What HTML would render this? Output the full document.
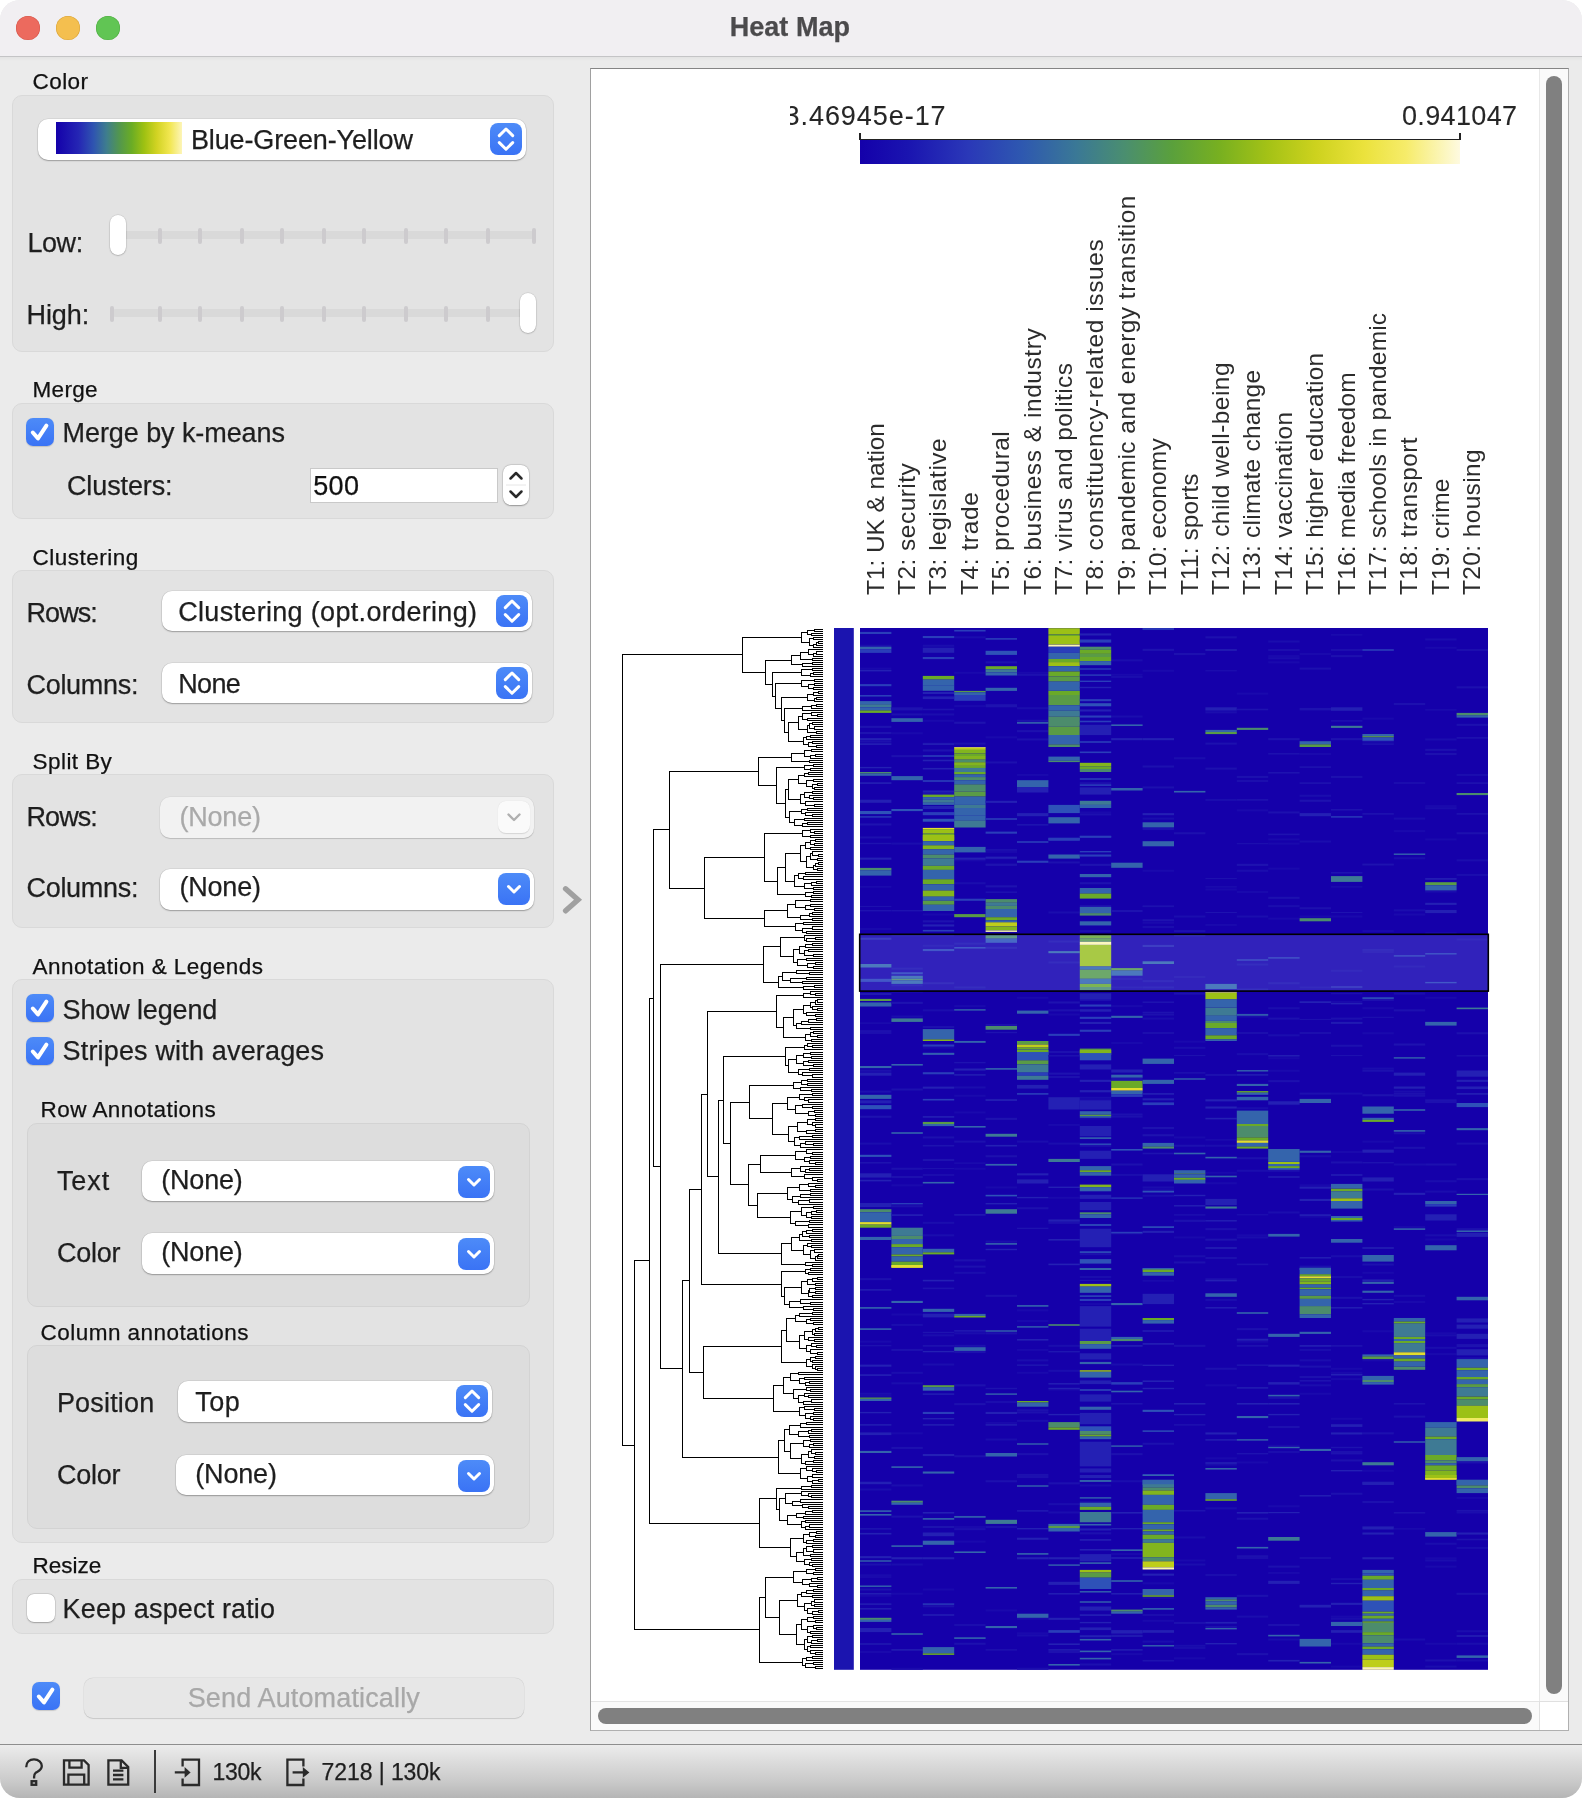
<!DOCTYPE html>
<html><head><meta charset="utf-8"><title>Heat Map</title>
<style>
html,body{margin:0;padding:0;}
body{width:1582px;height:1798px;position:relative;overflow:hidden;background:#fff;font-family:"Liberation Sans",Arial,sans-serif;}
.t{position:absolute;white-space:nowrap;line-height:1;-webkit-text-stroke:0.25px currentColor;}
</style></head><body><div style="position:absolute;left:0;top:0;width:1582px;height:1798px;border-radius:20px;overflow:hidden;background:#ebebeb;">
<div style="position:absolute;left:0px;top:0px;width:1582px;height:57px;background:#f1eff2;border-bottom:1px solid #c4c4c6;box-sizing:border-box;"></div>
<div style="position:absolute;left:0px;top:57px;width:1582px;height:4px;background:linear-gradient(rgba(0,0,0,0.035),rgba(0,0,0,0));"></div>
<div style="position:absolute;left:16px;top:16px;width:24px;height:24px;border-radius:50%;background:#ec6a5e;box-shadow:inset 0 0 0 0.5px #d25448;"></div>
<div style="position:absolute;left:56px;top:16px;width:24px;height:24px;border-radius:50%;background:#f4bf4f;box-shadow:inset 0 0 0 0.5px #d6a036;"></div>
<div style="position:absolute;left:96px;top:16px;width:24px;height:24px;border-radius:50%;background:#61c554;box-shadow:inset 0 0 0 0.5px #4ca93f;"></div>
<div class="t" style="left:729.70px;top:14.00px;font-size:27px;color:#4b4a4c;letter-spacing:0.043px;font-weight:bold;">Heat Map</div>
<div class="t" style="left:32.60px;top:71.00px;font-size:22.5px;color:#111;letter-spacing:0.400px;">Color</div>
<div style="position:absolute;left:12px;top:95px;width:542px;height:256.5px;background:#e3e3e3;border:1px solid #d9d9d9;border-radius:10px;box-sizing:border-box;"></div>
<div style="position:absolute;left:38px;top:119px;width:488px;height:40.5px;background:#fff;border-radius:10px;box-shadow:0 1px 1.5px rgba(0,0,0,0.28),0 0 0 0.5px rgba(0,0,0,0.10);"></div>
<div style="position:absolute;left:490px;top:123px;width:32px;height:32px;border-radius:8px;background:linear-gradient(#4d8bf8,#3a73f5);"><svg width="32" height="32" viewBox="0 0 32 32" style="position:absolute;left:0;top:0"><path d="M9.3 12.6 L16 6 L22.7 12.6 M9.3 19.6 L16 26.2 L22.7 19.6" fill="none" stroke="#fff" stroke-width="3" stroke-linecap="round" stroke-linejoin="round"/></svg></div>
<div style="position:absolute;left:56px;top:122px;width:126px;height:32px;background:linear-gradient(90deg,#1400aa 0%,#2526b4 18%,#2f55b0 30%,#3e7d8e 40%,#52964f 50%,#6aac25 60%,#9ec112 70%,#d2d323 80%,#f1e64f 90%,#fdf5b8 100%);"></div>
<div class="t" style="left:191.00px;top:127.00px;font-size:27px;color:#1e1e1e;letter-spacing:-0.137px;">Blue-Green-Yellow</div>
<div class="t" style="left:27.40px;top:230.00px;font-size:27px;color:#1e1e1e;letter-spacing:-0.400px;">Low:</div>
<div style="position:absolute;left:112px;top:231px;width:423px;height:8px;background:#d9d9d9;border-radius:4px;"></div>
<div style="position:absolute;left:158px;top:228px;width:4px;height:16px;background:#cdcbce;border-radius:2px;"></div>
<div style="position:absolute;left:198px;top:228px;width:4px;height:16px;background:#cdcbce;border-radius:2px;"></div>
<div style="position:absolute;left:239.7px;top:228px;width:4.0px;height:16px;background:#cdcbce;border-radius:2px;"></div>
<div style="position:absolute;left:279.8px;top:228px;width:4.0px;height:16px;background:#cdcbce;border-radius:2px;"></div>
<div style="position:absolute;left:321.9px;top:228px;width:4.0px;height:16px;background:#cdcbce;border-radius:2px;"></div>
<div style="position:absolute;left:361.7px;top:228px;width:4.0px;height:16px;background:#cdcbce;border-radius:2px;"></div>
<div style="position:absolute;left:403.8px;top:228px;width:4.0px;height:16px;background:#cdcbce;border-radius:2px;"></div>
<div style="position:absolute;left:444px;top:228px;width:4px;height:16px;background:#cdcbce;border-radius:2px;"></div>
<div style="position:absolute;left:485.7px;top:228px;width:4.0px;height:16px;background:#cdcbce;border-radius:2px;"></div>
<div style="position:absolute;left:532px;top:228px;width:4px;height:16px;background:#cdcbce;border-radius:2px;"></div>
<div style="position:absolute;left:109.7px;top:214.5px;width:16.39999999999999px;height:40.69999999999999px;background:#fff;border-radius:8.2px;box-shadow:0 0.5px 1.5px rgba(0,0,0,0.3),0 0 0 0.5px rgba(0,0,0,0.08);"></div>
<div class="t" style="left:26.50px;top:302.00px;font-size:27px;color:#1e1e1e;letter-spacing:-0.100px;">High:</div>
<div style="position:absolute;left:112px;top:309px;width:423px;height:8px;background:#d9d9d9;border-radius:4px;"></div>
<div style="position:absolute;left:110px;top:306px;width:4px;height:16px;background:#cdcbce;border-radius:2px;"></div>
<div style="position:absolute;left:158px;top:306px;width:4px;height:16px;background:#cdcbce;border-radius:2px;"></div>
<div style="position:absolute;left:198px;top:306px;width:4px;height:16px;background:#cdcbce;border-radius:2px;"></div>
<div style="position:absolute;left:239.7px;top:306px;width:4.0px;height:16px;background:#cdcbce;border-radius:2px;"></div>
<div style="position:absolute;left:279.8px;top:306px;width:4.0px;height:16px;background:#cdcbce;border-radius:2px;"></div>
<div style="position:absolute;left:321.9px;top:306px;width:4.0px;height:16px;background:#cdcbce;border-radius:2px;"></div>
<div style="position:absolute;left:361.7px;top:306px;width:4.0px;height:16px;background:#cdcbce;border-radius:2px;"></div>
<div style="position:absolute;left:403.8px;top:306px;width:4.0px;height:16px;background:#cdcbce;border-radius:2px;"></div>
<div style="position:absolute;left:444px;top:306px;width:4px;height:16px;background:#cdcbce;border-radius:2px;"></div>
<div style="position:absolute;left:485.7px;top:306px;width:4.0px;height:16px;background:#cdcbce;border-radius:2px;"></div>
<div style="position:absolute;left:519.5px;top:292.5px;width:16.399999999999977px;height:40.69999999999999px;background:#fff;border-radius:8.2px;box-shadow:0 0.5px 1.5px rgba(0,0,0,0.3),0 0 0 0.5px rgba(0,0,0,0.08);"></div>
<div class="t" style="left:32.60px;top:379.00px;font-size:22.5px;color:#111;letter-spacing:0.275px;">Merge</div>
<div style="position:absolute;left:12px;top:402.5px;width:542px;height:116.0px;background:#e3e3e3;border:1px solid #d9d9d9;border-radius:10px;box-sizing:border-box;"></div>
<div style="position:absolute;left:26px;top:418px;width:28px;height:28px;border-radius:7px;background:linear-gradient(#4d8bf8,#3a73f5);box-shadow:0 0.5px 1px rgba(0,0,0,0.15);"><svg width="28" height="28" viewBox="0 0 28 28" style="position:absolute;left:0;top:0"><path d="M6.8 14.5 L12 20.4 L20.4 7.6" fill="none" stroke="#fff" stroke-width="4" stroke-linecap="round" stroke-linejoin="round"/></svg></div>
<div class="t" style="left:62.60px;top:420.00px;font-size:27px;color:#1e1e1e;letter-spacing:-0.080px;">Merge by k-means</div>
<div class="t" style="left:67.00px;top:473.00px;font-size:27px;color:#1e1e1e;letter-spacing:-0.125px;">Clusters:</div>
<div style="position:absolute;left:310px;top:468px;width:188px;height:35px;background:#fff;box-shadow:0 0 0 1px #c9c9c9 inset,0 1px 0 #bdbdbd inset;"></div>
<div class="t" style="left:313.20px;top:473.00px;font-size:27px;color:#111;letter-spacing:0.400px;">500</div>
<div style="position:absolute;left:503px;top:465px;width:26px;height:40px;border-radius:8px;background:#fff;box-shadow:0 0.5px 1.5px rgba(0,0,0,0.3),0 0 0 0.5px rgba(0,0,0,0.1);"><svg width="26" height="40" viewBox="0 0 26 40" style="position:absolute;left:0;top:0"><path d="M7.5 13.5 L13 8 L18.5 13.5 M7.5 26.5 L13 32 L18.5 26.5" fill="none" stroke="#2a2a2a" stroke-width="2.5" stroke-linecap="round" stroke-linejoin="round"/><line x1="3" y1="20" x2="23" y2="20" stroke="#e6e6e6" stroke-width="1"/></svg></div>
<div class="t" style="left:32.60px;top:547.00px;font-size:22.5px;color:#111;letter-spacing:0.500px;">Clustering</div>
<div style="position:absolute;left:12px;top:570px;width:542px;height:153.29999999999995px;background:#e3e3e3;border:1px solid #d9d9d9;border-radius:10px;box-sizing:border-box;"></div>
<div class="t" style="left:26.50px;top:600.00px;font-size:27px;color:#1e1e1e;letter-spacing:-0.925px;">Rows:</div>
<div style="position:absolute;left:162px;top:591.3px;width:369.70000000000005px;height:39.80000000000007px;background:#fff;border-radius:10px;box-shadow:0 1px 1.5px rgba(0,0,0,0.28),0 0 0 0.5px rgba(0,0,0,0.10);"></div>
<div style="position:absolute;left:496px;top:595px;width:32px;height:32px;border-radius:8px;background:linear-gradient(#4d8bf8,#3a73f5);"><svg width="32" height="32" viewBox="0 0 32 32" style="position:absolute;left:0;top:0"><path d="M9.3 12.6 L16 6 L22.7 12.6 M9.3 19.6 L16 26.2 L22.7 19.6" fill="none" stroke="#fff" stroke-width="3" stroke-linecap="round" stroke-linejoin="round"/></svg></div>
<div class="t" style="left:178.20px;top:599.00px;font-size:27px;color:#1e1e1e;letter-spacing:0.321px;">Clustering (opt.ordering)</div>
<div class="t" style="left:26.50px;top:672.00px;font-size:27px;color:#1e1e1e;letter-spacing:-0.300px;">Columns:</div>
<div style="position:absolute;left:162px;top:663.4px;width:369.70000000000005px;height:39.80000000000007px;background:#fff;border-radius:10px;box-shadow:0 1px 1.5px rgba(0,0,0,0.28),0 0 0 0.5px rgba(0,0,0,0.10);"></div>
<div style="position:absolute;left:496px;top:667px;width:32px;height:32px;border-radius:8px;background:linear-gradient(#4d8bf8,#3a73f5);"><svg width="32" height="32" viewBox="0 0 32 32" style="position:absolute;left:0;top:0"><path d="M9.3 12.6 L16 6 L22.7 12.6 M9.3 19.6 L16 26.2 L22.7 19.6" fill="none" stroke="#fff" stroke-width="3" stroke-linecap="round" stroke-linejoin="round"/></svg></div>
<div class="t" style="left:178.20px;top:671.00px;font-size:27px;color:#1e1e1e;letter-spacing:-0.633px;">None</div>
<div class="t" style="left:32.60px;top:751.00px;font-size:22.5px;color:#111;letter-spacing:0.429px;">Split By</div>
<div style="position:absolute;left:12px;top:774px;width:542px;height:153.5px;background:#e3e3e3;border:1px solid #d9d9d9;border-radius:10px;box-sizing:border-box;"></div>
<div class="t" style="left:26.50px;top:804.00px;font-size:27px;color:#1e1e1e;letter-spacing:-0.925px;">Rows:</div>
<div style="position:absolute;left:160px;top:797px;width:374px;height:40.5px;background:#f2f2f2;border-radius:10px;box-shadow:0 1px 1px rgba(0,0,0,0.15),0 0 0 0.5px rgba(0,0,0,0.06);"></div>
<div style="position:absolute;left:498px;top:801px;width:32px;height:32px;border-radius:8px;background:#fafafa;box-shadow:0 0.5px 1px rgba(0,0,0,0.12);"><svg width="32" height="32" viewBox="0 0 32 32" style="position:absolute;left:0;top:0"><path d="M10.5 13.5 L16 19 L21.5 13.5" fill="none" stroke="#b0b0b0" stroke-width="2.4" stroke-linecap="round" stroke-linejoin="round"/></svg></div>
<div class="t" style="left:179.40px;top:804.00px;font-size:27px;color:#a9a9a9;letter-spacing:-0.180px;">(None)</div>
<div class="t" style="left:26.50px;top:875.00px;font-size:27px;color:#1e1e1e;letter-spacing:-0.300px;">Columns:</div>
<div style="position:absolute;left:160px;top:869px;width:374px;height:40.5px;background:#fff;border-radius:10px;box-shadow:0 1px 1.5px rgba(0,0,0,0.28),0 0 0 0.5px rgba(0,0,0,0.10);"></div>
<div style="position:absolute;left:498px;top:873px;width:32px;height:32px;border-radius:8px;background:linear-gradient(#4d8bf8,#3a73f5);"><svg width="32" height="32" viewBox="0 0 32 32" style="position:absolute;left:0;top:0"><path d="M10.5 13.5 L16 19 L21.5 13.5" fill="none" stroke="#fff" stroke-width="3" stroke-linecap="round" stroke-linejoin="round"/></svg></div>
<div class="t" style="left:179.40px;top:874.00px;font-size:27px;color:#1e1e1e;letter-spacing:-0.180px;">(None)</div>
<svg style="position:absolute;left:556px;top:880px" width="32" height="40" viewBox="0 0 32 40"><path d="M9.6 8.8 L22 19.8 L9.6 30.8" fill="none" stroke="#a0a0a0" stroke-width="5.4" stroke-linecap="round" stroke-linejoin="miter"/></svg>
<div class="t" style="left:32.60px;top:956.00px;font-size:22.5px;color:#111;letter-spacing:0.474px;">Annotation &amp; Legends</div>
<div style="position:absolute;left:12px;top:979px;width:542px;height:564px;background:#e3e3e3;border:1px solid #d9d9d9;border-radius:10px;box-sizing:border-box;"></div>
<div style="position:absolute;left:26px;top:994px;width:28px;height:28px;border-radius:7px;background:linear-gradient(#4d8bf8,#3a73f5);box-shadow:0 0.5px 1px rgba(0,0,0,0.15);"><svg width="28" height="28" viewBox="0 0 28 28" style="position:absolute;left:0;top:0"><path d="M6.8 14.5 L12 20.4 L20.4 7.6" fill="none" stroke="#fff" stroke-width="4" stroke-linecap="round" stroke-linejoin="round"/></svg></div>
<div class="t" style="left:62.60px;top:997.00px;font-size:27px;color:#1e1e1e;letter-spacing:-0.140px;">Show legend</div>
<div style="position:absolute;left:26px;top:1036.5px;width:28px;height:28px;border-radius:7px;background:linear-gradient(#4d8bf8,#3a73f5);box-shadow:0 0.5px 1px rgba(0,0,0,0.15);"><svg width="28" height="28" viewBox="0 0 28 28" style="position:absolute;left:0;top:0"><path d="M6.8 14.5 L12 20.4 L20.4 7.6" fill="none" stroke="#fff" stroke-width="4" stroke-linecap="round" stroke-linejoin="round"/></svg></div>
<div class="t" style="left:62.60px;top:1038.00px;font-size:27px;color:#1e1e1e;letter-spacing:0.165px;">Stripes with averages</div>
<div class="t" style="left:40.60px;top:1099.00px;font-size:22.5px;color:#111;letter-spacing:0.450px;">Row Annotations</div>
<div style="position:absolute;left:26.5px;top:1122.5px;width:503.5px;height:184.5px;background:#dddddd;border:1px solid #d3d3d3;border-radius:10px;box-sizing:border-box;"></div>
<div class="t" style="left:56.90px;top:1168.00px;font-size:27px;color:#1e1e1e;letter-spacing:0.933px;">Text</div>
<div style="position:absolute;left:142.2px;top:1161px;width:351.5px;height:39.799999999999955px;background:#fff;border-radius:10px;box-shadow:0 1px 1.5px rgba(0,0,0,0.28),0 0 0 0.5px rgba(0,0,0,0.10);"></div>
<div style="position:absolute;left:458px;top:1165.5px;width:32px;height:32px;border-radius:8px;background:linear-gradient(#4d8bf8,#3a73f5);"><svg width="32" height="32" viewBox="0 0 32 32" style="position:absolute;left:0;top:0"><path d="M10.5 13.5 L16 19 L21.5 13.5" fill="none" stroke="#fff" stroke-width="3" stroke-linecap="round" stroke-linejoin="round"/></svg></div>
<div class="t" style="left:161.20px;top:1167.00px;font-size:27px;color:#1e1e1e;letter-spacing:-0.180px;">(None)</div>
<div class="t" style="left:56.90px;top:1240.00px;font-size:27px;color:#1e1e1e;letter-spacing:-0.200px;">Color</div>
<div style="position:absolute;left:142.2px;top:1233px;width:351.5px;height:40.59999999999991px;background:#fff;border-radius:10px;box-shadow:0 1px 1.5px rgba(0,0,0,0.28),0 0 0 0.5px rgba(0,0,0,0.10);"></div>
<div style="position:absolute;left:458px;top:1237.5px;width:32px;height:32px;border-radius:8px;background:linear-gradient(#4d8bf8,#3a73f5);"><svg width="32" height="32" viewBox="0 0 32 32" style="position:absolute;left:0;top:0"><path d="M10.5 13.5 L16 19 L21.5 13.5" fill="none" stroke="#fff" stroke-width="3" stroke-linecap="round" stroke-linejoin="round"/></svg></div>
<div class="t" style="left:161.20px;top:1239.00px;font-size:27px;color:#1e1e1e;letter-spacing:-0.180px;">(None)</div>
<div class="t" style="left:40.60px;top:1322.00px;font-size:22.5px;color:#111;letter-spacing:0.453px;">Column annotations</div>
<div style="position:absolute;left:26.5px;top:1345px;width:503.5px;height:184px;background:#dddddd;border:1px solid #d3d3d3;border-radius:10px;box-sizing:border-box;"></div>
<div class="t" style="left:56.90px;top:1390.00px;font-size:27px;color:#1e1e1e;letter-spacing:0.186px;">Position</div>
<div style="position:absolute;left:178.2px;top:1381px;width:313.6px;height:40.5px;background:#fff;border-radius:10px;box-shadow:0 1px 1.5px rgba(0,0,0,0.28),0 0 0 0.5px rgba(0,0,0,0.10);"></div>
<div style="position:absolute;left:456px;top:1385px;width:32px;height:32px;border-radius:8px;background:linear-gradient(#4d8bf8,#3a73f5);"><svg width="32" height="32" viewBox="0 0 32 32" style="position:absolute;left:0;top:0"><path d="M9.3 12.6 L16 6 L22.7 12.6 M9.3 19.6 L16 26.2 L22.7 19.6" fill="none" stroke="#fff" stroke-width="3" stroke-linecap="round" stroke-linejoin="round"/></svg></div>
<div class="t" style="left:195.30px;top:1389.00px;font-size:27px;color:#1e1e1e;letter-spacing:0.450px;">Top</div>
<div class="t" style="left:56.90px;top:1462.00px;font-size:27px;color:#1e1e1e;letter-spacing:-0.200px;">Color</div>
<div style="position:absolute;left:176.3px;top:1455px;width:317.4px;height:40.40000000000009px;background:#fff;border-radius:10px;box-shadow:0 1px 1.5px rgba(0,0,0,0.28),0 0 0 0.5px rgba(0,0,0,0.10);"></div>
<div style="position:absolute;left:458px;top:1459.5px;width:32px;height:32px;border-radius:8px;background:linear-gradient(#4d8bf8,#3a73f5);"><svg width="32" height="32" viewBox="0 0 32 32" style="position:absolute;left:0;top:0"><path d="M10.5 13.5 L16 19 L21.5 13.5" fill="none" stroke="#fff" stroke-width="3" stroke-linecap="round" stroke-linejoin="round"/></svg></div>
<div class="t" style="left:195.30px;top:1461.00px;font-size:27px;color:#1e1e1e;letter-spacing:-0.180px;">(None)</div>
<div class="t" style="left:32.60px;top:1555.00px;font-size:22.5px;color:#111;letter-spacing:-0.040px;">Resize</div>
<div style="position:absolute;left:12px;top:1578.5px;width:542px;height:55.0px;background:#e3e3e3;border:1px solid #d9d9d9;border-radius:10px;box-sizing:border-box;"></div>
<div style="position:absolute;left:26.5px;top:1594px;width:28px;height:28px;border-radius:7px;background:#fff;box-shadow:0 0.5px 1.5px rgba(0,0,0,0.25),0 0 0 0.5px rgba(0,0,0,0.12);"></div>
<div class="t" style="left:62.60px;top:1596.00px;font-size:27px;color:#1e1e1e;letter-spacing:0.144px;">Keep aspect ratio</div>
<div style="position:absolute;left:32px;top:1682px;width:28px;height:28px;border-radius:7px;background:linear-gradient(#4d8bf8,#3a73f5);box-shadow:0 0.5px 1px rgba(0,0,0,0.15);"><svg width="28" height="28" viewBox="0 0 28 28" style="position:absolute;left:0;top:0"><path d="M6.8 14.5 L12 20.4 L20.4 7.6" fill="none" stroke="#fff" stroke-width="4" stroke-linecap="round" stroke-linejoin="round"/></svg></div>
<div style="position:absolute;left:84.2px;top:1678px;width:440.3px;height:40.40000000000009px;background:#e7e7e7;border-radius:9px;box-shadow:0 0.5px 1px rgba(0,0,0,0.12),0 0 0 0.5px rgba(0,0,0,0.06);"></div>
<div class="t" style="left:187.70px;top:1685.00px;font-size:27px;color:#a8a8a8;letter-spacing:0.147px;">Send Automatically</div>
<div style="position:absolute;left:0px;top:1744px;width:1582px;height:54px;background:linear-gradient(#ececec,#e2e2e2 20%,#c9c9c9 70%,#b5b5b5);border-top:1px solid #8e8e8e;box-sizing:border-box;"></div>
<div style="position:absolute;left:153.5px;top:1750px;width:2.0px;height:43px;background:#3a3a3a;"></div>

<svg style="position:absolute;left:0;top:1744px" width="320" height="54" viewBox="0 1744 320 54">
<g fill="none" stroke="#2a2a2a" stroke-width="2.3" stroke-linecap="butt" stroke-linejoin="miter">
 <path d="M26.2 1767.2 C26.2 1762 29.6 1759.4 34 1759.4 C38.6 1759.4 41.8 1762.2 41.8 1766 C41.8 1770.2 37.6 1771.4 35.6 1772.8 C34.4 1773.8 34.1 1775 34.1 1777 L34.1 1778.6"/>
 <rect x="31.6" y="1781.2" width="4.6" height="3.6"/>
 <path d="M64 1760.4 L84 1760.4 L88.6 1765 L88.6 1784.6 L64 1784.6 Z"/>
 <path d="M69.4 1760.4 L69.4 1767.6 L81.6 1767.6 L81.6 1760.4"/>
 <path d="M68.4 1784.6 L68.4 1774.6 L84.2 1774.6 L84.2 1784.6"/>
 <path d="M108.4 1760.4 L121.6 1760.4 L128.2 1767 L128.2 1784.6 L108.4 1784.6 Z"/>
 <path d="M120.8 1760.4 L120.8 1767.8 L128.2 1767.8"/>
 <path d="M113 1770.6 L123.4 1770.6 M113 1775 L123.4 1775 M113 1779.4 L123.4 1779.4"/>
 <path d="M182.6 1766.4 L182.6 1759.6 L199 1759.6 L199 1785 L182.6 1785 L182.6 1778.6"/>
 <path d="M174.8 1772.4 L185.5 1772.4"/>
 <path d="M303.4 1766.4 L303.4 1759.6 L287.4 1759.6 L287.4 1785 L303.4 1785 L303.4 1778.6"/>
 <path d="M292.6 1772.4 L303.5 1772.4"/>
</g>
<path d="M184.6 1767 L190.6 1772.4 L184.6 1777.8 Z" fill="#2a2a2a"/>
<path d="M302.8 1767 L309.4 1772.4 L302.8 1777.8 Z" fill="#2a2a2a"/>
</svg>
<div class="t" style="left:212.40px;top:1761.00px;font-size:23px;color:#1e1e1e;letter-spacing:-0.233px;">130k</div>
<div class="t" style="left:321.60px;top:1761.00px;font-size:23px;color:#1e1e1e;letter-spacing:-0.090px;">7218 | 130k</div>
<div style="position:absolute;left:590px;top:68px;width:979px;height:1663px;background:#fff;border:1px solid #b0b0b0;border-top-color:#858585;border-left-color:#a0a0a0;box-sizing:border-box;"></div>
<div style="position:absolute;left:1539px;top:69px;width:29px;height:1631.5px;background:#fafafa;border-left:1px solid #e8e8e8;box-sizing:border-box;"></div>
<div style="position:absolute;left:1546px;top:76px;width:16px;height:1618px;background:#808080;border-radius:8px;"></div>
<div style="position:absolute;left:591px;top:1700.5px;width:948px;height:29.5px;background:#fafafa;border-top:1px solid #e4e4e4;box-sizing:border-box;"></div>
<div style="position:absolute;left:598px;top:1708px;width:934px;height:16px;background:#808080;border-radius:8px;"></div>
<div style="position:absolute;left:1539px;top:1700.5px;width:29px;height:29.5px;background:#fff;border-left:1px solid #e0e0e0;border-top:1px solid #e0e0e0;box-sizing:border-box;"></div>
<div style="position:absolute;left:789.6px;top:95px;width:160px;height:40px;overflow:hidden;"><div class="t" style="left:-15.00px;top:8.00px;font-size:27px;color:#262626;letter-spacing:0.945px;-webkit-text-stroke:0.1px #262626;">-3.46945e-17</div></div>
<div class="t" style="left:1402.00px;top:103.00px;font-size:27px;color:#262626;letter-spacing:0.343px;-webkit-text-stroke:0.1px #262626;">0.941047</div>
<div style="position:absolute;left:860px;top:140px;width:600px;height:24px;background:linear-gradient(90deg,#1400aa 0%,#1a14b0 8%,#2a38b8 18%,#2e58b0 27%,#3a7896 36%,#4a8e70 44%,#5aa03c 52%,#78b020 60%,#a4c216 68%,#cdd21e 76%,#ebe23c 84%,#f6ec6a 91%,#fefae0 100%);"></div>
<div style="position:absolute;left:860px;top:138.8px;width:601px;height:1.3999999999999773px;background:#222;"></div>
<div style="position:absolute;left:859.4px;top:133px;width:1.3999999999999773px;height:7.199999999999989px;background:#222;"></div>
<div style="position:absolute;left:1459.4px;top:133px;width:1.3999999999998636px;height:7.199999999999989px;background:#222;"></div>
<div class="t" style="left:863.56px;top:594.60px;font-size:24.5px;color:#2c2c2c;letter-spacing:-0.071px;-webkit-text-stroke:0;transform-origin:0 0;transform:rotate(-90deg);">T1: UK &amp; nation</div>
<div class="t" style="left:894.96px;top:594.60px;font-size:24.5px;color:#2c2c2c;letter-spacing:0.473px;-webkit-text-stroke:0;transform-origin:0 0;transform:rotate(-90deg);">T2: security</div>
<div class="t" style="left:926.36px;top:594.60px;font-size:24.5px;color:#2c2c2c;letter-spacing:0.493px;-webkit-text-stroke:0;transform-origin:0 0;transform:rotate(-90deg);">T3: legislative</div>
<div class="t" style="left:957.76px;top:594.60px;font-size:24.5px;color:#2c2c2c;letter-spacing:0.600px;-webkit-text-stroke:0;transform-origin:0 0;transform:rotate(-90deg);">T4: trade</div>
<div class="t" style="left:989.16px;top:594.60px;font-size:24.5px;color:#2c2c2c;letter-spacing:0.446px;-webkit-text-stroke:0;transform-origin:0 0;transform:rotate(-90deg);">T5: procedural</div>
<div class="t" style="left:1020.56px;top:594.60px;font-size:24.5px;color:#2c2c2c;letter-spacing:0.545px;-webkit-text-stroke:0;transform-origin:0 0;transform:rotate(-90deg);">T6: business &amp; industry</div>
<div class="t" style="left:1051.96px;top:594.60px;font-size:24.5px;color:#2c2c2c;letter-spacing:0.414px;-webkit-text-stroke:0;transform-origin:0 0;transform:rotate(-90deg);">T7: virus and politics</div>
<div class="t" style="left:1083.36px;top:594.60px;font-size:24.5px;color:#2c2c2c;letter-spacing:0.600px;-webkit-text-stroke:0;transform-origin:0 0;transform:rotate(-90deg);">T8: constituency-related issues</div>
<div class="t" style="left:1114.76px;top:594.60px;font-size:24.5px;color:#2c2c2c;letter-spacing:0.467px;-webkit-text-stroke:0;transform-origin:0 0;transform:rotate(-90deg);">T9: pandemic and energy transition</div>
<div class="t" style="left:1146.16px;top:594.60px;font-size:24.5px;color:#2c2c2c;letter-spacing:0.127px;-webkit-text-stroke:0;transform-origin:0 0;transform:rotate(-90deg);">T10: economy</div>
<div class="t" style="left:1177.56px;top:594.60px;font-size:24.5px;color:#2c2c2c;letter-spacing:0.080px;-webkit-text-stroke:0;transform-origin:0 0;transform:rotate(-90deg);">T11: sports</div>
<div class="t" style="left:1208.96px;top:594.60px;font-size:24.5px;color:#2c2c2c;letter-spacing:0.460px;-webkit-text-stroke:0;transform-origin:0 0;transform:rotate(-90deg);">T12: child well-being</div>
<div class="t" style="left:1240.36px;top:594.60px;font-size:24.5px;color:#2c2c2c;letter-spacing:0.250px;-webkit-text-stroke:0;transform-origin:0 0;transform:rotate(-90deg);">T13: climate change</div>
<div class="t" style="left:1271.76px;top:594.60px;font-size:24.5px;color:#2c2c2c;letter-spacing:0.307px;-webkit-text-stroke:0;transform-origin:0 0;transform:rotate(-90deg);">T14: vaccination</div>
<div class="t" style="left:1303.16px;top:594.60px;font-size:24.5px;color:#2c2c2c;letter-spacing:0.260px;-webkit-text-stroke:0;transform-origin:0 0;transform:rotate(-90deg);">T15: higher education</div>
<div class="t" style="left:1334.56px;top:594.60px;font-size:24.5px;color:#2c2c2c;letter-spacing:0.200px;-webkit-text-stroke:0;transform-origin:0 0;transform:rotate(-90deg);">T16: media freedom</div>
<div class="t" style="left:1365.96px;top:594.60px;font-size:24.5px;color:#2c2c2c;letter-spacing:0.187px;-webkit-text-stroke:0;transform-origin:0 0;transform:rotate(-90deg);">T17: schools in pandemic</div>
<div class="t" style="left:1397.36px;top:594.60px;font-size:24.5px;color:#2c2c2c;letter-spacing:0.392px;-webkit-text-stroke:0;transform-origin:0 0;transform:rotate(-90deg);">T18: transport</div>
<div class="t" style="left:1428.76px;top:594.60px;font-size:24.5px;color:#2c2c2c;letter-spacing:0.078px;-webkit-text-stroke:0;transform-origin:0 0;transform:rotate(-90deg);">T19: crime</div>
<div class="t" style="left:1460.16px;top:594.60px;font-size:24.5px;color:#2c2c2c;letter-spacing:0.364px;-webkit-text-stroke:0;transform-origin:0 0;transform:rotate(-90deg);">T20: housing</div>
<svg style="position:absolute;left:591px;top:69px" width="948" height="1631" viewBox="591 69 948 1631"><rect x="860" y="628" width="628" height="1041.8" fill="#1500aa"/><rect x="860.0" y="644.7" width="31.4" height="2.08" fill="#1b0dae"/><rect x="860.0" y="667.6" width="31.4" height="2.08" fill="#1a09ad"/><rect x="860.0" y="669.7" width="31.4" height="2.08" fill="#1a09ad"/><rect x="860.0" y="740.5" width="31.4" height="2.08" fill="#1d10af"/><rect x="860.0" y="836.4" width="31.4" height="2.08" fill="#1d10af"/><rect x="860.0" y="1030.1" width="31.4" height="2.08" fill="#1d10af"/><rect x="860.0" y="1069.7" width="31.4" height="2.08" fill="#1d10af"/><rect x="860.0" y="1090.6" width="31.4" height="2.08" fill="#1d10af"/><rect x="860.0" y="1142.6" width="31.4" height="2.08" fill="#1b0dae"/><rect x="860.0" y="1176.0" width="31.4" height="2.08" fill="#1a09ad"/><rect x="860.0" y="1278.1" width="31.4" height="2.08" fill="#1d10af"/><rect x="860.0" y="1340.6" width="31.4" height="2.08" fill="#1a09ad"/><rect x="860.0" y="1392.7" width="31.4" height="2.08" fill="#1b0dae"/><rect x="860.0" y="1394.8" width="31.4" height="2.08" fill="#1a09ad"/><rect x="860.0" y="1488.5" width="31.4" height="2.08" fill="#1b0dae"/><rect x="860.0" y="1563.5" width="31.4" height="2.08" fill="#1d10af"/><rect x="860.0" y="1576.0" width="31.4" height="2.08" fill="#1a09ad"/><rect x="860.0" y="1588.5" width="31.4" height="2.08" fill="#1d10af"/><rect x="860.0" y="1594.8" width="31.4" height="2.08" fill="#1a09ad"/><rect x="860.0" y="1651.0" width="31.4" height="2.08" fill="#1a09ad"/><rect x="891.4" y="713.4" width="31.4" height="2.08" fill="#1d10af"/><rect x="891.4" y="732.2" width="31.4" height="2.08" fill="#1a09ad"/><rect x="891.4" y="755.1" width="31.4" height="2.08" fill="#1d10af"/><rect x="891.4" y="842.6" width="31.4" height="2.08" fill="#1b0dae"/><rect x="891.4" y="934.3" width="31.4" height="2.08" fill="#1a09ad"/><rect x="891.4" y="967.6" width="31.4" height="2.08" fill="#1b0dae"/><rect x="891.4" y="984.3" width="31.4" height="2.08" fill="#1b0dae"/><rect x="891.4" y="990.5" width="31.4" height="2.08" fill="#1b0dae"/><rect x="891.4" y="1015.5" width="31.4" height="2.08" fill="#1b0dae"/><rect x="891.4" y="1088.5" width="31.4" height="2.08" fill="#1d10af"/><rect x="891.4" y="1167.7" width="31.4" height="2.08" fill="#1d10af"/><rect x="891.4" y="1176.0" width="31.4" height="2.08" fill="#1d10af"/><rect x="891.4" y="1184.3" width="31.4" height="2.08" fill="#1a09ad"/><rect x="891.4" y="1205.2" width="31.4" height="2.08" fill="#1d10af"/><rect x="891.4" y="1313.5" width="31.4" height="2.08" fill="#1a09ad"/><rect x="891.4" y="1323.9" width="31.4" height="2.08" fill="#1b0dae"/><rect x="891.4" y="1348.9" width="31.4" height="2.08" fill="#1d10af"/><rect x="891.4" y="1371.8" width="31.4" height="2.08" fill="#1b0dae"/><rect x="891.4" y="1382.3" width="31.4" height="2.08" fill="#1b0dae"/><rect x="891.4" y="1432.3" width="31.4" height="2.08" fill="#1a09ad"/><rect x="891.4" y="1446.9" width="31.4" height="2.08" fill="#1d10af"/><rect x="891.4" y="1484.4" width="31.4" height="2.08" fill="#1b0dae"/><rect x="891.4" y="1515.6" width="31.4" height="2.08" fill="#1d10af"/><rect x="891.4" y="1563.5" width="31.4" height="2.08" fill="#1b0dae"/><rect x="891.4" y="1592.7" width="31.4" height="2.08" fill="#1a09ad"/><rect x="891.4" y="1667.7" width="31.4" height="2.08" fill="#1a09ad"/><rect x="922.8" y="644.7" width="31.4" height="2.08" fill="#1b0dae"/><rect x="922.8" y="713.4" width="31.4" height="2.08" fill="#1b0dae"/><rect x="922.8" y="719.7" width="31.4" height="2.08" fill="#1a09ad"/><rect x="922.8" y="742.6" width="31.4" height="2.08" fill="#1a09ad"/><rect x="922.8" y="780.1" width="31.4" height="2.08" fill="#1a09ad"/><rect x="922.8" y="792.6" width="31.4" height="2.08" fill="#1d10af"/><rect x="922.8" y="913.5" width="31.4" height="2.08" fill="#1a09ad"/><rect x="922.8" y="934.3" width="31.4" height="2.08" fill="#1a09ad"/><rect x="922.8" y="944.7" width="31.4" height="2.08" fill="#1a09ad"/><rect x="922.8" y="982.2" width="31.4" height="2.08" fill="#1d10af"/><rect x="922.8" y="1009.3" width="31.4" height="2.08" fill="#1b0dae"/><rect x="922.8" y="1026.0" width="31.4" height="2.08" fill="#1d10af"/><rect x="922.8" y="1046.8" width="31.4" height="2.08" fill="#1a09ad"/><rect x="922.8" y="1136.4" width="31.4" height="2.08" fill="#1d10af"/><rect x="922.8" y="1221.8" width="31.4" height="2.08" fill="#1b0dae"/><rect x="922.8" y="1234.3" width="31.4" height="2.08" fill="#1b0dae"/><rect x="922.8" y="1313.5" width="31.4" height="2.08" fill="#1d10af"/><rect x="922.8" y="1334.3" width="31.4" height="2.08" fill="#1b0dae"/><rect x="922.8" y="1363.5" width="31.4" height="2.08" fill="#1b0dae"/><rect x="922.8" y="1588.5" width="31.4" height="2.08" fill="#1a09ad"/><rect x="922.8" y="1605.2" width="31.4" height="2.08" fill="#1d10af"/><rect x="954.2" y="636.3" width="31.4" height="2.08" fill="#1b0dae"/><rect x="954.2" y="671.8" width="31.4" height="2.08" fill="#1a09ad"/><rect x="954.2" y="705.1" width="31.4" height="2.08" fill="#1a09ad"/><rect x="954.2" y="742.6" width="31.4" height="2.08" fill="#1d10af"/><rect x="954.2" y="755.1" width="31.4" height="2.08" fill="#1d10af"/><rect x="954.2" y="790.5" width="31.4" height="2.08" fill="#1a09ad"/><rect x="954.2" y="792.6" width="31.4" height="2.08" fill="#1d10af"/><rect x="954.2" y="859.3" width="31.4" height="2.08" fill="#1a09ad"/><rect x="954.2" y="882.2" width="31.4" height="2.08" fill="#1b0dae"/><rect x="954.2" y="942.6" width="31.4" height="2.08" fill="#1b0dae"/><rect x="954.2" y="986.4" width="31.4" height="2.08" fill="#1b0dae"/><rect x="954.2" y="1005.1" width="31.4" height="2.08" fill="#1a09ad"/><rect x="954.2" y="1040.6" width="31.4" height="2.08" fill="#1a09ad"/><rect x="954.2" y="1086.4" width="31.4" height="2.08" fill="#1b0dae"/><rect x="954.2" y="1094.7" width="31.4" height="2.08" fill="#1a09ad"/><rect x="954.2" y="1111.4" width="31.4" height="2.08" fill="#1a09ad"/><rect x="954.2" y="1140.6" width="31.4" height="2.08" fill="#1d10af"/><rect x="954.2" y="1167.7" width="31.4" height="2.08" fill="#1a09ad"/><rect x="954.2" y="1259.3" width="31.4" height="2.08" fill="#1d10af"/><rect x="954.2" y="1265.6" width="31.4" height="2.08" fill="#1d10af"/><rect x="954.2" y="1271.8" width="31.4" height="2.08" fill="#1b0dae"/><rect x="954.2" y="1332.3" width="31.4" height="2.08" fill="#1b0dae"/><rect x="954.2" y="1344.8" width="31.4" height="2.08" fill="#1d10af"/><rect x="954.2" y="1351.0" width="31.4" height="2.08" fill="#1d10af"/><rect x="954.2" y="1384.3" width="31.4" height="2.08" fill="#1d10af"/><rect x="954.2" y="1403.1" width="31.4" height="2.08" fill="#1d10af"/><rect x="954.2" y="1455.2" width="31.4" height="2.08" fill="#1d10af"/><rect x="954.2" y="1515.6" width="31.4" height="2.08" fill="#1a09ad"/><rect x="954.2" y="1526.0" width="31.4" height="2.08" fill="#1a09ad"/><rect x="954.2" y="1528.1" width="31.4" height="2.08" fill="#1d10af"/><rect x="954.2" y="1540.6" width="31.4" height="2.08" fill="#1a09ad"/><rect x="954.2" y="1624.0" width="31.4" height="2.08" fill="#1b0dae"/><rect x="954.2" y="1642.7" width="31.4" height="2.08" fill="#1d10af"/><rect x="985.6" y="661.3" width="31.4" height="2.08" fill="#1d10af"/><rect x="985.6" y="736.3" width="31.4" height="2.08" fill="#1a09ad"/><rect x="985.6" y="761.4" width="31.4" height="2.08" fill="#1d10af"/><rect x="985.6" y="848.9" width="31.4" height="2.08" fill="#1b0dae"/><rect x="985.6" y="850.9" width="31.4" height="2.08" fill="#1a09ad"/><rect x="985.6" y="857.2" width="31.4" height="2.08" fill="#1b0dae"/><rect x="985.6" y="863.4" width="31.4" height="2.08" fill="#1a09ad"/><rect x="985.6" y="907.2" width="31.4" height="2.08" fill="#1d10af"/><rect x="985.6" y="946.8" width="31.4" height="2.08" fill="#1d10af"/><rect x="985.6" y="1023.9" width="31.4" height="2.08" fill="#1d10af"/><rect x="985.6" y="1026.0" width="31.4" height="2.08" fill="#1a09ad"/><rect x="985.6" y="1098.9" width="31.4" height="2.08" fill="#1d10af"/><rect x="985.6" y="1155.2" width="31.4" height="2.08" fill="#1d10af"/><rect x="985.6" y="1163.5" width="31.4" height="2.08" fill="#1d10af"/><rect x="985.6" y="1186.4" width="31.4" height="2.08" fill="#1a09ad"/><rect x="985.6" y="1240.6" width="31.4" height="2.08" fill="#1b0dae"/><rect x="985.6" y="1294.8" width="31.4" height="2.08" fill="#1d10af"/><rect x="985.6" y="1332.3" width="31.4" height="2.08" fill="#1d10af"/><rect x="985.6" y="1401.0" width="31.4" height="2.08" fill="#1b0dae"/><rect x="985.6" y="1421.9" width="31.4" height="2.08" fill="#1a09ad"/><rect x="985.6" y="1438.5" width="31.4" height="2.08" fill="#1b0dae"/><rect x="985.6" y="1480.2" width="31.4" height="2.08" fill="#1d10af"/><rect x="985.6" y="1526.0" width="31.4" height="2.08" fill="#1d10af"/><rect x="985.6" y="1609.4" width="31.4" height="2.08" fill="#1a09ad"/><rect x="1017.0" y="671.8" width="31.4" height="2.08" fill="#1a09ad"/><rect x="1017.0" y="673.8" width="31.4" height="2.08" fill="#1d10af"/><rect x="1017.0" y="707.2" width="31.4" height="2.08" fill="#1b0dae"/><rect x="1017.0" y="719.7" width="31.4" height="2.08" fill="#1d10af"/><rect x="1017.0" y="730.1" width="31.4" height="2.08" fill="#1d10af"/><rect x="1017.0" y="738.4" width="31.4" height="2.08" fill="#1d10af"/><rect x="1017.0" y="773.9" width="31.4" height="2.08" fill="#1a09ad"/><rect x="1017.0" y="780.1" width="31.4" height="2.08" fill="#1a09ad"/><rect x="1017.0" y="996.8" width="31.4" height="2.08" fill="#1a09ad"/><rect x="1017.0" y="1057.2" width="31.4" height="2.08" fill="#1d10af"/><rect x="1017.0" y="1071.8" width="31.4" height="2.08" fill="#1b0dae"/><rect x="1017.0" y="1140.6" width="31.4" height="2.08" fill="#1b0dae"/><rect x="1017.0" y="1207.2" width="31.4" height="2.08" fill="#1d10af"/><rect x="1017.0" y="1309.3" width="31.4" height="2.08" fill="#1a09ad"/><rect x="1017.0" y="1348.9" width="31.4" height="2.08" fill="#1a09ad"/><rect x="1017.0" y="1359.3" width="31.4" height="2.08" fill="#1b0dae"/><rect x="1017.0" y="1371.8" width="31.4" height="2.08" fill="#1a09ad"/><rect x="1017.0" y="1409.3" width="31.4" height="2.08" fill="#1d10af"/><rect x="1017.0" y="1411.4" width="31.4" height="2.08" fill="#1d10af"/><rect x="1017.0" y="1419.8" width="31.4" height="2.08" fill="#1b0dae"/><rect x="1017.0" y="1453.1" width="31.4" height="2.08" fill="#1d10af"/><rect x="1017.0" y="1473.9" width="31.4" height="2.08" fill="#1d10af"/><rect x="1017.0" y="1476.0" width="31.4" height="2.08" fill="#1d10af"/><rect x="1017.0" y="1617.7" width="31.4" height="2.08" fill="#1a09ad"/><rect x="1017.0" y="1632.3" width="31.4" height="2.08" fill="#1a09ad"/><rect x="1017.0" y="1634.4" width="31.4" height="2.08" fill="#1b0dae"/><rect x="1017.0" y="1667.7" width="31.4" height="2.08" fill="#1b0dae"/><rect x="1048.4" y="630.1" width="31.4" height="2.08" fill="#1b0dae"/><rect x="1048.4" y="698.8" width="31.4" height="2.08" fill="#1a09ad"/><rect x="1048.4" y="705.1" width="31.4" height="2.08" fill="#1d10af"/><rect x="1048.4" y="721.8" width="31.4" height="2.08" fill="#1b0dae"/><rect x="1048.4" y="759.3" width="31.4" height="2.08" fill="#1d10af"/><rect x="1048.4" y="855.1" width="31.4" height="2.08" fill="#1a09ad"/><rect x="1048.4" y="861.4" width="31.4" height="2.08" fill="#1d10af"/><rect x="1048.4" y="911.4" width="31.4" height="2.08" fill="#1b0dae"/><rect x="1048.4" y="940.5" width="31.4" height="2.08" fill="#1b0dae"/><rect x="1048.4" y="961.4" width="31.4" height="2.08" fill="#1b0dae"/><rect x="1048.4" y="1009.3" width="31.4" height="2.08" fill="#1d10af"/><rect x="1048.4" y="1013.5" width="31.4" height="2.08" fill="#1a09ad"/><rect x="1048.4" y="1051.0" width="31.4" height="2.08" fill="#1d10af"/><rect x="1048.4" y="1076.0" width="31.4" height="2.08" fill="#1d10af"/><rect x="1048.4" y="1123.9" width="31.4" height="2.08" fill="#1a09ad"/><rect x="1048.4" y="1142.6" width="31.4" height="2.08" fill="#1b0dae"/><rect x="1048.4" y="1196.8" width="31.4" height="2.08" fill="#1a09ad"/><rect x="1048.4" y="1219.7" width="31.4" height="2.08" fill="#1b0dae"/><rect x="1048.4" y="1221.8" width="31.4" height="2.08" fill="#1d10af"/><rect x="1048.4" y="1344.8" width="31.4" height="2.08" fill="#1b0dae"/><rect x="1048.4" y="1369.8" width="31.4" height="2.08" fill="#1b0dae"/><rect x="1048.4" y="1388.5" width="31.4" height="2.08" fill="#1a09ad"/><rect x="1048.4" y="1423.9" width="31.4" height="2.08" fill="#1a09ad"/><rect x="1048.4" y="1482.3" width="31.4" height="2.08" fill="#1d10af"/><rect x="1048.4" y="1503.1" width="31.4" height="2.08" fill="#1b0dae"/><rect x="1048.4" y="1511.4" width="31.4" height="2.08" fill="#1b0dae"/><rect x="1048.4" y="1526.0" width="31.4" height="2.08" fill="#1d10af"/><rect x="1048.4" y="1651.0" width="31.4" height="2.08" fill="#1d10af"/><rect x="1079.8" y="767.6" width="31.4" height="2.08" fill="#1d10af"/><rect x="1079.8" y="782.2" width="31.4" height="2.08" fill="#1d10af"/><rect x="1079.8" y="811.4" width="31.4" height="2.08" fill="#1a09ad"/><rect x="1079.8" y="813.4" width="31.4" height="2.08" fill="#1d10af"/><rect x="1079.8" y="875.9" width="31.4" height="2.08" fill="#1a09ad"/><rect x="1079.8" y="894.7" width="31.4" height="2.08" fill="#1d10af"/><rect x="1079.8" y="905.1" width="31.4" height="2.08" fill="#1d10af"/><rect x="1079.8" y="923.9" width="31.4" height="2.08" fill="#1a09ad"/><rect x="1079.8" y="930.1" width="31.4" height="2.08" fill="#1d10af"/><rect x="1079.8" y="967.6" width="31.4" height="2.08" fill="#1a09ad"/><rect x="1079.8" y="988.5" width="31.4" height="2.08" fill="#1a09ad"/><rect x="1079.8" y="994.7" width="31.4" height="2.08" fill="#1a09ad"/><rect x="1079.8" y="998.9" width="31.4" height="2.08" fill="#1d10af"/><rect x="1079.8" y="1090.6" width="31.4" height="2.08" fill="#1a09ad"/><rect x="1079.8" y="1096.8" width="31.4" height="2.08" fill="#1b0dae"/><rect x="1079.8" y="1098.9" width="31.4" height="2.08" fill="#1a09ad"/><rect x="1079.8" y="1107.2" width="31.4" height="2.08" fill="#1d10af"/><rect x="1079.8" y="1117.6" width="31.4" height="2.08" fill="#1a09ad"/><rect x="1079.8" y="1144.7" width="31.4" height="2.08" fill="#1d10af"/><rect x="1079.8" y="1167.7" width="31.4" height="2.08" fill="#1d10af"/><rect x="1079.8" y="1223.9" width="31.4" height="2.08" fill="#1d10af"/><rect x="1079.8" y="1253.1" width="31.4" height="2.08" fill="#1d10af"/><rect x="1079.8" y="1276.0" width="31.4" height="2.08" fill="#1b0dae"/><rect x="1079.8" y="1303.1" width="31.4" height="2.08" fill="#1a09ad"/><rect x="1079.8" y="1311.4" width="31.4" height="2.08" fill="#1a09ad"/><rect x="1079.8" y="1361.4" width="31.4" height="2.08" fill="#1b0dae"/><rect x="1079.8" y="1484.4" width="31.4" height="2.08" fill="#1b0dae"/><rect x="1079.8" y="1501.0" width="31.4" height="2.08" fill="#1a09ad"/><rect x="1079.8" y="1532.3" width="31.4" height="2.08" fill="#1d10af"/><rect x="1079.8" y="1557.3" width="31.4" height="2.08" fill="#1b0dae"/><rect x="1079.8" y="1663.5" width="31.4" height="2.08" fill="#1d10af"/><rect x="1111.2" y="659.3" width="31.4" height="2.08" fill="#1b0dae"/><rect x="1111.2" y="673.8" width="31.4" height="2.08" fill="#1a09ad"/><rect x="1111.2" y="675.9" width="31.4" height="2.08" fill="#1b0dae"/><rect x="1111.2" y="715.5" width="31.4" height="2.08" fill="#1b0dae"/><rect x="1111.2" y="978.0" width="31.4" height="2.08" fill="#1a09ad"/><rect x="1111.2" y="986.4" width="31.4" height="2.08" fill="#1a09ad"/><rect x="1111.2" y="1005.1" width="31.4" height="2.08" fill="#1a09ad"/><rect x="1111.2" y="1113.5" width="31.4" height="2.08" fill="#1d10af"/><rect x="1111.2" y="1115.6" width="31.4" height="2.08" fill="#1d10af"/><rect x="1111.2" y="1163.5" width="31.4" height="2.08" fill="#1d10af"/><rect x="1111.2" y="1173.9" width="31.4" height="2.08" fill="#1b0dae"/><rect x="1111.2" y="1232.2" width="31.4" height="2.08" fill="#1d10af"/><rect x="1111.2" y="1363.5" width="31.4" height="2.08" fill="#1b0dae"/><rect x="1111.2" y="1453.1" width="31.4" height="2.08" fill="#1d10af"/><rect x="1111.2" y="1480.2" width="31.4" height="2.08" fill="#1b0dae"/><rect x="1111.2" y="1549.0" width="31.4" height="2.08" fill="#1d10af"/><rect x="1111.2" y="1553.1" width="31.4" height="2.08" fill="#1a09ad"/><rect x="1111.2" y="1632.3" width="31.4" height="2.08" fill="#1d10af"/><rect x="1111.2" y="1653.1" width="31.4" height="2.08" fill="#1a09ad"/><rect x="1142.6" y="628.0" width="31.4" height="2.08" fill="#1b0dae"/><rect x="1142.6" y="669.7" width="31.4" height="2.08" fill="#1a09ad"/><rect x="1142.6" y="765.5" width="31.4" height="2.08" fill="#1d10af"/><rect x="1142.6" y="786.4" width="31.4" height="2.08" fill="#1d10af"/><rect x="1142.6" y="817.6" width="31.4" height="2.08" fill="#1b0dae"/><rect x="1142.6" y="828.0" width="31.4" height="2.08" fill="#1d10af"/><rect x="1142.6" y="869.7" width="31.4" height="2.08" fill="#1a09ad"/><rect x="1142.6" y="905.1" width="31.4" height="2.08" fill="#1b0dae"/><rect x="1142.6" y="921.8" width="31.4" height="2.08" fill="#1a09ad"/><rect x="1142.6" y="926.0" width="31.4" height="2.08" fill="#1b0dae"/><rect x="1142.6" y="980.1" width="31.4" height="2.08" fill="#1b0dae"/><rect x="1142.6" y="986.4" width="31.4" height="2.08" fill="#1b0dae"/><rect x="1142.6" y="1013.5" width="31.4" height="2.08" fill="#1d10af"/><rect x="1142.6" y="1017.6" width="31.4" height="2.08" fill="#1b0dae"/><rect x="1142.6" y="1186.4" width="31.4" height="2.08" fill="#1b0dae"/><rect x="1142.6" y="1188.5" width="31.4" height="2.08" fill="#1a09ad"/><rect x="1142.6" y="1194.7" width="31.4" height="2.08" fill="#1b0dae"/><rect x="1142.6" y="1442.7" width="31.4" height="2.08" fill="#1d10af"/><rect x="1142.6" y="1507.3" width="31.4" height="2.08" fill="#1a09ad"/><rect x="1142.6" y="1515.6" width="31.4" height="2.08" fill="#1b0dae"/><rect x="1142.6" y="1582.3" width="31.4" height="2.08" fill="#1a09ad"/><rect x="1142.6" y="1596.9" width="31.4" height="2.08" fill="#1a09ad"/><rect x="1142.6" y="1619.8" width="31.4" height="2.08" fill="#1a09ad"/><rect x="1142.6" y="1640.6" width="31.4" height="2.08" fill="#1b0dae"/><rect x="1174.0" y="653.0" width="31.4" height="2.08" fill="#1d10af"/><rect x="1174.0" y="757.2" width="31.4" height="2.08" fill="#1b0dae"/><rect x="1174.0" y="832.2" width="31.4" height="2.08" fill="#1d10af"/><rect x="1174.0" y="915.5" width="31.4" height="2.08" fill="#1b0dae"/><rect x="1174.0" y="930.1" width="31.4" height="2.08" fill="#1d10af"/><rect x="1174.0" y="934.3" width="31.4" height="2.08" fill="#1d10af"/><rect x="1174.0" y="976.0" width="31.4" height="2.08" fill="#1a09ad"/><rect x="1174.0" y="992.6" width="31.4" height="2.08" fill="#1d10af"/><rect x="1174.0" y="1040.6" width="31.4" height="2.08" fill="#1a09ad"/><rect x="1174.0" y="1046.8" width="31.4" height="2.08" fill="#1b0dae"/><rect x="1174.0" y="1136.4" width="31.4" height="2.08" fill="#1a09ad"/><rect x="1174.0" y="1144.7" width="31.4" height="2.08" fill="#1d10af"/><rect x="1174.0" y="1219.7" width="31.4" height="2.08" fill="#1d10af"/><rect x="1174.0" y="1236.4" width="31.4" height="2.08" fill="#1a09ad"/><rect x="1174.0" y="1255.2" width="31.4" height="2.08" fill="#1b0dae"/><rect x="1174.0" y="1261.4" width="31.4" height="2.08" fill="#1d10af"/><rect x="1174.0" y="1344.8" width="31.4" height="2.08" fill="#1d10af"/><rect x="1174.0" y="1536.4" width="31.4" height="2.08" fill="#1b0dae"/><rect x="1174.0" y="1559.4" width="31.4" height="2.08" fill="#1a09ad"/><rect x="1174.0" y="1563.5" width="31.4" height="2.08" fill="#1b0dae"/><rect x="1174.0" y="1621.9" width="31.4" height="2.08" fill="#1d10af"/><rect x="1174.0" y="1644.8" width="31.4" height="2.08" fill="#1b0dae"/><rect x="1174.0" y="1646.9" width="31.4" height="2.08" fill="#1b0dae"/><rect x="1174.0" y="1657.3" width="31.4" height="2.08" fill="#1a09ad"/><rect x="1205.4" y="636.3" width="31.4" height="2.08" fill="#1d10af"/><rect x="1205.4" y="709.3" width="31.4" height="2.08" fill="#1a09ad"/><rect x="1205.4" y="711.3" width="31.4" height="2.08" fill="#1b0dae"/><rect x="1205.4" y="742.6" width="31.4" height="2.08" fill="#1d10af"/><rect x="1205.4" y="767.6" width="31.4" height="2.08" fill="#1d10af"/><rect x="1205.4" y="798.9" width="31.4" height="2.08" fill="#1b0dae"/><rect x="1205.4" y="888.5" width="31.4" height="2.08" fill="#1a09ad"/><rect x="1205.4" y="923.9" width="31.4" height="2.08" fill="#1a09ad"/><rect x="1205.4" y="988.5" width="31.4" height="2.08" fill="#1b0dae"/><rect x="1205.4" y="1028.1" width="31.4" height="2.08" fill="#1a09ad"/><rect x="1205.4" y="1073.9" width="31.4" height="2.08" fill="#1d10af"/><rect x="1205.4" y="1144.7" width="31.4" height="2.08" fill="#1b0dae"/><rect x="1205.4" y="1171.8" width="31.4" height="2.08" fill="#1a09ad"/><rect x="1205.4" y="1182.2" width="31.4" height="2.08" fill="#1a09ad"/><rect x="1205.4" y="1228.1" width="31.4" height="2.08" fill="#1d10af"/><rect x="1205.4" y="1238.5" width="31.4" height="2.08" fill="#1b0dae"/><rect x="1205.4" y="1278.1" width="31.4" height="2.08" fill="#1b0dae"/><rect x="1205.4" y="1294.8" width="31.4" height="2.08" fill="#1b0dae"/><rect x="1205.4" y="1298.9" width="31.4" height="2.08" fill="#1b0dae"/><rect x="1205.4" y="1367.7" width="31.4" height="2.08" fill="#1d10af"/><rect x="1205.4" y="1384.3" width="31.4" height="2.08" fill="#1a09ad"/><rect x="1205.4" y="1457.3" width="31.4" height="2.08" fill="#1a09ad"/><rect x="1205.4" y="1463.5" width="31.4" height="2.08" fill="#1b0dae"/><rect x="1205.4" y="1507.3" width="31.4" height="2.08" fill="#1b0dae"/><rect x="1205.4" y="1574.0" width="31.4" height="2.08" fill="#1b0dae"/><rect x="1205.4" y="1621.9" width="31.4" height="2.08" fill="#1d10af"/><rect x="1205.4" y="1626.0" width="31.4" height="2.08" fill="#1d10af"/><rect x="1236.8" y="692.6" width="31.4" height="2.08" fill="#1a09ad"/><rect x="1236.8" y="775.9" width="31.4" height="2.08" fill="#1d10af"/><rect x="1236.8" y="809.3" width="31.4" height="2.08" fill="#1a09ad"/><rect x="1236.8" y="869.7" width="31.4" height="2.08" fill="#1b0dae"/><rect x="1236.8" y="915.5" width="31.4" height="2.08" fill="#1b0dae"/><rect x="1236.8" y="963.5" width="31.4" height="2.08" fill="#1b0dae"/><rect x="1236.8" y="988.5" width="31.4" height="2.08" fill="#1d10af"/><rect x="1236.8" y="1013.5" width="31.4" height="2.08" fill="#1b0dae"/><rect x="1236.8" y="1015.5" width="31.4" height="2.08" fill="#1b0dae"/><rect x="1236.8" y="1053.1" width="31.4" height="2.08" fill="#1b0dae"/><rect x="1236.8" y="1092.6" width="31.4" height="2.08" fill="#1d10af"/><rect x="1236.8" y="1107.2" width="31.4" height="2.08" fill="#1b0dae"/><rect x="1236.8" y="1130.1" width="31.4" height="2.08" fill="#1a09ad"/><rect x="1236.8" y="1132.2" width="31.4" height="2.08" fill="#1b0dae"/><rect x="1236.8" y="1142.6" width="31.4" height="2.08" fill="#1d10af"/><rect x="1236.8" y="1146.8" width="31.4" height="2.08" fill="#1a09ad"/><rect x="1236.8" y="1157.2" width="31.4" height="2.08" fill="#1d10af"/><rect x="1236.8" y="1169.7" width="31.4" height="2.08" fill="#1b0dae"/><rect x="1236.8" y="1234.3" width="31.4" height="2.08" fill="#1a09ad"/><rect x="1236.8" y="1236.4" width="31.4" height="2.08" fill="#1b0dae"/><rect x="1236.8" y="1328.1" width="31.4" height="2.08" fill="#1d10af"/><rect x="1236.8" y="1338.5" width="31.4" height="2.08" fill="#1d10af"/><rect x="1236.8" y="1340.6" width="31.4" height="2.08" fill="#1a09ad"/><rect x="1236.8" y="1461.4" width="31.4" height="2.08" fill="#1a09ad"/><rect x="1236.8" y="1517.7" width="31.4" height="2.08" fill="#1d10af"/><rect x="1236.8" y="1555.2" width="31.4" height="2.08" fill="#1d10af"/><rect x="1236.8" y="1594.8" width="31.4" height="2.08" fill="#1d10af"/><rect x="1236.8" y="1615.6" width="31.4" height="2.08" fill="#1b0dae"/><rect x="1236.8" y="1653.1" width="31.4" height="2.08" fill="#1d10af"/><rect x="1268.2" y="640.5" width="31.4" height="2.08" fill="#1b0dae"/><rect x="1268.2" y="655.1" width="31.4" height="2.08" fill="#1a09ad"/><rect x="1268.2" y="657.2" width="31.4" height="2.08" fill="#1b0dae"/><rect x="1268.2" y="661.3" width="31.4" height="2.08" fill="#1a09ad"/><rect x="1268.2" y="811.4" width="31.4" height="2.08" fill="#1d10af"/><rect x="1268.2" y="838.4" width="31.4" height="2.08" fill="#1a09ad"/><rect x="1268.2" y="842.6" width="31.4" height="2.08" fill="#1a09ad"/><rect x="1268.2" y="867.6" width="31.4" height="2.08" fill="#1a09ad"/><rect x="1268.2" y="896.8" width="31.4" height="2.08" fill="#1d10af"/><rect x="1268.2" y="905.1" width="31.4" height="2.08" fill="#1b0dae"/><rect x="1268.2" y="917.6" width="31.4" height="2.08" fill="#1a09ad"/><rect x="1268.2" y="982.2" width="31.4" height="2.08" fill="#1b0dae"/><rect x="1268.2" y="1007.2" width="31.4" height="2.08" fill="#1b0dae"/><rect x="1268.2" y="1017.6" width="31.4" height="2.08" fill="#1d10af"/><rect x="1268.2" y="1034.3" width="31.4" height="2.08" fill="#1b0dae"/><rect x="1268.2" y="1057.2" width="31.4" height="2.08" fill="#1a09ad"/><rect x="1268.2" y="1069.7" width="31.4" height="2.08" fill="#1a09ad"/><rect x="1268.2" y="1080.1" width="31.4" height="2.08" fill="#1d10af"/><rect x="1268.2" y="1101.0" width="31.4" height="2.08" fill="#1b0dae"/><rect x="1268.2" y="1103.1" width="31.4" height="2.08" fill="#1b0dae"/><rect x="1268.2" y="1169.7" width="31.4" height="2.08" fill="#1d10af"/><rect x="1268.2" y="1211.4" width="31.4" height="2.08" fill="#1b0dae"/><rect x="1268.2" y="1396.8" width="31.4" height="2.08" fill="#1d10af"/><rect x="1268.2" y="1426.0" width="31.4" height="2.08" fill="#1d10af"/><rect x="1268.2" y="1444.8" width="31.4" height="2.08" fill="#1a09ad"/><rect x="1268.2" y="1451.0" width="31.4" height="2.08" fill="#1b0dae"/><rect x="1268.2" y="1505.2" width="31.4" height="2.08" fill="#1a09ad"/><rect x="1268.2" y="1565.6" width="31.4" height="2.08" fill="#1d10af"/><rect x="1268.2" y="1571.9" width="31.4" height="2.08" fill="#1a09ad"/><rect x="1268.2" y="1624.0" width="31.4" height="2.08" fill="#1d10af"/><rect x="1268.2" y="1638.5" width="31.4" height="2.08" fill="#1b0dae"/><rect x="1299.6" y="653.0" width="31.4" height="2.08" fill="#1a09ad"/><rect x="1299.6" y="667.6" width="31.4" height="2.08" fill="#1d10af"/><rect x="1299.6" y="753.0" width="31.4" height="2.08" fill="#1a09ad"/><rect x="1299.6" y="794.7" width="31.4" height="2.08" fill="#1b0dae"/><rect x="1299.6" y="840.5" width="31.4" height="2.08" fill="#1b0dae"/><rect x="1299.6" y="907.2" width="31.4" height="2.08" fill="#1d10af"/><rect x="1299.6" y="915.5" width="31.4" height="2.08" fill="#1a09ad"/><rect x="1299.6" y="986.4" width="31.4" height="2.08" fill="#1a09ad"/><rect x="1299.6" y="1001.0" width="31.4" height="2.08" fill="#1b0dae"/><rect x="1299.6" y="1092.6" width="31.4" height="2.08" fill="#1d10af"/><rect x="1299.6" y="1155.2" width="31.4" height="2.08" fill="#1b0dae"/><rect x="1299.6" y="1184.3" width="31.4" height="2.08" fill="#1a09ad"/><rect x="1299.6" y="1215.6" width="31.4" height="2.08" fill="#1a09ad"/><rect x="1299.6" y="1265.6" width="31.4" height="2.08" fill="#1d10af"/><rect x="1299.6" y="1284.3" width="31.4" height="2.08" fill="#1a09ad"/><rect x="1299.6" y="1309.3" width="31.4" height="2.08" fill="#1d10af"/><rect x="1299.6" y="1348.9" width="31.4" height="2.08" fill="#1b0dae"/><rect x="1299.6" y="1359.3" width="31.4" height="2.08" fill="#1b0dae"/><rect x="1299.6" y="1365.6" width="31.4" height="2.08" fill="#1d10af"/><rect x="1299.6" y="1376.0" width="31.4" height="2.08" fill="#1d10af"/><rect x="1299.6" y="1384.3" width="31.4" height="2.08" fill="#1b0dae"/><rect x="1299.6" y="1392.7" width="31.4" height="2.08" fill="#1a09ad"/><rect x="1299.6" y="1605.2" width="31.4" height="2.08" fill="#1b0dae"/><rect x="1331.0" y="655.1" width="31.4" height="2.08" fill="#1d10af"/><rect x="1331.0" y="775.9" width="31.4" height="2.08" fill="#1d10af"/><rect x="1331.0" y="915.5" width="31.4" height="2.08" fill="#1a09ad"/><rect x="1331.0" y="969.7" width="31.4" height="2.08" fill="#1a09ad"/><rect x="1331.0" y="1001.0" width="31.4" height="2.08" fill="#1a09ad"/><rect x="1331.0" y="1017.6" width="31.4" height="2.08" fill="#1d10af"/><rect x="1331.0" y="1021.8" width="31.4" height="2.08" fill="#1d10af"/><rect x="1331.0" y="1044.7" width="31.4" height="2.08" fill="#1d10af"/><rect x="1331.0" y="1092.6" width="31.4" height="2.08" fill="#1b0dae"/><rect x="1331.0" y="1151.0" width="31.4" height="2.08" fill="#1a09ad"/><rect x="1331.0" y="1161.4" width="31.4" height="2.08" fill="#1d10af"/><rect x="1331.0" y="1255.2" width="31.4" height="2.08" fill="#1b0dae"/><rect x="1331.0" y="1276.0" width="31.4" height="2.08" fill="#1b0dae"/><rect x="1331.0" y="1296.8" width="31.4" height="2.08" fill="#1d10af"/><rect x="1331.0" y="1367.7" width="31.4" height="2.08" fill="#1a09ad"/><rect x="1331.0" y="1371.8" width="31.4" height="2.08" fill="#1a09ad"/><rect x="1331.0" y="1378.1" width="31.4" height="2.08" fill="#1a09ad"/><rect x="1331.0" y="1417.7" width="31.4" height="2.08" fill="#1a09ad"/><rect x="1331.0" y="1451.0" width="31.4" height="2.08" fill="#1d10af"/><rect x="1331.0" y="1459.4" width="31.4" height="2.08" fill="#1d10af"/><rect x="1331.0" y="1492.7" width="31.4" height="2.08" fill="#1d10af"/><rect x="1331.0" y="1578.1" width="31.4" height="2.08" fill="#1b0dae"/><rect x="1331.0" y="1615.6" width="31.4" height="2.08" fill="#1a09ad"/><rect x="1331.0" y="1617.7" width="31.4" height="2.08" fill="#1b0dae"/><rect x="1331.0" y="1642.7" width="31.4" height="2.08" fill="#1a09ad"/><rect x="1331.0" y="1665.6" width="31.4" height="2.08" fill="#1a09ad"/><rect x="1362.4" y="717.6" width="31.4" height="2.08" fill="#1a09ad"/><rect x="1362.4" y="740.5" width="31.4" height="2.08" fill="#1b0dae"/><rect x="1362.4" y="863.4" width="31.4" height="2.08" fill="#1a09ad"/><rect x="1362.4" y="930.1" width="31.4" height="2.08" fill="#1a09ad"/><rect x="1362.4" y="948.9" width="31.4" height="2.08" fill="#1b0dae"/><rect x="1362.4" y="951.0" width="31.4" height="2.08" fill="#1a09ad"/><rect x="1362.4" y="998.9" width="31.4" height="2.08" fill="#1d10af"/><rect x="1362.4" y="1007.2" width="31.4" height="2.08" fill="#1a09ad"/><rect x="1362.4" y="1032.2" width="31.4" height="2.08" fill="#1a09ad"/><rect x="1362.4" y="1067.6" width="31.4" height="2.08" fill="#1b0dae"/><rect x="1362.4" y="1069.7" width="31.4" height="2.08" fill="#1d10af"/><rect x="1362.4" y="1107.2" width="31.4" height="2.08" fill="#1b0dae"/><rect x="1362.4" y="1140.6" width="31.4" height="2.08" fill="#1a09ad"/><rect x="1362.4" y="1188.5" width="31.4" height="2.08" fill="#1d10af"/><rect x="1362.4" y="1263.5" width="31.4" height="2.08" fill="#1d10af"/><rect x="1362.4" y="1271.8" width="31.4" height="2.08" fill="#1a09ad"/><rect x="1362.4" y="1280.2" width="31.4" height="2.08" fill="#1b0dae"/><rect x="1362.4" y="1330.2" width="31.4" height="2.08" fill="#1a09ad"/><rect x="1362.4" y="1359.3" width="31.4" height="2.08" fill="#1a09ad"/><rect x="1362.4" y="1432.3" width="31.4" height="2.08" fill="#1d10af"/><rect x="1362.4" y="1469.8" width="31.4" height="2.08" fill="#1a09ad"/><rect x="1362.4" y="1501.0" width="31.4" height="2.08" fill="#1d10af"/><rect x="1362.4" y="1628.1" width="31.4" height="2.08" fill="#1a09ad"/><rect x="1362.4" y="1655.2" width="31.4" height="2.08" fill="#1b0dae"/><rect x="1362.4" y="1663.5" width="31.4" height="2.08" fill="#1a09ad"/><rect x="1393.8" y="703.0" width="31.4" height="2.08" fill="#1d10af"/><rect x="1393.8" y="817.6" width="31.4" height="2.08" fill="#1b0dae"/><rect x="1393.8" y="830.1" width="31.4" height="2.08" fill="#1a09ad"/><rect x="1393.8" y="857.2" width="31.4" height="2.08" fill="#1b0dae"/><rect x="1393.8" y="909.3" width="31.4" height="2.08" fill="#1b0dae"/><rect x="1393.8" y="913.5" width="31.4" height="2.08" fill="#1a09ad"/><rect x="1393.8" y="965.5" width="31.4" height="2.08" fill="#1a09ad"/><rect x="1393.8" y="992.6" width="31.4" height="2.08" fill="#1b0dae"/><rect x="1393.8" y="1009.3" width="31.4" height="2.08" fill="#1d10af"/><rect x="1393.8" y="1086.4" width="31.4" height="2.08" fill="#1b0dae"/><rect x="1393.8" y="1090.6" width="31.4" height="2.08" fill="#1b0dae"/><rect x="1393.8" y="1094.7" width="31.4" height="2.08" fill="#1d10af"/><rect x="1393.8" y="1132.2" width="31.4" height="2.08" fill="#1d10af"/><rect x="1393.8" y="1146.8" width="31.4" height="2.08" fill="#1d10af"/><rect x="1393.8" y="1163.5" width="31.4" height="2.08" fill="#1b0dae"/><rect x="1393.8" y="1226.0" width="31.4" height="2.08" fill="#1a09ad"/><rect x="1393.8" y="1294.8" width="31.4" height="2.08" fill="#1b0dae"/><rect x="1393.8" y="1301.0" width="31.4" height="2.08" fill="#1a09ad"/><rect x="1393.8" y="1317.7" width="31.4" height="2.08" fill="#1a09ad"/><rect x="1393.8" y="1330.2" width="31.4" height="2.08" fill="#1b0dae"/><rect x="1393.8" y="1342.7" width="31.4" height="2.08" fill="#1d10af"/><rect x="1393.8" y="1415.6" width="31.4" height="2.08" fill="#1d10af"/><rect x="1393.8" y="1638.5" width="31.4" height="2.08" fill="#1b0dae"/><rect x="1425.2" y="638.4" width="31.4" height="2.08" fill="#1b0dae"/><rect x="1425.2" y="646.8" width="31.4" height="2.08" fill="#1a09ad"/><rect x="1425.2" y="738.4" width="31.4" height="2.08" fill="#1b0dae"/><rect x="1425.2" y="748.8" width="31.4" height="2.08" fill="#1d10af"/><rect x="1425.2" y="753.0" width="31.4" height="2.08" fill="#1d10af"/><rect x="1425.2" y="805.1" width="31.4" height="2.08" fill="#1a09ad"/><rect x="1425.2" y="807.2" width="31.4" height="2.08" fill="#1b0dae"/><rect x="1425.2" y="838.4" width="31.4" height="2.08" fill="#1a09ad"/><rect x="1425.2" y="890.5" width="31.4" height="2.08" fill="#1b0dae"/><rect x="1425.2" y="932.2" width="31.4" height="2.08" fill="#1a09ad"/><rect x="1425.2" y="996.8" width="31.4" height="2.08" fill="#1a09ad"/><rect x="1425.2" y="1021.8" width="31.4" height="2.08" fill="#1d10af"/><rect x="1425.2" y="1101.0" width="31.4" height="2.08" fill="#1d10af"/><rect x="1425.2" y="1163.5" width="31.4" height="2.08" fill="#1d10af"/><rect x="1425.2" y="1180.2" width="31.4" height="2.08" fill="#1b0dae"/><rect x="1425.2" y="1190.6" width="31.4" height="2.08" fill="#1b0dae"/><rect x="1425.2" y="1234.3" width="31.4" height="2.08" fill="#1b0dae"/><rect x="1425.2" y="1238.5" width="31.4" height="2.08" fill="#1a09ad"/><rect x="1425.2" y="1332.3" width="31.4" height="2.08" fill="#1a09ad"/><rect x="1425.2" y="1334.3" width="31.4" height="2.08" fill="#1b0dae"/><rect x="1425.2" y="1346.8" width="31.4" height="2.08" fill="#1b0dae"/><rect x="1425.2" y="1353.1" width="31.4" height="2.08" fill="#1a09ad"/><rect x="1425.2" y="1421.9" width="31.4" height="2.08" fill="#1d10af"/><rect x="1425.2" y="1434.4" width="31.4" height="2.08" fill="#1b0dae"/><rect x="1425.2" y="1532.3" width="31.4" height="2.08" fill="#1a09ad"/><rect x="1425.2" y="1542.7" width="31.4" height="2.08" fill="#1b0dae"/><rect x="1425.2" y="1557.3" width="31.4" height="2.08" fill="#1a09ad"/><rect x="1425.2" y="1559.4" width="31.4" height="2.08" fill="#1b0dae"/><rect x="1425.2" y="1565.6" width="31.4" height="2.08" fill="#1a09ad"/><rect x="1425.2" y="1642.7" width="31.4" height="2.08" fill="#1a09ad"/><rect x="1425.2" y="1659.4" width="31.4" height="2.08" fill="#1d10af"/><rect x="1425.2" y="1665.6" width="31.4" height="2.08" fill="#1b0dae"/><rect x="1456.6" y="686.3" width="31.4" height="2.08" fill="#1d10af"/><rect x="1456.6" y="723.8" width="31.4" height="2.08" fill="#1d10af"/><rect x="1456.6" y="773.9" width="31.4" height="2.08" fill="#1b0dae"/><rect x="1456.6" y="832.2" width="31.4" height="2.08" fill="#1d10af"/><rect x="1456.6" y="859.3" width="31.4" height="2.08" fill="#1b0dae"/><rect x="1456.6" y="873.9" width="31.4" height="2.08" fill="#1b0dae"/><rect x="1456.6" y="938.5" width="31.4" height="2.08" fill="#1a09ad"/><rect x="1456.6" y="1032.2" width="31.4" height="2.08" fill="#1d10af"/><rect x="1456.6" y="1086.4" width="31.4" height="2.08" fill="#1d10af"/><rect x="1456.6" y="1142.6" width="31.4" height="2.08" fill="#1d10af"/><rect x="1456.6" y="1178.1" width="31.4" height="2.08" fill="#1d10af"/><rect x="1456.6" y="1228.1" width="31.4" height="2.08" fill="#1d10af"/><rect x="1456.6" y="1234.3" width="31.4" height="2.08" fill="#1a09ad"/><rect x="1456.6" y="1357.3" width="31.4" height="2.08" fill="#1b0dae"/><rect x="1456.6" y="1376.0" width="31.4" height="2.08" fill="#1a09ad"/><rect x="1456.6" y="1398.9" width="31.4" height="2.08" fill="#1d10af"/><rect x="1456.6" y="1461.4" width="31.4" height="2.08" fill="#1d10af"/><rect x="1456.6" y="1496.9" width="31.4" height="2.08" fill="#1a09ad"/><rect x="1456.6" y="1511.4" width="31.4" height="2.08" fill="#1b0dae"/><rect x="1456.6" y="1546.9" width="31.4" height="2.08" fill="#1b0dae"/><rect x="1456.6" y="1592.7" width="31.4" height="2.08" fill="#1b0dae"/><rect x="1456.6" y="1630.2" width="31.4" height="2.08" fill="#1b0dae"/><rect x="1456.6" y="1642.7" width="31.4" height="2.08" fill="#1b0dae"/><rect x="1456.6" y="1659.4" width="31.4" height="2.08" fill="#1b0dae"/><rect x="860.0" y="631.9" width="31.4" height="2.1" fill="#2a3eba"/><rect x="860.0" y="646.7" width="31.4" height="2.5" fill="#3464ac"/><rect x="860.0" y="649.2" width="31.4" height="3.7" fill="#2a3eba"/><rect x="860.0" y="669.9" width="31.4" height="1.4" fill="#2420b4"/><rect x="860.0" y="684.1" width="31.4" height="2.1" fill="#2a3eba"/><rect x="860.0" y="695.0" width="31.4" height="1.6" fill="#2a3eba"/><rect x="860.0" y="701.1" width="31.4" height="3.1" fill="#3464ac"/><rect x="860.0" y="704.2" width="31.4" height="3.1" fill="#3e7a94"/><rect x="860.0" y="707.3" width="31.4" height="3.1" fill="#3464ac"/><rect x="860.0" y="710.4" width="31.4" height="2.5" fill="#6aaa28"/><rect x="860.0" y="725.8" width="31.4" height="2.1" fill="#1e12b0"/><rect x="860.0" y="732.0" width="31.4" height="2.1" fill="#1e12b0"/><rect x="860.0" y="738.1" width="31.4" height="2.1" fill="#2420b4"/><rect x="860.0" y="743.3" width="31.4" height="1.6" fill="#2420b4"/><rect x="860.0" y="766.9" width="31.4" height="1.4" fill="#2420b4"/><rect x="860.0" y="772.0" width="31.4" height="1.6" fill="#4c8c6c"/><rect x="860.0" y="773.7" width="31.4" height="2.1" fill="#3464ac"/><rect x="860.0" y="782.3" width="31.4" height="1.6" fill="#2420b4"/><rect x="860.0" y="799.7" width="31.4" height="3.1" fill="#2420b4"/><rect x="860.0" y="811.0" width="31.4" height="3.1" fill="#2e52b8"/><rect x="860.0" y="816.2" width="31.4" height="1.4" fill="#2a3eba"/><rect x="860.0" y="823.4" width="31.4" height="2.1" fill="#1e12b0"/><rect x="891.4" y="707.3" width="31.4" height="3.1" fill="#1e12b0"/><rect x="891.4" y="718.2" width="31.4" height="3.7" fill="#3464ac"/><rect x="891.4" y="776.1" width="31.4" height="4.1" fill="#3464ac"/><rect x="891.4" y="809.0" width="31.4" height="2.1" fill="#2e52b8"/><rect x="922.8" y="636.0" width="31.4" height="2.1" fill="#2a3eba"/><rect x="922.8" y="647.7" width="31.4" height="5.1" fill="#2420b4"/><rect x="922.8" y="657.0" width="31.4" height="2.1" fill="#2a3eba"/><rect x="922.8" y="675.9" width="31.4" height="3.7" fill="#6aaa28"/><rect x="922.8" y="679.6" width="31.4" height="6.2" fill="#3464ac"/><rect x="922.8" y="685.7" width="31.4" height="5.1" fill="#3464ac"/><rect x="922.8" y="691.9" width="31.4" height="2.1" fill="#2420b4"/><rect x="922.8" y="696.4" width="31.4" height="2.7" fill="#2420b4"/><rect x="922.8" y="708.7" width="31.4" height="1.6" fill="#1e12b0"/><rect x="922.8" y="743.3" width="31.4" height="1.6" fill="#2420b4"/><rect x="922.8" y="749.4" width="31.4" height="2.1" fill="#1e12b0"/><rect x="922.8" y="755.2" width="31.4" height="1.6" fill="#2a3eba"/><rect x="922.8" y="759.7" width="31.4" height="1.6" fill="#2420b4"/><rect x="922.8" y="767.9" width="31.4" height="1.6" fill="#2420b4"/><rect x="922.8" y="780.2" width="31.4" height="1.6" fill="#2a3eba"/><rect x="922.8" y="790.5" width="31.4" height="2.1" fill="#2420b4"/><rect x="922.8" y="794.6" width="31.4" height="2.5" fill="#6aaa28"/><rect x="922.8" y="797.1" width="31.4" height="2.7" fill="#3464ac"/><rect x="922.8" y="799.7" width="31.4" height="3.1" fill="#3e7a94"/><rect x="922.8" y="802.8" width="31.4" height="2.1" fill="#3464ac"/><rect x="922.8" y="805.9" width="31.4" height="3.1" fill="#2420b4"/><rect x="922.8" y="812.1" width="31.4" height="3.1" fill="#2a3eba"/><rect x="922.8" y="818.8" width="31.4" height="2.9" fill="#2e52b8"/><rect x="922.8" y="827.9" width="31.4" height="1.2" fill="#e2de2e"/><rect x="922.8" y="829.1" width="31.4" height="4.5" fill="#9cc116"/><rect x="922.8" y="833.6" width="31.4" height="3.1" fill="#6aaa28"/><rect x="922.8" y="836.7" width="31.4" height="3.3" fill="#9cc116"/><rect x="954.2" y="629.9" width="31.4" height="1.6" fill="#2a3eba"/><rect x="954.2" y="690.9" width="31.4" height="1.4" fill="#5a9b46"/><rect x="954.2" y="692.3" width="31.4" height="2.7" fill="#3464ac"/><rect x="954.2" y="695.0" width="31.4" height="5.8" fill="#2a3eba"/><rect x="954.2" y="721.7" width="31.4" height="2.1" fill="#1e12b0"/><rect x="954.2" y="747.0" width="31.4" height="0.8" fill="#f0ea64"/><rect x="954.2" y="747.8" width="31.4" height="2.1" fill="#bece1a"/><rect x="954.2" y="749.8" width="31.4" height="3.7" fill="#82b51e"/><rect x="954.2" y="753.5" width="31.4" height="2.5" fill="#6aaa28"/><rect x="954.2" y="756.0" width="31.4" height="3.7" fill="#82b51e"/><rect x="954.2" y="759.7" width="31.4" height="2.5" fill="#4c8c6c"/><rect x="954.2" y="762.2" width="31.4" height="3.7" fill="#82b51e"/><rect x="954.2" y="765.9" width="31.4" height="2.1" fill="#6aaa28"/><rect x="954.2" y="767.9" width="31.4" height="4.1" fill="#3e7a94"/><rect x="954.2" y="772.0" width="31.4" height="2.5" fill="#6aaa28"/><rect x="954.2" y="774.5" width="31.4" height="2.7" fill="#3464ac"/><rect x="954.2" y="777.1" width="31.4" height="3.1" fill="#4c8c6c"/><rect x="954.2" y="780.2" width="31.4" height="4.1" fill="#3464ac"/><rect x="954.2" y="784.3" width="31.4" height="7.2" fill="#4c8c6c"/><rect x="954.2" y="791.5" width="31.4" height="5.1" fill="#5a9b46"/><rect x="954.2" y="796.7" width="31.4" height="8.2" fill="#3464ac"/><rect x="954.2" y="804.9" width="31.4" height="3.1" fill="#3e7a94"/><rect x="954.2" y="808.0" width="31.4" height="7.2" fill="#3464ac"/><rect x="954.2" y="815.2" width="31.4" height="5.1" fill="#3464ac"/><rect x="954.2" y="820.3" width="31.4" height="7.2" fill="#3e7a94"/><rect x="985.6" y="638.1" width="31.4" height="1.6" fill="#2a3eba"/><rect x="985.6" y="650.8" width="31.4" height="4.1" fill="#2e52b8"/><rect x="985.6" y="666.2" width="31.4" height="3.1" fill="#6aaa28"/><rect x="985.6" y="669.3" width="31.4" height="3.1" fill="#3e7a94"/><rect x="985.6" y="672.4" width="31.4" height="3.1" fill="#3464ac"/><rect x="985.6" y="687.8" width="31.4" height="3.1" fill="#3464ac"/><rect x="985.6" y="704.2" width="31.4" height="3.1" fill="#1e12b0"/><rect x="985.6" y="800.8" width="31.4" height="2.1" fill="#2420b4"/><rect x="985.6" y="818.2" width="31.4" height="1.6" fill="#2a3eba"/><rect x="985.6" y="831.6" width="31.4" height="2.1" fill="#2a3eba"/><rect x="1017.0" y="722.1" width="31.4" height="1.6" fill="#3464ac"/><rect x="1017.0" y="780.2" width="31.4" height="7.2" fill="#3464ac"/><rect x="1017.0" y="787.4" width="31.4" height="5.1" fill="#2420b4"/><rect x="1017.0" y="813.1" width="31.4" height="3.1" fill="#2420b4"/><rect x="1017.0" y="824.4" width="31.4" height="1.0" fill="#2420b4"/><rect x="1048.4" y="628.2" width="31.4" height="6.2" fill="#9cc116"/><rect x="1048.4" y="634.4" width="31.4" height="1.6" fill="#6aaa28"/><rect x="1048.4" y="636.0" width="31.4" height="8.6" fill="#9cc116"/><rect x="1048.4" y="644.7" width="31.4" height="2.1" fill="#faf6af"/><rect x="1048.4" y="646.7" width="31.4" height="6.2" fill="#2a3eba"/><rect x="1048.4" y="652.9" width="31.4" height="6.2" fill="#3464ac"/><rect x="1048.4" y="659.0" width="31.4" height="3.1" fill="#6aaa28"/><rect x="1048.4" y="662.1" width="31.4" height="4.1" fill="#9cc116"/><rect x="1048.4" y="666.2" width="31.4" height="5.1" fill="#3464ac"/><rect x="1048.4" y="671.4" width="31.4" height="5.1" fill="#6aaa28"/><rect x="1048.4" y="676.5" width="31.4" height="5.1" fill="#5a9b46"/><rect x="1048.4" y="681.6" width="31.4" height="9.2" fill="#3464ac"/><rect x="1048.4" y="690.9" width="31.4" height="4.1" fill="#6aaa28"/><rect x="1048.4" y="695.0" width="31.4" height="10.3" fill="#5a9b46"/><rect x="1048.4" y="705.3" width="31.4" height="5.1" fill="#3464ac"/><rect x="1048.4" y="710.4" width="31.4" height="6.2" fill="#3e7a94"/><rect x="1048.4" y="716.5" width="31.4" height="10.3" fill="#4c8c6c"/><rect x="1048.4" y="726.8" width="31.4" height="8.2" fill="#5a9b46"/><rect x="1048.4" y="735.0" width="31.4" height="9.2" fill="#3464ac"/><rect x="1048.4" y="744.3" width="31.4" height="2.7" fill="#4c8c6c"/><rect x="1048.4" y="756.6" width="31.4" height="4.1" fill="#3464ac"/><rect x="1048.4" y="760.7" width="31.4" height="1.4" fill="#4c8c6c"/><rect x="1048.4" y="804.9" width="31.4" height="8.2" fill="#2e52b8"/><rect x="1048.4" y="817.2" width="31.4" height="6.2" fill="#3464ac"/><rect x="1048.4" y="837.7" width="31.4" height="2.3" fill="#2a3eba"/><rect x="1079.8" y="633.4" width="31.4" height="2.1" fill="#2420b4"/><rect x="1079.8" y="639.5" width="31.4" height="3.1" fill="#2a3eba"/><rect x="1079.8" y="646.7" width="31.4" height="3.1" fill="#4c8c6c"/><rect x="1079.8" y="649.8" width="31.4" height="4.1" fill="#6aaa28"/><rect x="1079.8" y="653.9" width="31.4" height="3.1" fill="#5a9b46"/><rect x="1079.8" y="657.0" width="31.4" height="4.1" fill="#6aaa28"/><rect x="1079.8" y="661.1" width="31.4" height="4.1" fill="#3464ac"/><rect x="1079.8" y="668.3" width="31.4" height="1.4" fill="#2a3eba"/><rect x="1079.8" y="674.4" width="31.4" height="1.4" fill="#2a3eba"/><rect x="1079.8" y="680.6" width="31.4" height="1.4" fill="#2a3eba"/><rect x="1079.8" y="686.8" width="31.4" height="1.4" fill="#2420b4"/><rect x="1079.8" y="699.1" width="31.4" height="2.1" fill="#2a3eba"/><rect x="1079.8" y="703.2" width="31.4" height="3.1" fill="#2e52b8"/><rect x="1079.8" y="709.4" width="31.4" height="2.1" fill="#2420b4"/><rect x="1079.8" y="715.5" width="31.4" height="2.1" fill="#2a3eba"/><rect x="1079.8" y="720.7" width="31.4" height="1.6" fill="#2a3eba"/><rect x="1079.8" y="724.8" width="31.4" height="10.3" fill="#2420b4"/><rect x="1079.8" y="741.2" width="31.4" height="1.6" fill="#2a3eba"/><rect x="1079.8" y="751.5" width="31.4" height="1.6" fill="#2a3eba"/><rect x="1079.8" y="762.8" width="31.4" height="3.5" fill="#82b51e"/><rect x="1079.8" y="766.3" width="31.4" height="2.7" fill="#6aaa28"/><rect x="1079.8" y="768.9" width="31.4" height="3.1" fill="#4c8c6c"/><rect x="1079.8" y="778.2" width="31.4" height="1.6" fill="#2a3eba"/><rect x="1079.8" y="784.3" width="31.4" height="1.6" fill="#2a3eba"/><rect x="1079.8" y="787.4" width="31.4" height="7.2" fill="#2420b4"/><rect x="1079.8" y="800.8" width="31.4" height="4.1" fill="#3e7a94"/><rect x="1079.8" y="804.9" width="31.4" height="3.1" fill="#3464ac"/><rect x="1079.8" y="835.7" width="31.4" height="2.1" fill="#2a3eba"/><rect x="1111.2" y="724.4" width="31.4" height="1.6" fill="#3464ac"/><rect x="1111.2" y="738.1" width="31.4" height="2.1" fill="#2420b4"/><rect x="1111.2" y="788.0" width="31.4" height="2.5" fill="#3464ac"/><rect x="1142.6" y="628.2" width="31.4" height="1.6" fill="#2a3eba"/><rect x="1142.6" y="648.8" width="31.4" height="2.1" fill="#1e12b0"/><rect x="1142.6" y="738.1" width="31.4" height="2.1" fill="#2420b4"/><rect x="1142.6" y="813.1" width="31.4" height="2.1" fill="#2420b4"/><rect x="1142.6" y="822.3" width="31.4" height="5.1" fill="#3464ac"/><rect x="1174.0" y="790.9" width="31.4" height="1.6" fill="#3464ac"/><rect x="1205.4" y="649.2" width="31.4" height="1.6" fill="#2420b4"/><rect x="1205.4" y="670.3" width="31.4" height="1.0" fill="#1e12b0"/><rect x="1205.4" y="707.3" width="31.4" height="3.1" fill="#2420b4"/><rect x="1205.4" y="729.9" width="31.4" height="2.1" fill="#3464ac"/><rect x="1205.4" y="732.0" width="31.4" height="2.1" fill="#5a9b46"/><rect x="1236.8" y="708.7" width="31.4" height="1.6" fill="#1e12b0"/><rect x="1236.8" y="727.8" width="31.4" height="2.1" fill="#4c8c6c"/><rect x="1236.8" y="780.2" width="31.4" height="1.6" fill="#1e12b0"/><rect x="1236.8" y="799.1" width="31.4" height="1.6" fill="#1e12b0"/><rect x="1268.2" y="649.2" width="31.4" height="1.6" fill="#1e12b0"/><rect x="1268.2" y="738.1" width="31.4" height="2.1" fill="#1e12b0"/><rect x="1268.2" y="753.1" width="31.4" height="1.4" fill="#1e12b0"/><rect x="1268.2" y="772.0" width="31.4" height="1.6" fill="#1e12b0"/><rect x="1268.2" y="833.6" width="31.4" height="1.6" fill="#1e12b0"/><rect x="1299.6" y="707.9" width="31.4" height="2.5" fill="#1e12b0"/><rect x="1299.6" y="741.2" width="31.4" height="3.1" fill="#3464ac"/><rect x="1299.6" y="744.3" width="31.4" height="2.7" fill="#5a9b46"/><rect x="1299.6" y="766.3" width="31.4" height="1.6" fill="#1e12b0"/><rect x="1299.6" y="782.3" width="31.4" height="1.6" fill="#1e12b0"/><rect x="1299.6" y="799.7" width="31.4" height="2.1" fill="#1e12b0"/><rect x="1299.6" y="813.1" width="31.4" height="3.1" fill="#2420b4"/><rect x="1331.0" y="634.4" width="31.4" height="1.0" fill="#1e12b0"/><rect x="1331.0" y="649.2" width="31.4" height="1.6" fill="#1e12b0"/><rect x="1331.0" y="707.3" width="31.4" height="3.5" fill="#2420b4"/><rect x="1331.0" y="720.2" width="31.4" height="1.4" fill="#1e12b0"/><rect x="1331.0" y="725.8" width="31.4" height="2.1" fill="#3e7a94"/><rect x="1331.0" y="738.1" width="31.4" height="2.1" fill="#1e12b0"/><rect x="1331.0" y="809.0" width="31.4" height="1.6" fill="#1e12b0"/><rect x="1331.0" y="816.2" width="31.4" height="1.4" fill="#2a3eba"/><rect x="1362.4" y="649.2" width="31.4" height="1.6" fill="#2a3eba"/><rect x="1362.4" y="734.0" width="31.4" height="2.1" fill="#3464ac"/><rect x="1362.4" y="736.1" width="31.4" height="1.4" fill="#5a9b46"/><rect x="1362.4" y="737.5" width="31.4" height="3.3" fill="#2e52b8"/><rect x="1362.4" y="743.3" width="31.4" height="1.6" fill="#1e12b0"/><rect x="1362.4" y="813.1" width="31.4" height="1.6" fill="#1e12b0"/><rect x="1393.8" y="782.3" width="31.4" height="1.4" fill="#1e12b0"/><rect x="1425.2" y="709.4" width="31.4" height="1.0" fill="#1e12b0"/><rect x="1456.6" y="649.2" width="31.4" height="1.6" fill="#1e12b0"/><rect x="1456.6" y="712.9" width="31.4" height="2.7" fill="#4c8c6c"/><rect x="1456.6" y="715.5" width="31.4" height="2.1" fill="#3464ac"/><rect x="1456.6" y="737.1" width="31.4" height="1.6" fill="#1e12b0"/><rect x="1456.6" y="782.3" width="31.4" height="1.6" fill="#1e12b0"/><rect x="1456.6" y="793.0" width="31.4" height="2.1" fill="#4c8c6c"/><rect x="1456.6" y="813.1" width="31.4" height="1.6" fill="#1e12b0"/><rect x="860.0" y="842.8" width="31.4" height="1.4" fill="#1e12b0"/><rect x="860.0" y="857.6" width="31.4" height="2.1" fill="#2420b4"/><rect x="860.0" y="867.9" width="31.4" height="2.5" fill="#4c8c6c"/><rect x="860.0" y="870.3" width="31.4" height="5.3" fill="#3464ac"/><rect x="860.0" y="886.4" width="31.4" height="1.0" fill="#1e12b0"/><rect x="860.0" y="905.9" width="31.4" height="1.0" fill="#1e12b0"/><rect x="860.0" y="910.0" width="31.4" height="1.4" fill="#1e12b0"/><rect x="860.0" y="928.5" width="31.4" height="1.0" fill="#1e12b0"/><rect x="860.0" y="937.7" width="31.4" height="2.1" fill="#2420b4"/><rect x="860.0" y="964.0" width="31.4" height="3.5" fill="#3464ac"/><rect x="860.0" y="978.8" width="31.4" height="3.1" fill="#2a3eba"/><rect x="860.0" y="993.2" width="31.4" height="1.6" fill="#2420b4"/><rect x="860.0" y="998.9" width="31.4" height="2.1" fill="#5a9b46"/><rect x="860.0" y="1002.4" width="31.4" height="4.1" fill="#3464ac"/><rect x="860.0" y="1022.6" width="31.4" height="1.0" fill="#1e12b0"/><rect x="860.0" y="1032.2" width="31.4" height="1.6" fill="#1e12b0"/><rect x="891.4" y="910.0" width="31.4" height="1.4" fill="#1e12b0"/><rect x="891.4" y="972.2" width="31.4" height="2.1" fill="#2a3eba"/><rect x="891.4" y="975.7" width="31.4" height="3.1" fill="#3464ac"/><rect x="891.4" y="978.8" width="31.4" height="1.6" fill="#4c8c6c"/><rect x="891.4" y="980.4" width="31.4" height="3.5" fill="#3464ac"/><rect x="891.4" y="1001.8" width="31.4" height="2.1" fill="#1e12b0"/><rect x="891.4" y="1018.4" width="31.4" height="3.5" fill="#3e7a94"/><rect x="922.8" y="835.0" width="31.4" height="6.2" fill="#9cc116"/><rect x="922.8" y="841.2" width="31.4" height="4.1" fill="#3464ac"/><rect x="922.8" y="845.3" width="31.4" height="4.1" fill="#82b51e"/><rect x="922.8" y="849.4" width="31.4" height="5.1" fill="#3464ac"/><rect x="922.8" y="854.5" width="31.4" height="4.1" fill="#4c8c6c"/><rect x="922.8" y="858.6" width="31.4" height="7.2" fill="#3e7a94"/><rect x="922.8" y="865.8" width="31.4" height="4.1" fill="#6aaa28"/><rect x="922.8" y="869.9" width="31.4" height="9.2" fill="#3464ac"/><rect x="922.8" y="879.2" width="31.4" height="5.1" fill="#6aaa28"/><rect x="922.8" y="884.3" width="31.4" height="6.2" fill="#3464ac"/><rect x="922.8" y="890.5" width="31.4" height="6.2" fill="#82b51e"/><rect x="922.8" y="896.6" width="31.4" height="4.1" fill="#3464ac"/><rect x="922.8" y="900.7" width="31.4" height="4.1" fill="#5a9b46"/><rect x="922.8" y="904.8" width="31.4" height="6.2" fill="#3464ac"/><rect x="922.8" y="920.3" width="31.4" height="2.1" fill="#1e12b0"/><rect x="922.8" y="924.4" width="31.4" height="2.1" fill="#2420b4"/><rect x="922.8" y="929.9" width="31.4" height="1.6" fill="#2a3eba"/><rect x="922.8" y="949.0" width="31.4" height="2.1" fill="#2a3eba"/><rect x="922.8" y="1029.1" width="31.4" height="10.3" fill="#3464ac"/><rect x="922.8" y="1039.4" width="31.4" height="1.6" fill="#82b51e"/><rect x="922.8" y="1044.5" width="31.4" height="2.1" fill="#2a3eba"/><rect x="922.8" y="1052.7" width="31.4" height="2.3" fill="#2a3eba"/><rect x="954.2" y="846.9" width="31.4" height="5.5" fill="#3464ac"/><rect x="954.2" y="857.6" width="31.4" height="2.1" fill="#2420b4"/><rect x="954.2" y="898.7" width="31.4" height="2.1" fill="#2a3eba"/><rect x="954.2" y="914.1" width="31.4" height="3.1" fill="#5a9b46"/><rect x="954.2" y="947.0" width="31.4" height="1.6" fill="#2a3eba"/><rect x="954.2" y="1009.2" width="31.4" height="1.4" fill="#3464ac"/><rect x="954.2" y="1041.0" width="31.4" height="1.8" fill="#3464ac"/><rect x="985.6" y="849.4" width="31.4" height="1.0" fill="#1e12b0"/><rect x="985.6" y="856.6" width="31.4" height="2.1" fill="#2420b4"/><rect x="985.6" y="863.8" width="31.4" height="2.1" fill="#1e12b0"/><rect x="985.6" y="885.3" width="31.4" height="2.1" fill="#1e12b0"/><rect x="985.6" y="891.5" width="31.4" height="1.4" fill="#1e12b0"/><rect x="985.6" y="899.1" width="31.4" height="3.7" fill="#4c8c6c"/><rect x="985.6" y="902.8" width="31.4" height="3.1" fill="#3e7a94"/><rect x="985.6" y="905.9" width="31.4" height="3.1" fill="#4c8c6c"/><rect x="985.6" y="909.0" width="31.4" height="8.2" fill="#3464ac"/><rect x="985.6" y="917.2" width="31.4" height="3.1" fill="#6aaa28"/><rect x="985.6" y="920.3" width="31.4" height="2.1" fill="#3464ac"/><rect x="985.6" y="922.3" width="31.4" height="4.1" fill="#bece1a"/><rect x="985.6" y="926.4" width="31.4" height="4.1" fill="#82b51e"/><rect x="985.6" y="930.5" width="31.4" height="1.4" fill="#faf6af"/><rect x="985.6" y="935.2" width="31.4" height="3.5" fill="#4c8c6c"/><rect x="985.6" y="938.7" width="31.4" height="4.1" fill="#2e52b8"/><rect x="985.6" y="1026.0" width="31.4" height="3.7" fill="#4c8c6c"/><rect x="985.6" y="1031.8" width="31.4" height="1.4" fill="#1e12b0"/><rect x="1017.0" y="841.2" width="31.4" height="1.6" fill="#2a3eba"/><rect x="1017.0" y="860.7" width="31.4" height="2.1" fill="#2a3eba"/><rect x="1017.0" y="1010.6" width="31.4" height="3.1" fill="#3464ac"/><rect x="1017.0" y="1041.0" width="31.4" height="3.5" fill="#5a9b46"/><rect x="1017.0" y="1044.5" width="31.4" height="3.1" fill="#bece1a"/><rect x="1017.0" y="1047.6" width="31.4" height="2.1" fill="#6aaa28"/><rect x="1017.0" y="1049.7" width="31.4" height="5.3" fill="#3e7a94"/><rect x="1048.4" y="838.1" width="31.4" height="2.7" fill="#2a3eba"/><rect x="1048.4" y="854.5" width="31.4" height="4.1" fill="#3464ac"/><rect x="1048.4" y="951.1" width="31.4" height="2.1" fill="#3464ac"/><rect x="1048.4" y="1001.4" width="31.4" height="2.1" fill="#1e12b0"/><rect x="1048.4" y="1033.8" width="31.4" height="2.1" fill="#2a3eba"/><rect x="1079.8" y="836.0" width="31.4" height="1.4" fill="#2a3eba"/><rect x="1079.8" y="851.0" width="31.4" height="1.4" fill="#2a3eba"/><rect x="1079.8" y="854.5" width="31.4" height="2.1" fill="#2a3eba"/><rect x="1079.8" y="863.8" width="31.4" height="2.1" fill="#1e12b0"/><rect x="1079.8" y="874.0" width="31.4" height="3.1" fill="#3464ac"/><rect x="1079.8" y="882.2" width="31.4" height="2.1" fill="#1e12b0"/><rect x="1079.8" y="888.0" width="31.4" height="5.5" fill="#3464ac"/><rect x="1079.8" y="893.5" width="31.4" height="5.1" fill="#6aaa28"/><rect x="1079.8" y="906.9" width="31.4" height="6.2" fill="#3464ac"/><rect x="1079.8" y="913.1" width="31.4" height="2.5" fill="#4c8c6c"/><rect x="1079.8" y="921.3" width="31.4" height="4.1" fill="#3464ac"/><rect x="1079.8" y="935.2" width="31.4" height="3.5" fill="#6aaa28"/><rect x="1079.8" y="938.7" width="31.4" height="3.1" fill="#5a9b46"/><rect x="1079.8" y="941.8" width="31.4" height="3.1" fill="#faf6af"/><rect x="1079.8" y="944.9" width="31.4" height="21.6" fill="#9cc116"/><rect x="1079.8" y="966.5" width="31.4" height="3.1" fill="#3464ac"/><rect x="1079.8" y="969.6" width="31.4" height="9.2" fill="#5a9b46"/><rect x="1079.8" y="978.8" width="31.4" height="5.1" fill="#3464ac"/><rect x="1079.8" y="983.9" width="31.4" height="3.1" fill="#6aaa28"/><rect x="1079.8" y="987.0" width="31.4" height="3.1" fill="#4c8c6c"/><rect x="1079.8" y="993.2" width="31.4" height="6.2" fill="#2420b4"/><rect x="1079.8" y="1004.5" width="31.4" height="2.1" fill="#2a3eba"/><rect x="1079.8" y="1009.2" width="31.4" height="2.5" fill="#2420b4"/><rect x="1079.8" y="1016.8" width="31.4" height="2.1" fill="#2a3eba"/><rect x="1079.8" y="1021.9" width="31.4" height="2.1" fill="#2420b4"/><rect x="1079.8" y="1029.7" width="31.4" height="2.1" fill="#2a3eba"/><rect x="1079.8" y="1048.6" width="31.4" height="6.4" fill="#5a9b46"/><rect x="1111.2" y="862.7" width="31.4" height="5.1" fill="#3464ac"/><rect x="1111.2" y="910.0" width="31.4" height="2.1" fill="#1e12b0"/><rect x="1111.2" y="968.1" width="31.4" height="2.5" fill="#5a9b46"/><rect x="1111.2" y="970.6" width="31.4" height="5.1" fill="#3464ac"/><rect x="1111.2" y="1015.8" width="31.4" height="2.1" fill="#3464ac"/><rect x="1111.2" y="1042.5" width="31.4" height="1.0" fill="#1e12b0"/><rect x="1142.6" y="841.2" width="31.4" height="5.1" fill="#3464ac"/><rect x="1142.6" y="905.9" width="31.4" height="1.0" fill="#1e12b0"/><rect x="1142.6" y="919.2" width="31.4" height="2.1" fill="#1e12b0"/><rect x="1142.6" y="944.9" width="31.4" height="2.1" fill="#2420b4"/><rect x="1142.6" y="961.3" width="31.4" height="2.7" fill="#3464ac"/><rect x="1142.6" y="1001.4" width="31.4" height="1.6" fill="#1e12b0"/><rect x="1142.6" y="1011.7" width="31.4" height="1.6" fill="#1e12b0"/><rect x="1142.6" y="1032.2" width="31.4" height="1.6" fill="#1e12b0"/><rect x="1205.4" y="878.1" width="31.4" height="1.0" fill="#1e12b0"/><rect x="1205.4" y="886.4" width="31.4" height="1.0" fill="#1e12b0"/><rect x="1205.4" y="912.0" width="31.4" height="1.0" fill="#1e12b0"/><rect x="1205.4" y="983.9" width="31.4" height="5.1" fill="#3464ac"/><rect x="1205.4" y="991.5" width="31.4" height="1.2" fill="#f0ea64"/><rect x="1205.4" y="992.8" width="31.4" height="6.6" fill="#9cc116"/><rect x="1205.4" y="999.3" width="31.4" height="8.2" fill="#3464ac"/><rect x="1205.4" y="1007.6" width="31.4" height="8.2" fill="#3e7a94"/><rect x="1205.4" y="1015.8" width="31.4" height="5.1" fill="#3464ac"/><rect x="1205.4" y="1020.9" width="31.4" height="2.1" fill="#4c8c6c"/><rect x="1205.4" y="1023.0" width="31.4" height="5.1" fill="#6aaa28"/><rect x="1205.4" y="1028.1" width="31.4" height="7.2" fill="#3464ac"/><rect x="1205.4" y="1035.3" width="31.4" height="4.1" fill="#6aaa28"/><rect x="1205.4" y="1039.4" width="31.4" height="1.6" fill="#3464ac"/><rect x="1236.8" y="843.2" width="31.4" height="1.0" fill="#1e12b0"/><rect x="1236.8" y="863.8" width="31.4" height="2.1" fill="#1e12b0"/><rect x="1236.8" y="891.5" width="31.4" height="1.0" fill="#1e12b0"/><rect x="1236.8" y="959.3" width="31.4" height="1.4" fill="#2a3eba"/><rect x="1236.8" y="1014.1" width="31.4" height="1.6" fill="#3464ac"/><rect x="1236.8" y="1032.2" width="31.4" height="1.6" fill="#1e12b0"/><rect x="1268.2" y="957.2" width="31.4" height="1.4" fill="#2a3eba"/><rect x="1299.6" y="918.2" width="31.4" height="3.1" fill="#4c8c6c"/><rect x="1299.6" y="1001.4" width="31.4" height="1.6" fill="#2420b4"/><rect x="1299.6" y="1018.9" width="31.4" height="1.0" fill="#1e12b0"/><rect x="1299.6" y="1032.2" width="31.4" height="1.6" fill="#1e12b0"/><rect x="1331.0" y="872.0" width="31.4" height="1.6" fill="#1e12b0"/><rect x="1331.0" y="876.1" width="31.4" height="5.8" fill="#3e7a94"/><rect x="1331.0" y="886.4" width="31.4" height="1.0" fill="#1e12b0"/><rect x="1331.0" y="912.0" width="31.4" height="1.0" fill="#1e12b0"/><rect x="1331.0" y="986.0" width="31.4" height="2.1" fill="#2420b4"/><rect x="1331.0" y="993.2" width="31.4" height="1.0" fill="#1e12b0"/><rect x="1331.0" y="1003.0" width="31.4" height="1.4" fill="#2420b4"/><rect x="1331.0" y="1022.3" width="31.4" height="1.2" fill="#2420b4"/><rect x="1362.4" y="863.8" width="31.4" height="1.6" fill="#1e12b0"/><rect x="1362.4" y="997.3" width="31.4" height="1.6" fill="#2e52b8"/><rect x="1362.4" y="1016.8" width="31.4" height="1.0" fill="#1e12b0"/><rect x="1393.8" y="853.5" width="31.4" height="1.4" fill="#3464ac"/><rect x="1393.8" y="955.2" width="31.4" height="1.4" fill="#2a3eba"/><rect x="1393.8" y="1043.5" width="31.4" height="2.1" fill="#1e12b0"/><rect x="1425.2" y="878.1" width="31.4" height="1.6" fill="#2420b4"/><rect x="1425.2" y="882.2" width="31.4" height="3.1" fill="#5a9b46"/><rect x="1425.2" y="885.3" width="31.4" height="5.1" fill="#3464ac"/><rect x="1425.2" y="902.8" width="31.4" height="2.1" fill="#2420b4"/><rect x="1425.2" y="910.0" width="31.4" height="3.1" fill="#2420b4"/><rect x="1425.2" y="953.1" width="31.4" height="1.4" fill="#2a3eba"/><rect x="1425.2" y="981.9" width="31.4" height="1.4" fill="#2a3eba"/><rect x="1425.2" y="1021.9" width="31.4" height="3.7" fill="#3464ac"/><rect x="1456.6" y="1007.6" width="31.4" height="1.6" fill="#3e7a94"/><rect x="860.0" y="1066.0" width="31.4" height="2.1" fill="#3464ac"/><rect x="860.0" y="1072.6" width="31.4" height="3.1" fill="#2420b4"/><rect x="860.0" y="1094.8" width="31.4" height="4.1" fill="#3464ac"/><rect x="860.0" y="1100.3" width="31.4" height="3.1" fill="#2420b4"/><rect x="860.0" y="1105.1" width="31.4" height="4.1" fill="#2e52b8"/><rect x="860.0" y="1115.7" width="31.4" height="2.1" fill="#1e12b0"/><rect x="860.0" y="1154.8" width="31.4" height="2.1" fill="#2e52b8"/><rect x="860.0" y="1162.0" width="31.4" height="1.6" fill="#1e12b0"/><rect x="860.0" y="1173.3" width="31.4" height="4.1" fill="#2420b4"/><rect x="860.0" y="1179.8" width="31.4" height="1.6" fill="#2420b4"/><rect x="860.0" y="1203.0" width="31.4" height="4.1" fill="#2420b4"/><rect x="860.0" y="1209.2" width="31.4" height="3.1" fill="#4c8c6c"/><rect x="860.0" y="1212.3" width="31.4" height="9.9" fill="#3464ac"/><rect x="860.0" y="1222.1" width="31.4" height="2.5" fill="#e2de2e"/><rect x="860.0" y="1224.6" width="31.4" height="3.1" fill="#6aaa28"/><rect x="860.0" y="1236.9" width="31.4" height="3.1" fill="#3464ac"/><rect x="891.4" y="1064.0" width="31.4" height="1.6" fill="#3464ac"/><rect x="891.4" y="1132.2" width="31.4" height="1.6" fill="#3464ac"/><rect x="891.4" y="1203.0" width="31.4" height="1.4" fill="#2a3eba"/><rect x="891.4" y="1214.3" width="31.4" height="1.6" fill="#2420b4"/><rect x="891.4" y="1227.7" width="31.4" height="8.2" fill="#3e7a94"/><rect x="891.4" y="1235.9" width="31.4" height="3.1" fill="#4c8c6c"/><rect x="891.4" y="1239.0" width="31.4" height="5.1" fill="#3464ac"/><rect x="891.4" y="1244.1" width="31.4" height="3.1" fill="#6aaa28"/><rect x="891.4" y="1247.2" width="31.4" height="7.2" fill="#3464ac"/><rect x="891.4" y="1254.4" width="31.4" height="2.1" fill="#6aaa28"/><rect x="891.4" y="1256.5" width="31.4" height="5.1" fill="#3464ac"/><rect x="891.4" y="1261.6" width="31.4" height="3.7" fill="#6aaa28"/><rect x="891.4" y="1265.3" width="31.4" height="2.5" fill="#e2de2e"/><rect x="922.8" y="1053.1" width="31.4" height="1.4" fill="#3464ac"/><rect x="922.8" y="1072.2" width="31.4" height="2.1" fill="#2a3eba"/><rect x="922.8" y="1086.6" width="31.4" height="2.1" fill="#2420b4"/><rect x="922.8" y="1098.9" width="31.4" height="1.6" fill="#2a3eba"/><rect x="922.8" y="1116.1" width="31.4" height="1.6" fill="#2420b4"/><rect x="922.8" y="1121.9" width="31.4" height="2.1" fill="#5a9b46"/><rect x="922.8" y="1124.0" width="31.4" height="2.1" fill="#3464ac"/><rect x="922.8" y="1144.9" width="31.4" height="1.6" fill="#1e12b0"/><rect x="922.8" y="1158.9" width="31.4" height="2.1" fill="#1e12b0"/><rect x="922.8" y="1168.1" width="31.4" height="1.0" fill="#1e12b0"/><rect x="922.8" y="1174.3" width="31.4" height="1.4" fill="#1e12b0"/><rect x="922.8" y="1181.9" width="31.4" height="1.6" fill="#3464ac"/><rect x="922.8" y="1248.8" width="31.4" height="3.5" fill="#3464ac"/><rect x="922.8" y="1252.3" width="31.4" height="2.1" fill="#6aaa28"/><rect x="954.2" y="1061.9" width="31.4" height="1.4" fill="#1e12b0"/><rect x="954.2" y="1068.5" width="31.4" height="2.1" fill="#2420b4"/><rect x="954.2" y="1074.2" width="31.4" height="1.4" fill="#2420b4"/><rect x="954.2" y="1126.0" width="31.4" height="1.6" fill="#3464ac"/><rect x="954.2" y="1162.6" width="31.4" height="1.0" fill="#1e12b0"/><rect x="954.2" y="1214.3" width="31.4" height="1.2" fill="#2420b4"/><rect x="985.6" y="1068.1" width="31.4" height="1.6" fill="#3464ac"/><rect x="985.6" y="1099.3" width="31.4" height="1.6" fill="#2420b4"/><rect x="985.6" y="1117.8" width="31.4" height="2.1" fill="#1e12b0"/><rect x="985.6" y="1133.8" width="31.4" height="2.9" fill="#3e7a94"/><rect x="985.6" y="1144.9" width="31.4" height="1.6" fill="#2420b4"/><rect x="985.6" y="1164.0" width="31.4" height="1.6" fill="#3464ac"/><rect x="985.6" y="1194.8" width="31.4" height="1.6" fill="#2e52b8"/><rect x="985.6" y="1203.0" width="31.4" height="1.4" fill="#2420b4"/><rect x="985.6" y="1209.2" width="31.4" height="4.5" fill="#3e7a94"/><rect x="985.6" y="1243.1" width="31.4" height="1.6" fill="#3464ac"/><rect x="985.6" y="1248.8" width="31.4" height="1.4" fill="#2420b4"/><rect x="1017.0" y="1050.0" width="31.4" height="2.1" fill="#6aaa28"/><rect x="1017.0" y="1052.1" width="31.4" height="8.2" fill="#2e52b8"/><rect x="1017.0" y="1060.3" width="31.4" height="4.1" fill="#5a9b46"/><rect x="1017.0" y="1064.4" width="31.4" height="8.2" fill="#3e7a94"/><rect x="1017.0" y="1072.6" width="31.4" height="3.1" fill="#2a3eba"/><rect x="1017.0" y="1075.7" width="31.4" height="4.1" fill="#3e7a94"/><rect x="1017.0" y="1084.9" width="31.4" height="3.7" fill="#2420b4"/><rect x="1017.0" y="1093.1" width="31.4" height="1.6" fill="#2a3eba"/><rect x="1017.0" y="1173.3" width="31.4" height="2.1" fill="#2420b4"/><rect x="1017.0" y="1179.4" width="31.4" height="4.1" fill="#2420b4"/><rect x="1017.0" y="1196.9" width="31.4" height="1.4" fill="#2420b4"/><rect x="1017.0" y="1227.7" width="31.4" height="1.4" fill="#1e12b0"/><rect x="1048.4" y="1055.1" width="31.4" height="1.4" fill="#1e12b0"/><rect x="1048.4" y="1072.6" width="31.4" height="2.1" fill="#1e12b0"/><rect x="1048.4" y="1097.2" width="31.4" height="12.3" fill="#2420b4"/><rect x="1048.4" y="1158.9" width="31.4" height="3.1" fill="#3e7a94"/><rect x="1048.4" y="1186.6" width="31.4" height="1.4" fill="#2420b4"/><rect x="1048.4" y="1219.5" width="31.4" height="2.1" fill="#2420b4"/><rect x="1048.4" y="1239.0" width="31.4" height="1.6" fill="#2420b4"/><rect x="1048.4" y="1263.6" width="31.4" height="1.6" fill="#2420b4"/><rect x="1079.8" y="1050.0" width="31.4" height="3.1" fill="#82b51e"/><rect x="1079.8" y="1053.1" width="31.4" height="7.2" fill="#2e52b8"/><rect x="1079.8" y="1064.4" width="31.4" height="5.1" fill="#2420b4"/><rect x="1079.8" y="1079.8" width="31.4" height="2.1" fill="#2420b4"/><rect x="1079.8" y="1090.1" width="31.4" height="2.1" fill="#2420b4"/><rect x="1079.8" y="1100.3" width="31.4" height="9.2" fill="#2420b4"/><rect x="1079.8" y="1111.2" width="31.4" height="3.5" fill="#3464ac"/><rect x="1079.8" y="1114.7" width="31.4" height="1.4" fill="#5a9b46"/><rect x="1079.8" y="1116.1" width="31.4" height="1.6" fill="#3464ac"/><rect x="1079.8" y="1126.0" width="31.4" height="10.3" fill="#2420b4"/><rect x="1079.8" y="1137.3" width="31.4" height="1.6" fill="#3464ac"/><rect x="1079.8" y="1143.5" width="31.4" height="1.4" fill="#2e52b8"/><rect x="1079.8" y="1150.7" width="31.4" height="8.2" fill="#2420b4"/><rect x="1079.8" y="1166.1" width="31.4" height="4.1" fill="#3464ac"/><rect x="1079.8" y="1170.2" width="31.4" height="2.1" fill="#6aaa28"/><rect x="1079.8" y="1172.2" width="31.4" height="3.5" fill="#3464ac"/><rect x="1079.8" y="1184.6" width="31.4" height="2.7" fill="#82b51e"/><rect x="1079.8" y="1187.2" width="31.4" height="4.1" fill="#3464ac"/><rect x="1079.8" y="1194.8" width="31.4" height="4.1" fill="#2420b4"/><rect x="1079.8" y="1202.0" width="31.4" height="8.2" fill="#2420b4"/><rect x="1079.8" y="1212.3" width="31.4" height="2.1" fill="#4c8c6c"/><rect x="1079.8" y="1214.3" width="31.4" height="3.7" fill="#3464ac"/><rect x="1079.8" y="1224.2" width="31.4" height="1.6" fill="#2e52b8"/><rect x="1079.8" y="1228.7" width="31.4" height="18.5" fill="#2420b4"/><rect x="1079.8" y="1251.3" width="31.4" height="1.6" fill="#2e52b8"/><rect x="1079.8" y="1259.1" width="31.4" height="4.5" fill="#2e52b8"/><rect x="1079.8" y="1268.2" width="31.4" height="1.8" fill="#3464ac"/><rect x="1111.2" y="1069.5" width="31.4" height="3.1" fill="#2420b4"/><rect x="1111.2" y="1074.7" width="31.4" height="3.1" fill="#3464ac"/><rect x="1111.2" y="1077.7" width="31.4" height="3.1" fill="#1e12b0"/><rect x="1111.2" y="1080.8" width="31.4" height="7.2" fill="#6aaa28"/><rect x="1111.2" y="1088.0" width="31.4" height="2.7" fill="#e2de2e"/><rect x="1111.2" y="1090.7" width="31.4" height="3.5" fill="#3464ac"/><rect x="1111.2" y="1094.2" width="31.4" height="2.7" fill="#2a3eba"/><rect x="1111.2" y="1149.0" width="31.4" height="1.6" fill="#2e52b8"/><rect x="1111.2" y="1197.5" width="31.4" height="1.2" fill="#2a3eba"/><rect x="1111.2" y="1231.8" width="31.4" height="1.6" fill="#2a3eba"/><rect x="1142.6" y="1058.6" width="31.4" height="5.3" fill="#3464ac"/><rect x="1142.6" y="1079.8" width="31.4" height="4.1" fill="#3464ac"/><rect x="1142.6" y="1093.1" width="31.4" height="1.6" fill="#2420b4"/><rect x="1142.6" y="1098.3" width="31.4" height="2.1" fill="#2420b4"/><rect x="1142.6" y="1102.4" width="31.4" height="2.7" fill="#2a3eba"/><rect x="1142.6" y="1127.0" width="31.4" height="2.1" fill="#1e12b0"/><rect x="1142.6" y="1134.2" width="31.4" height="2.1" fill="#1e12b0"/><rect x="1142.6" y="1142.9" width="31.4" height="3.7" fill="#3464ac"/><rect x="1142.6" y="1146.5" width="31.4" height="2.1" fill="#4c8c6c"/><rect x="1142.6" y="1152.7" width="31.4" height="1.6" fill="#1e12b0"/><rect x="1142.6" y="1174.3" width="31.4" height="7.2" fill="#2420b4"/><rect x="1142.6" y="1190.7" width="31.4" height="1.8" fill="#2e52b8"/><rect x="1142.6" y="1226.3" width="31.4" height="1.6" fill="#2e52b8"/><rect x="1142.6" y="1230.8" width="31.4" height="2.1" fill="#2420b4"/><rect x="1142.6" y="1268.2" width="31.4" height="1.8" fill="#2e52b8"/><rect x="1174.0" y="1055.1" width="31.4" height="1.0" fill="#1e12b0"/><rect x="1174.0" y="1072.2" width="31.4" height="1.4" fill="#1e12b0"/><rect x="1174.0" y="1078.3" width="31.4" height="1.4" fill="#3464ac"/><rect x="1174.0" y="1152.7" width="31.4" height="1.6" fill="#3464ac"/><rect x="1174.0" y="1170.2" width="31.4" height="3.1" fill="#3464ac"/><rect x="1174.0" y="1173.3" width="31.4" height="1.0" fill="#4c8c6c"/><rect x="1174.0" y="1174.3" width="31.4" height="3.5" fill="#3464ac"/><rect x="1174.0" y="1177.8" width="31.4" height="2.1" fill="#6aaa28"/><rect x="1174.0" y="1179.8" width="31.4" height="3.7" fill="#3464ac"/><rect x="1174.0" y="1194.8" width="31.4" height="1.4" fill="#2420b4"/><rect x="1174.0" y="1205.1" width="31.4" height="1.4" fill="#2420b4"/><rect x="1174.0" y="1214.3" width="31.4" height="1.2" fill="#1e12b0"/><rect x="1174.0" y="1220.1" width="31.4" height="1.4" fill="#1e12b0"/><rect x="1205.4" y="1099.3" width="31.4" height="2.1" fill="#2420b4"/><rect x="1205.4" y="1106.5" width="31.4" height="2.1" fill="#2420b4"/><rect x="1205.4" y="1117.8" width="31.4" height="1.6" fill="#2420b4"/><rect x="1205.4" y="1139.4" width="31.4" height="1.0" fill="#1e12b0"/><rect x="1205.4" y="1156.8" width="31.4" height="1.6" fill="#3464ac"/><rect x="1205.4" y="1175.7" width="31.4" height="1.6" fill="#3464ac"/><rect x="1205.4" y="1198.9" width="31.4" height="6.2" fill="#2420b4"/><rect x="1205.4" y="1206.5" width="31.4" height="2.1" fill="#3e7a94"/><rect x="1205.4" y="1220.1" width="31.4" height="1.4" fill="#2420b4"/><rect x="1205.4" y="1239.0" width="31.4" height="1.6" fill="#1e12b0"/><rect x="1205.4" y="1247.2" width="31.4" height="1.6" fill="#2420b4"/><rect x="1205.4" y="1257.5" width="31.4" height="1.0" fill="#2420b4"/><rect x="1236.8" y="1070.1" width="31.4" height="1.4" fill="#3464ac"/><rect x="1236.8" y="1074.2" width="31.4" height="1.4" fill="#2420b4"/><rect x="1236.8" y="1083.9" width="31.4" height="2.1" fill="#3464ac"/><rect x="1236.8" y="1091.1" width="31.4" height="1.6" fill="#6aaa28"/><rect x="1236.8" y="1092.7" width="31.4" height="2.1" fill="#3464ac"/><rect x="1236.8" y="1096.8" width="31.4" height="3.5" fill="#3464ac"/><rect x="1236.8" y="1110.6" width="31.4" height="13.4" fill="#3464ac"/><rect x="1236.8" y="1124.0" width="31.4" height="2.1" fill="#6aaa28"/><rect x="1236.8" y="1126.0" width="31.4" height="11.3" fill="#4c8c6c"/><rect x="1236.8" y="1137.3" width="31.4" height="3.1" fill="#6aaa28"/><rect x="1236.8" y="1140.4" width="31.4" height="2.5" fill="#e2de2e"/><rect x="1236.8" y="1142.9" width="31.4" height="3.7" fill="#3464ac"/><rect x="1236.8" y="1146.5" width="31.4" height="2.1" fill="#6aaa28"/><rect x="1236.8" y="1214.3" width="31.4" height="1.0" fill="#1e12b0"/><rect x="1236.8" y="1263.6" width="31.4" height="1.6" fill="#1e12b0"/><rect x="1268.2" y="1055.1" width="31.4" height="1.4" fill="#2420b4"/><rect x="1268.2" y="1101.4" width="31.4" height="3.1" fill="#2420b4"/><rect x="1268.2" y="1149.0" width="31.4" height="12.9" fill="#3464ac"/><rect x="1268.2" y="1162.0" width="31.4" height="2.1" fill="#9cc116"/><rect x="1268.2" y="1164.0" width="31.4" height="2.1" fill="#3464ac"/><rect x="1268.2" y="1166.1" width="31.4" height="2.1" fill="#6aaa28"/><rect x="1268.2" y="1168.1" width="31.4" height="1.6" fill="#3464ac"/><rect x="1268.2" y="1176.3" width="31.4" height="1.4" fill="#2420b4"/><rect x="1268.2" y="1233.9" width="31.4" height="2.7" fill="#3464ac"/><rect x="1299.6" y="1098.9" width="31.4" height="4.1" fill="#3464ac"/><rect x="1299.6" y="1150.7" width="31.4" height="2.1" fill="#3464ac"/><rect x="1299.6" y="1186.6" width="31.4" height="2.1" fill="#2420b4"/><rect x="1299.6" y="1198.9" width="31.4" height="2.1" fill="#2420b4"/><rect x="1299.6" y="1214.3" width="31.4" height="1.6" fill="#2420b4"/><rect x="1299.6" y="1257.1" width="31.4" height="1.4" fill="#2420b4"/><rect x="1299.6" y="1267.7" width="31.4" height="2.3" fill="#3464ac"/><rect x="1331.0" y="1055.1" width="31.4" height="1.0" fill="#1e12b0"/><rect x="1331.0" y="1174.3" width="31.4" height="1.4" fill="#2420b4"/><rect x="1331.0" y="1183.9" width="31.4" height="4.7" fill="#3464ac"/><rect x="1331.0" y="1188.7" width="31.4" height="2.7" fill="#6aaa28"/><rect x="1331.0" y="1191.3" width="31.4" height="7.0" fill="#3e7a94"/><rect x="1331.0" y="1198.3" width="31.4" height="2.7" fill="#9cc116"/><rect x="1331.0" y="1201.0" width="31.4" height="7.6" fill="#3464ac"/><rect x="1331.0" y="1216.0" width="31.4" height="2.1" fill="#3464ac"/><rect x="1331.0" y="1218.0" width="31.4" height="2.1" fill="#6aaa28"/><rect x="1331.0" y="1220.1" width="31.4" height="1.4" fill="#3464ac"/><rect x="1331.0" y="1239.0" width="31.4" height="3.7" fill="#3464ac"/><rect x="1362.4" y="1094.2" width="31.4" height="2.1" fill="#1e12b0"/><rect x="1362.4" y="1106.5" width="31.4" height="7.2" fill="#3464ac"/><rect x="1362.4" y="1117.8" width="31.4" height="2.1" fill="#3464ac"/><rect x="1362.4" y="1119.8" width="31.4" height="2.1" fill="#6aaa28"/><rect x="1362.4" y="1149.6" width="31.4" height="3.1" fill="#2420b4"/><rect x="1362.4" y="1162.0" width="31.4" height="1.4" fill="#1e12b0"/><rect x="1362.4" y="1177.4" width="31.4" height="4.1" fill="#2420b4"/><rect x="1362.4" y="1247.2" width="31.4" height="1.6" fill="#2420b4"/><rect x="1362.4" y="1255.0" width="31.4" height="6.6" fill="#3464ac"/><rect x="1393.8" y="1057.2" width="31.4" height="1.4" fill="#3464ac"/><rect x="1393.8" y="1072.6" width="31.4" height="3.1" fill="#2420b4"/><rect x="1393.8" y="1086.6" width="31.4" height="2.1" fill="#2420b4"/><rect x="1393.8" y="1093.1" width="31.4" height="1.6" fill="#1e12b0"/><rect x="1393.8" y="1109.2" width="31.4" height="1.6" fill="#3464ac"/><rect x="1393.8" y="1130.1" width="31.4" height="1.6" fill="#3464ac"/><rect x="1393.8" y="1192.8" width="31.4" height="2.1" fill="#2420b4"/><rect x="1393.8" y="1228.3" width="31.4" height="1.6" fill="#3464ac"/><rect x="1425.2" y="1099.3" width="31.4" height="2.1" fill="#1e12b0"/><rect x="1425.2" y="1201.0" width="31.4" height="3.1" fill="#3464ac"/><rect x="1425.2" y="1204.1" width="31.4" height="2.5" fill="#2a3eba"/><rect x="1425.2" y="1214.3" width="31.4" height="6.2" fill="#2420b4"/><rect x="1425.2" y="1245.2" width="31.4" height="5.1" fill="#3464ac"/><rect x="1456.6" y="1055.1" width="31.4" height="1.4" fill="#1e12b0"/><rect x="1456.6" y="1070.5" width="31.4" height="6.2" fill="#2420b4"/><rect x="1456.6" y="1079.8" width="31.4" height="2.1" fill="#2420b4"/><rect x="1456.6" y="1086.6" width="31.4" height="2.5" fill="#2420b4"/><rect x="1456.6" y="1093.1" width="31.4" height="1.6" fill="#2420b4"/><rect x="1456.6" y="1103.0" width="31.4" height="4.1" fill="#2e52b8"/><rect x="1456.6" y="1128.1" width="31.4" height="2.1" fill="#3464ac"/><rect x="1456.6" y="1193.8" width="31.4" height="1.2" fill="#3464ac"/><rect x="1456.6" y="1230.4" width="31.4" height="1.6" fill="#3464ac"/><rect x="1456.6" y="1232.8" width="31.4" height="4.1" fill="#2420b4"/><rect x="860.0" y="1289.2" width="31.4" height="1.4" fill="#2420b4"/><rect x="860.0" y="1307.1" width="31.4" height="1.6" fill="#3464ac"/><rect x="860.0" y="1328.3" width="31.4" height="1.6" fill="#3464ac"/><rect x="860.0" y="1345.1" width="31.4" height="1.2" fill="#1e12b0"/><rect x="860.0" y="1364.6" width="31.4" height="2.1" fill="#2420b4"/><rect x="860.0" y="1374.3" width="31.4" height="1.6" fill="#2420b4"/><rect x="860.0" y="1397.5" width="31.4" height="1.4" fill="#5a9b46"/><rect x="860.0" y="1398.9" width="31.4" height="2.1" fill="#3464ac"/><rect x="860.0" y="1411.9" width="31.4" height="1.4" fill="#2420b4"/><rect x="860.0" y="1424.2" width="31.4" height="1.4" fill="#2420b4"/><rect x="860.0" y="1432.4" width="31.4" height="2.7" fill="#2420b4"/><rect x="860.0" y="1450.9" width="31.4" height="2.1" fill="#3464ac"/><rect x="860.0" y="1481.7" width="31.4" height="2.1" fill="#2420b4"/><rect x="891.4" y="1265.0" width="31.4" height="2.5" fill="#e2de2e"/><rect x="891.4" y="1300.9" width="31.4" height="2.1" fill="#3464ac"/><rect x="891.4" y="1466.3" width="31.4" height="1.6" fill="#3464ac"/><rect x="922.8" y="1279.8" width="31.4" height="1.6" fill="#2420b4"/><rect x="922.8" y="1287.6" width="31.4" height="1.6" fill="#1e12b0"/><rect x="922.8" y="1308.8" width="31.4" height="3.1" fill="#3464ac"/><rect x="922.8" y="1313.9" width="31.4" height="3.5" fill="#2420b4"/><rect x="922.8" y="1331.8" width="31.4" height="1.4" fill="#1e12b0"/><rect x="922.8" y="1345.1" width="31.4" height="1.6" fill="#1e12b0"/><rect x="922.8" y="1350.9" width="31.4" height="1.4" fill="#2420b4"/><rect x="922.8" y="1385.2" width="31.4" height="2.1" fill="#5a9b46"/><rect x="922.8" y="1387.2" width="31.4" height="3.5" fill="#3464ac"/><rect x="922.8" y="1393.4" width="31.4" height="1.4" fill="#2420b4"/><rect x="922.8" y="1411.9" width="31.4" height="2.1" fill="#2a3eba"/><rect x="922.8" y="1418.0" width="31.4" height="1.4" fill="#2420b4"/><rect x="922.8" y="1424.2" width="31.4" height="1.4" fill="#2420b4"/><rect x="922.8" y="1454.0" width="31.4" height="2.1" fill="#2420b4"/><rect x="922.8" y="1471.5" width="31.4" height="2.1" fill="#3464ac"/><rect x="954.2" y="1313.9" width="31.4" height="2.1" fill="#3464ac"/><rect x="954.2" y="1315.9" width="31.4" height="1.6" fill="#6aaa28"/><rect x="954.2" y="1330.3" width="31.4" height="1.2" fill="#2420b4"/><rect x="954.2" y="1347.2" width="31.4" height="3.7" fill="#3464ac"/><rect x="985.6" y="1330.3" width="31.4" height="1.4" fill="#3464ac"/><rect x="985.6" y="1387.8" width="31.4" height="1.4" fill="#1e12b0"/><rect x="985.6" y="1393.4" width="31.4" height="1.4" fill="#3464ac"/><rect x="985.6" y="1411.9" width="31.4" height="2.1" fill="#2420b4"/><rect x="985.6" y="1424.2" width="31.4" height="1.4" fill="#2420b4"/><rect x="985.6" y="1453.0" width="31.4" height="3.5" fill="#3464ac"/><rect x="1017.0" y="1305.1" width="31.4" height="1.6" fill="#3464ac"/><rect x="1017.0" y="1320.5" width="31.4" height="1.0" fill="#1e12b0"/><rect x="1017.0" y="1326.2" width="31.4" height="1.4" fill="#3464ac"/><rect x="1017.0" y="1339.0" width="31.4" height="1.6" fill="#2420b4"/><rect x="1017.0" y="1364.6" width="31.4" height="1.0" fill="#2420b4"/><rect x="1017.0" y="1401.0" width="31.4" height="1.6" fill="#6aaa28"/><rect x="1017.0" y="1402.6" width="31.4" height="4.1" fill="#3464ac"/><rect x="1017.0" y="1443.3" width="31.4" height="1.4" fill="#3464ac"/><rect x="1048.4" y="1324.2" width="31.4" height="1.6" fill="#4c8c6c"/><rect x="1048.4" y="1351.3" width="31.4" height="1.0" fill="#2420b4"/><rect x="1048.4" y="1383.1" width="31.4" height="1.4" fill="#2420b4"/><rect x="1048.4" y="1387.8" width="31.4" height="1.4" fill="#2420b4"/><rect x="1048.4" y="1413.9" width="31.4" height="1.4" fill="#2420b4"/><rect x="1048.4" y="1422.1" width="31.4" height="5.1" fill="#4c8c6c"/><rect x="1048.4" y="1427.3" width="31.4" height="2.5" fill="#6aaa28"/><rect x="1079.8" y="1268.1" width="31.4" height="1.4" fill="#3464ac"/><rect x="1079.8" y="1279.8" width="31.4" height="1.2" fill="#1e12b0"/><rect x="1079.8" y="1283.9" width="31.4" height="2.7" fill="#9cc116"/><rect x="1079.8" y="1286.6" width="31.4" height="6.2" fill="#3464ac"/><rect x="1079.8" y="1295.4" width="31.4" height="1.4" fill="#2e52b8"/><rect x="1079.8" y="1298.9" width="31.4" height="2.1" fill="#2a3eba"/><rect x="1079.8" y="1306.1" width="31.4" height="20.5" fill="#2420b4"/><rect x="1079.8" y="1328.7" width="31.4" height="12.3" fill="#2420b4"/><rect x="1079.8" y="1341.0" width="31.4" height="3.1" fill="#5a9b46"/><rect x="1079.8" y="1344.1" width="31.4" height="4.7" fill="#3464ac"/><rect x="1079.8" y="1353.3" width="31.4" height="6.2" fill="#2420b4"/><rect x="1079.8" y="1362.0" width="31.4" height="2.1" fill="#3464ac"/><rect x="1079.8" y="1370.2" width="31.4" height="1.6" fill="#9cc116"/><rect x="1079.8" y="1371.8" width="31.4" height="5.8" fill="#3464ac"/><rect x="1079.8" y="1380.4" width="31.4" height="3.7" fill="#2420b4"/><rect x="1079.8" y="1389.3" width="31.4" height="1.4" fill="#2e52b8"/><rect x="1079.8" y="1394.4" width="31.4" height="7.2" fill="#2420b4"/><rect x="1079.8" y="1406.7" width="31.4" height="3.1" fill="#3464ac"/><rect x="1079.8" y="1412.9" width="31.4" height="11.3" fill="#2420b4"/><rect x="1079.8" y="1426.3" width="31.4" height="4.7" fill="#2e52b8"/><rect x="1079.8" y="1431.0" width="31.4" height="3.5" fill="#4c8c6c"/><rect x="1079.8" y="1434.5" width="31.4" height="2.1" fill="#6aaa28"/><rect x="1079.8" y="1436.5" width="31.4" height="2.7" fill="#3464ac"/><rect x="1079.8" y="1441.7" width="31.4" height="24.7" fill="#2420b4"/><rect x="1079.8" y="1468.4" width="31.4" height="4.1" fill="#2420b4"/><rect x="1079.8" y="1480.3" width="31.4" height="1.4" fill="#3464ac"/><rect x="1111.2" y="1303.0" width="31.4" height="2.1" fill="#3464ac"/><rect x="1111.2" y="1336.9" width="31.4" height="2.1" fill="#3464ac"/><rect x="1111.2" y="1339.0" width="31.4" height="2.1" fill="#4c8c6c"/><rect x="1111.2" y="1345.1" width="31.4" height="1.6" fill="#2420b4"/><rect x="1111.2" y="1382.1" width="31.4" height="2.5" fill="#2a3eba"/><rect x="1111.2" y="1390.7" width="31.4" height="1.6" fill="#3464ac"/><rect x="1111.2" y="1403.0" width="31.4" height="1.6" fill="#1e12b0"/><rect x="1111.2" y="1445.4" width="31.4" height="1.4" fill="#3464ac"/><rect x="1142.6" y="1268.1" width="31.4" height="1.4" fill="#3464ac"/><rect x="1142.6" y="1269.5" width="31.4" height="2.7" fill="#6aaa28"/><rect x="1142.6" y="1272.2" width="31.4" height="3.5" fill="#3464ac"/><rect x="1142.6" y="1280.4" width="31.4" height="1.0" fill="#1e12b0"/><rect x="1142.6" y="1293.8" width="31.4" height="10.3" fill="#2420b4"/><rect x="1142.6" y="1318.0" width="31.4" height="2.1" fill="#6aaa28"/><rect x="1142.6" y="1320.1" width="31.4" height="3.5" fill="#3464ac"/><rect x="1142.6" y="1330.3" width="31.4" height="1.4" fill="#2420b4"/><rect x="1142.6" y="1343.1" width="31.4" height="1.6" fill="#2420b4"/><rect x="1142.6" y="1364.6" width="31.4" height="1.4" fill="#2420b4"/><rect x="1142.6" y="1380.4" width="31.4" height="1.6" fill="#2420b4"/><rect x="1142.6" y="1387.8" width="31.4" height="1.4" fill="#2420b4"/><rect x="1142.6" y="1409.8" width="31.4" height="2.1" fill="#2e52b8"/><rect x="1142.6" y="1430.4" width="31.4" height="1.4" fill="#2e52b8"/><rect x="1142.6" y="1474.1" width="31.4" height="1.4" fill="#2e52b8"/><rect x="1142.6" y="1479.7" width="31.4" height="5.3" fill="#3464ac"/><rect x="1174.0" y="1403.0" width="31.4" height="1.6" fill="#2420b4"/><rect x="1174.0" y="1413.9" width="31.4" height="1.4" fill="#2420b4"/><rect x="1174.0" y="1424.2" width="31.4" height="1.4" fill="#1e12b0"/><rect x="1205.4" y="1279.8" width="31.4" height="1.6" fill="#2420b4"/><rect x="1205.4" y="1293.3" width="31.4" height="3.5" fill="#3464ac"/><rect x="1205.4" y="1307.1" width="31.4" height="1.4" fill="#2420b4"/><rect x="1205.4" y="1432.4" width="31.4" height="2.1" fill="#2420b4"/><rect x="1205.4" y="1439.2" width="31.4" height="1.4" fill="#2420b4"/><rect x="1205.4" y="1462.2" width="31.4" height="1.6" fill="#2420b4"/><rect x="1205.4" y="1468.0" width="31.4" height="1.6" fill="#3464ac"/><rect x="1236.8" y="1312.2" width="31.4" height="1.6" fill="#3464ac"/><rect x="1236.8" y="1339.0" width="31.4" height="1.6" fill="#2420b4"/><rect x="1236.8" y="1345.1" width="31.4" height="1.6" fill="#1e12b0"/><rect x="1236.8" y="1364.6" width="31.4" height="1.0" fill="#2420b4"/><rect x="1236.8" y="1387.2" width="31.4" height="1.4" fill="#2420b4"/><rect x="1236.8" y="1403.0" width="31.4" height="1.6" fill="#2420b4"/><rect x="1236.8" y="1416.0" width="31.4" height="2.1" fill="#3464ac"/><rect x="1236.8" y="1439.2" width="31.4" height="1.4" fill="#3464ac"/><rect x="1236.8" y="1453.0" width="31.4" height="1.4" fill="#1e12b0"/><rect x="1268.2" y="1333.8" width="31.4" height="3.1" fill="#3464ac"/><rect x="1268.2" y="1364.6" width="31.4" height="2.1" fill="#2420b4"/><rect x="1268.2" y="1382.1" width="31.4" height="2.5" fill="#2420b4"/><rect x="1268.2" y="1394.8" width="31.4" height="1.6" fill="#3464ac"/><rect x="1268.2" y="1403.0" width="31.4" height="1.6" fill="#2420b4"/><rect x="1268.2" y="1413.9" width="31.4" height="1.4" fill="#2420b4"/><rect x="1268.2" y="1446.8" width="31.4" height="1.4" fill="#3464ac"/><rect x="1299.6" y="1268.1" width="31.4" height="6.2" fill="#3464ac"/><rect x="1299.6" y="1274.2" width="31.4" height="2.1" fill="#6aaa28"/><rect x="1299.6" y="1276.3" width="31.4" height="2.1" fill="#e2de2e"/><rect x="1299.6" y="1278.4" width="31.4" height="3.1" fill="#6aaa28"/><rect x="1299.6" y="1281.4" width="31.4" height="3.1" fill="#82b51e"/><rect x="1299.6" y="1284.5" width="31.4" height="3.1" fill="#3464ac"/><rect x="1299.6" y="1287.6" width="31.4" height="1.6" fill="#6aaa28"/><rect x="1299.6" y="1289.2" width="31.4" height="6.6" fill="#3464ac"/><rect x="1299.6" y="1295.8" width="31.4" height="3.1" fill="#5a9b46"/><rect x="1299.6" y="1298.9" width="31.4" height="7.2" fill="#3464ac"/><rect x="1299.6" y="1306.1" width="31.4" height="8.2" fill="#4c8c6c"/><rect x="1299.6" y="1314.3" width="31.4" height="3.7" fill="#3464ac"/><rect x="1299.6" y="1331.8" width="31.4" height="2.1" fill="#3464ac"/><rect x="1299.6" y="1345.1" width="31.4" height="1.6" fill="#2420b4"/><rect x="1299.6" y="1380.0" width="31.4" height="1.6" fill="#1e12b0"/><rect x="1299.6" y="1448.9" width="31.4" height="2.1" fill="#3464ac"/><rect x="1331.0" y="1307.1" width="31.4" height="1.4" fill="#2420b4"/><rect x="1331.0" y="1345.1" width="31.4" height="1.6" fill="#1e12b0"/><rect x="1331.0" y="1373.9" width="31.4" height="1.6" fill="#2420b4"/><rect x="1331.0" y="1424.2" width="31.4" height="2.7" fill="#2420b4"/><rect x="1331.0" y="1432.4" width="31.4" height="2.1" fill="#2420b4"/><rect x="1331.0" y="1446.8" width="31.4" height="1.4" fill="#1e12b0"/><rect x="1331.0" y="1453.0" width="31.4" height="1.4" fill="#1e12b0"/><rect x="1331.0" y="1470.0" width="31.4" height="1.4" fill="#2420b4"/><rect x="1362.4" y="1279.4" width="31.4" height="1.6" fill="#2420b4"/><rect x="1362.4" y="1281.8" width="31.4" height="2.1" fill="#3464ac"/><rect x="1362.4" y="1290.7" width="31.4" height="2.1" fill="#3464ac"/><rect x="1362.4" y="1298.9" width="31.4" height="1.4" fill="#2420b4"/><rect x="1362.4" y="1303.0" width="31.4" height="1.4" fill="#2420b4"/><rect x="1362.4" y="1354.4" width="31.4" height="2.1" fill="#3464ac"/><rect x="1362.4" y="1356.4" width="31.4" height="2.7" fill="#5a9b46"/><rect x="1362.4" y="1375.9" width="31.4" height="4.1" fill="#3464ac"/><rect x="1362.4" y="1380.0" width="31.4" height="2.1" fill="#4c8c6c"/><rect x="1362.4" y="1382.1" width="31.4" height="2.5" fill="#3464ac"/><rect x="1362.4" y="1462.2" width="31.4" height="3.1" fill="#3e7a94"/><rect x="1362.4" y="1481.7" width="31.4" height="3.3" fill="#2420b4"/><rect x="1393.8" y="1318.0" width="31.4" height="3.5" fill="#3464ac"/><rect x="1393.8" y="1321.5" width="31.4" height="2.1" fill="#6aaa28"/><rect x="1393.8" y="1323.5" width="31.4" height="13.4" fill="#3e7a94"/><rect x="1393.8" y="1336.9" width="31.4" height="2.1" fill="#6aaa28"/><rect x="1393.8" y="1339.0" width="31.4" height="2.1" fill="#3464ac"/><rect x="1393.8" y="1341.0" width="31.4" height="2.1" fill="#6aaa28"/><rect x="1393.8" y="1343.1" width="31.4" height="9.2" fill="#3e7a94"/><rect x="1393.8" y="1352.3" width="31.4" height="3.1" fill="#e2de2e"/><rect x="1393.8" y="1355.4" width="31.4" height="3.1" fill="#3464ac"/><rect x="1393.8" y="1358.5" width="31.4" height="3.1" fill="#6aaa28"/><rect x="1393.8" y="1361.5" width="31.4" height="5.1" fill="#3464ac"/><rect x="1393.8" y="1366.7" width="31.4" height="3.1" fill="#4c8c6c"/><rect x="1393.8" y="1403.0" width="31.4" height="1.6" fill="#1e12b0"/><rect x="1393.8" y="1441.3" width="31.4" height="1.4" fill="#3464ac"/><rect x="1425.2" y="1422.1" width="31.4" height="5.1" fill="#3464ac"/><rect x="1425.2" y="1427.3" width="31.4" height="9.2" fill="#3e7a94"/><rect x="1425.2" y="1436.5" width="31.4" height="2.7" fill="#6aaa28"/><rect x="1425.2" y="1439.2" width="31.4" height="15.8" fill="#3e7a94"/><rect x="1425.2" y="1455.0" width="31.4" height="5.1" fill="#6aaa28"/><rect x="1425.2" y="1460.2" width="31.4" height="3.1" fill="#4c8c6c"/><rect x="1425.2" y="1463.2" width="31.4" height="2.1" fill="#3464ac"/><rect x="1425.2" y="1465.3" width="31.4" height="5.1" fill="#6aaa28"/><rect x="1425.2" y="1470.4" width="31.4" height="7.2" fill="#82b51e"/><rect x="1425.2" y="1477.6" width="31.4" height="2.1" fill="#e2de2e"/><rect x="1456.6" y="1296.8" width="31.4" height="3.5" fill="#3464ac"/><rect x="1456.6" y="1318.4" width="31.4" height="4.1" fill="#2420b4"/><rect x="1456.6" y="1324.6" width="31.4" height="4.1" fill="#2420b4"/><rect x="1456.6" y="1333.8" width="31.4" height="5.1" fill="#2420b4"/><rect x="1456.6" y="1344.1" width="31.4" height="3.1" fill="#1e12b0"/><rect x="1456.6" y="1349.2" width="31.4" height="6.2" fill="#2420b4"/><rect x="1456.6" y="1359.1" width="31.4" height="8.6" fill="#3464ac"/><rect x="1456.6" y="1367.7" width="31.4" height="2.5" fill="#6aaa28"/><rect x="1456.6" y="1370.2" width="31.4" height="6.8" fill="#3464ac"/><rect x="1456.6" y="1377.0" width="31.4" height="2.7" fill="#6aaa28"/><rect x="1456.6" y="1379.6" width="31.4" height="4.5" fill="#3464ac"/><rect x="1456.6" y="1384.1" width="31.4" height="3.1" fill="#5a9b46"/><rect x="1456.6" y="1387.2" width="31.4" height="9.2" fill="#3e7a94"/><rect x="1456.6" y="1396.5" width="31.4" height="3.1" fill="#6aaa28"/><rect x="1456.6" y="1399.6" width="31.4" height="6.2" fill="#4c8c6c"/><rect x="1456.6" y="1405.7" width="31.4" height="12.3" fill="#9cc116"/><rect x="1456.6" y="1418.0" width="31.4" height="3.5" fill="#f0ea64"/><rect x="1456.6" y="1457.1" width="31.4" height="4.1" fill="#3464ac"/><rect x="1456.6" y="1479.7" width="31.4" height="5.3" fill="#3464ac"/><rect x="860.0" y="1482.8" width="31.4" height="1.4" fill="#2420b4"/><rect x="860.0" y="1510.3" width="31.4" height="1.6" fill="#3464ac"/><rect x="860.0" y="1514.0" width="31.4" height="1.6" fill="#3464ac"/><rect x="860.0" y="1528.4" width="31.4" height="1.0" fill="#2420b4"/><rect x="860.0" y="1532.9" width="31.4" height="1.6" fill="#2420b4"/><rect x="860.0" y="1556.1" width="31.4" height="2.1" fill="#2420b4"/><rect x="860.0" y="1560.3" width="31.4" height="1.4" fill="#3464ac"/><rect x="860.0" y="1574.6" width="31.4" height="1.0" fill="#1e12b0"/><rect x="860.0" y="1585.5" width="31.4" height="1.4" fill="#3464ac"/><rect x="860.0" y="1593.1" width="31.4" height="1.4" fill="#2420b4"/><rect x="860.0" y="1603.4" width="31.4" height="1.4" fill="#2420b4"/><rect x="860.0" y="1608.1" width="31.4" height="1.4" fill="#2420b4"/><rect x="860.0" y="1617.8" width="31.4" height="2.1" fill="#4c8c6c"/><rect x="860.0" y="1619.8" width="31.4" height="2.1" fill="#3464ac"/><rect x="860.0" y="1628.0" width="31.4" height="4.1" fill="#2420b4"/><rect x="860.0" y="1643.4" width="31.4" height="1.2" fill="#2420b4"/><rect x="891.4" y="1500.7" width="31.4" height="2.1" fill="#4c8c6c"/><rect x="891.4" y="1502.7" width="31.4" height="2.1" fill="#3464ac"/><rect x="891.4" y="1545.3" width="31.4" height="1.6" fill="#3464ac"/><rect x="891.4" y="1557.2" width="31.4" height="2.1" fill="#2420b4"/><rect x="891.4" y="1633.2" width="31.4" height="1.6" fill="#3464ac"/><rect x="891.4" y="1649.2" width="31.4" height="1.4" fill="#2420b4"/><rect x="922.8" y="1512.0" width="31.4" height="1.6" fill="#2420b4"/><rect x="922.8" y="1518.1" width="31.4" height="1.6" fill="#3464ac"/><rect x="922.8" y="1526.4" width="31.4" height="1.2" fill="#2420b4"/><rect x="922.8" y="1532.5" width="31.4" height="3.7" fill="#2420b4"/><rect x="922.8" y="1540.7" width="31.4" height="4.1" fill="#3464ac"/><rect x="922.8" y="1557.2" width="31.4" height="2.1" fill="#2420b4"/><rect x="922.8" y="1603.4" width="31.4" height="1.4" fill="#2a3eba"/><rect x="922.8" y="1614.3" width="31.4" height="1.4" fill="#2420b4"/><rect x="922.8" y="1647.1" width="31.4" height="6.2" fill="#3464ac"/><rect x="922.8" y="1653.3" width="31.4" height="1.6" fill="#6aaa28"/><rect x="954.2" y="1516.1" width="31.4" height="1.6" fill="#3464ac"/><rect x="954.2" y="1551.4" width="31.4" height="1.6" fill="#3464ac"/><rect x="954.2" y="1637.3" width="31.4" height="1.6" fill="#3464ac"/><rect x="985.6" y="1519.8" width="31.4" height="4.1" fill="#3e7a94"/><rect x="985.6" y="1587.0" width="31.4" height="1.6" fill="#3464ac"/><rect x="985.6" y="1626.0" width="31.4" height="2.1" fill="#3464ac"/><rect x="985.6" y="1649.2" width="31.4" height="1.4" fill="#1e12b0"/><rect x="1017.0" y="1485.3" width="31.4" height="1.4" fill="#3464ac"/><rect x="1017.0" y="1510.3" width="31.4" height="1.2" fill="#2420b4"/><rect x="1017.0" y="1528.0" width="31.4" height="1.4" fill="#2420b4"/><rect x="1017.0" y="1537.7" width="31.4" height="2.1" fill="#2420b4"/><rect x="1017.0" y="1553.1" width="31.4" height="1.6" fill="#3464ac"/><rect x="1017.0" y="1557.2" width="31.4" height="2.1" fill="#2420b4"/><rect x="1017.0" y="1613.7" width="31.4" height="4.1" fill="#3464ac"/><rect x="1048.4" y="1523.9" width="31.4" height="2.1" fill="#3464ac"/><rect x="1048.4" y="1525.9" width="31.4" height="2.1" fill="#5a9b46"/><rect x="1048.4" y="1528.0" width="31.4" height="3.5" fill="#3464ac"/><rect x="1048.4" y="1557.2" width="31.4" height="2.1" fill="#2420b4"/><rect x="1048.4" y="1564.4" width="31.4" height="1.4" fill="#3464ac"/><rect x="1048.4" y="1581.8" width="31.4" height="3.1" fill="#2420b4"/><rect x="1048.4" y="1593.1" width="31.4" height="1.4" fill="#2420b4"/><rect x="1048.4" y="1617.8" width="31.4" height="2.1" fill="#2420b4"/><rect x="1048.4" y="1630.1" width="31.4" height="2.7" fill="#2a3eba"/><rect x="1048.4" y="1643.4" width="31.4" height="1.6" fill="#2420b4"/><rect x="1048.4" y="1649.2" width="31.4" height="1.4" fill="#2420b4"/><rect x="1048.4" y="1664.0" width="31.4" height="1.6" fill="#3464ac"/><rect x="1079.8" y="1475.0" width="31.4" height="3.1" fill="#2420b4"/><rect x="1079.8" y="1480.1" width="31.4" height="1.6" fill="#3464ac"/><rect x="1079.8" y="1497.2" width="31.4" height="1.4" fill="#3464ac"/><rect x="1079.8" y="1502.7" width="31.4" height="4.1" fill="#3464ac"/><rect x="1079.8" y="1506.8" width="31.4" height="3.1" fill="#6aaa28"/><rect x="1079.8" y="1512.0" width="31.4" height="10.3" fill="#3e7a94"/><rect x="1079.8" y="1523.9" width="31.4" height="1.6" fill="#3464ac"/><rect x="1079.8" y="1528.4" width="31.4" height="2.1" fill="#2420b4"/><rect x="1079.8" y="1539.1" width="31.4" height="1.6" fill="#2420b4"/><rect x="1079.8" y="1549.0" width="31.4" height="1.6" fill="#2420b4"/><rect x="1079.8" y="1554.1" width="31.4" height="7.2" fill="#2420b4"/><rect x="1079.8" y="1562.3" width="31.4" height="1.6" fill="#3464ac"/><rect x="1079.8" y="1569.9" width="31.4" height="2.7" fill="#9cc116"/><rect x="1079.8" y="1572.6" width="31.4" height="5.1" fill="#5a9b46"/><rect x="1079.8" y="1577.7" width="31.4" height="11.3" fill="#2e52b8"/><rect x="1079.8" y="1591.1" width="31.4" height="1.4" fill="#3464ac"/><rect x="1079.8" y="1601.3" width="31.4" height="1.4" fill="#3464ac"/><rect x="1079.8" y="1606.5" width="31.4" height="4.1" fill="#2420b4"/><rect x="1079.8" y="1614.3" width="31.4" height="1.6" fill="#2420b4"/><rect x="1079.8" y="1621.9" width="31.4" height="1.4" fill="#2420b4"/><rect x="1079.8" y="1627.4" width="31.4" height="2.7" fill="#2420b4"/><rect x="1079.8" y="1635.2" width="31.4" height="2.1" fill="#2420b4"/><rect x="1079.8" y="1638.9" width="31.4" height="1.6" fill="#3464ac"/><rect x="1079.8" y="1650.6" width="31.4" height="1.6" fill="#3464ac"/><rect x="1079.8" y="1657.8" width="31.4" height="1.6" fill="#3464ac"/><rect x="1111.2" y="1512.0" width="31.4" height="1.6" fill="#2420b4"/><rect x="1111.2" y="1528.0" width="31.4" height="1.4" fill="#2420b4"/><rect x="1111.2" y="1549.4" width="31.4" height="1.6" fill="#3464ac"/><rect x="1111.2" y="1557.2" width="31.4" height="1.6" fill="#2420b4"/><rect x="1111.2" y="1580.2" width="31.4" height="1.6" fill="#3464ac"/><rect x="1111.2" y="1593.1" width="31.4" height="1.4" fill="#2420b4"/><rect x="1111.2" y="1609.6" width="31.4" height="2.1" fill="#4c8c6c"/><rect x="1111.2" y="1611.6" width="31.4" height="2.1" fill="#3464ac"/><rect x="1111.2" y="1630.1" width="31.4" height="3.1" fill="#2420b4"/><rect x="1111.2" y="1635.2" width="31.4" height="1.6" fill="#2420b4"/><rect x="1111.2" y="1649.2" width="31.4" height="1.4" fill="#2420b4"/><rect x="1142.6" y="1475.0" width="31.4" height="1.0" fill="#3464ac"/><rect x="1142.6" y="1480.1" width="31.4" height="4.1" fill="#3464ac"/><rect x="1142.6" y="1484.2" width="31.4" height="3.1" fill="#3e7a94"/><rect x="1142.6" y="1487.3" width="31.4" height="3.1" fill="#4c8c6c"/><rect x="1142.6" y="1490.4" width="31.4" height="4.5" fill="#82b51e"/><rect x="1142.6" y="1494.9" width="31.4" height="9.9" fill="#3464ac"/><rect x="1142.6" y="1504.8" width="31.4" height="5.1" fill="#6aaa28"/><rect x="1142.6" y="1509.9" width="31.4" height="12.3" fill="#3464ac"/><rect x="1142.6" y="1522.2" width="31.4" height="2.1" fill="#6aaa28"/><rect x="1142.6" y="1524.3" width="31.4" height="5.1" fill="#3464ac"/><rect x="1142.6" y="1529.4" width="31.4" height="2.1" fill="#6aaa28"/><rect x="1142.6" y="1531.5" width="31.4" height="3.1" fill="#3464ac"/><rect x="1142.6" y="1534.6" width="31.4" height="4.5" fill="#6aaa28"/><rect x="1142.6" y="1539.1" width="31.4" height="3.7" fill="#3e7a94"/><rect x="1142.6" y="1542.8" width="31.4" height="14.4" fill="#82b51e"/><rect x="1142.6" y="1557.2" width="31.4" height="4.1" fill="#4c8c6c"/><rect x="1142.6" y="1561.3" width="31.4" height="6.2" fill="#bece1a"/><rect x="1142.6" y="1567.4" width="31.4" height="2.1" fill="#faf6af"/><rect x="1142.6" y="1573.6" width="31.4" height="2.1" fill="#2420b4"/><rect x="1142.6" y="1589.0" width="31.4" height="6.2" fill="#3464ac"/><rect x="1142.6" y="1595.2" width="31.4" height="1.6" fill="#6aaa28"/><rect x="1142.6" y="1608.1" width="31.4" height="1.6" fill="#3464ac"/><rect x="1142.6" y="1614.3" width="31.4" height="1.4" fill="#1e12b0"/><rect x="1142.6" y="1630.1" width="31.4" height="2.7" fill="#2420b4"/><rect x="1142.6" y="1645.1" width="31.4" height="1.4" fill="#3464ac"/><rect x="1142.6" y="1659.9" width="31.4" height="1.6" fill="#1e12b0"/><rect x="1174.0" y="1509.9" width="31.4" height="1.6" fill="#1e12b0"/><rect x="1205.4" y="1493.1" width="31.4" height="6.2" fill="#3464ac"/><rect x="1205.4" y="1499.2" width="31.4" height="1.6" fill="#6aaa28"/><rect x="1205.4" y="1597.2" width="31.4" height="2.1" fill="#3464ac"/><rect x="1205.4" y="1599.3" width="31.4" height="2.1" fill="#4c8c6c"/><rect x="1205.4" y="1601.3" width="31.4" height="3.5" fill="#3464ac"/><rect x="1205.4" y="1604.8" width="31.4" height="2.7" fill="#4c8c6c"/><rect x="1205.4" y="1607.5" width="31.4" height="2.1" fill="#3464ac"/><rect x="1205.4" y="1621.9" width="31.4" height="1.4" fill="#2420b4"/><rect x="1205.4" y="1628.0" width="31.4" height="1.4" fill="#3464ac"/><rect x="1205.4" y="1643.0" width="31.4" height="1.4" fill="#2420b4"/><rect x="1236.8" y="1512.0" width="31.4" height="1.6" fill="#2420b4"/><rect x="1236.8" y="1546.9" width="31.4" height="1.6" fill="#3464ac"/><rect x="1236.8" y="1557.2" width="31.4" height="1.6" fill="#1e12b0"/><rect x="1268.2" y="1512.0" width="31.4" height="1.2" fill="#2420b4"/><rect x="1268.2" y="1537.0" width="31.4" height="3.7" fill="#3e7a94"/><rect x="1268.2" y="1580.8" width="31.4" height="3.1" fill="#2420b4"/><rect x="1268.2" y="1634.8" width="31.4" height="1.6" fill="#3464ac"/><rect x="1268.2" y="1659.9" width="31.4" height="1.6" fill="#2420b4"/><rect x="1299.6" y="1495.1" width="31.4" height="1.4" fill="#2420b4"/><rect x="1299.6" y="1557.2" width="31.4" height="1.6" fill="#1e12b0"/><rect x="1299.6" y="1604.8" width="31.4" height="2.7" fill="#2420b4"/><rect x="1299.6" y="1638.9" width="31.4" height="7.6" fill="#3464ac"/><rect x="1299.6" y="1661.9" width="31.4" height="1.6" fill="#3464ac"/><rect x="1331.0" y="1582.8" width="31.4" height="1.4" fill="#2420b4"/><rect x="1331.0" y="1602.8" width="31.4" height="2.1" fill="#2420b4"/><rect x="1331.0" y="1621.9" width="31.4" height="4.1" fill="#3464ac"/><rect x="1331.0" y="1630.1" width="31.4" height="2.7" fill="#2420b4"/><rect x="1362.4" y="1482.2" width="31.4" height="2.1" fill="#2420b4"/><rect x="1362.4" y="1526.4" width="31.4" height="3.1" fill="#2420b4"/><rect x="1362.4" y="1532.5" width="31.4" height="2.1" fill="#2420b4"/><rect x="1362.4" y="1557.2" width="31.4" height="2.1" fill="#2420b4"/><rect x="1362.4" y="1569.9" width="31.4" height="3.7" fill="#3464ac"/><rect x="1362.4" y="1573.6" width="31.4" height="2.1" fill="#2e52b8"/><rect x="1362.4" y="1575.7" width="31.4" height="4.1" fill="#6aaa28"/><rect x="1362.4" y="1579.8" width="31.4" height="8.2" fill="#3464ac"/><rect x="1362.4" y="1588.0" width="31.4" height="2.5" fill="#6aaa28"/><rect x="1362.4" y="1590.4" width="31.4" height="5.8" fill="#3464ac"/><rect x="1362.4" y="1596.2" width="31.4" height="4.5" fill="#9cc116"/><rect x="1362.4" y="1600.7" width="31.4" height="10.9" fill="#2e52b8"/><rect x="1362.4" y="1611.6" width="31.4" height="2.1" fill="#6aaa28"/><rect x="1362.4" y="1613.7" width="31.4" height="2.1" fill="#3464ac"/><rect x="1362.4" y="1615.7" width="31.4" height="3.1" fill="#6aaa28"/><rect x="1362.4" y="1618.8" width="31.4" height="2.5" fill="#3464ac"/><rect x="1362.4" y="1621.3" width="31.4" height="1.6" fill="#6aaa28"/><rect x="1362.4" y="1622.9" width="31.4" height="9.2" fill="#4c8c6c"/><rect x="1362.4" y="1632.1" width="31.4" height="3.1" fill="#6aaa28"/><rect x="1362.4" y="1635.2" width="31.4" height="8.2" fill="#4c8c6c"/><rect x="1362.4" y="1643.4" width="31.4" height="3.1" fill="#3464ac"/><rect x="1362.4" y="1646.5" width="31.4" height="2.7" fill="#6aaa28"/><rect x="1362.4" y="1649.2" width="31.4" height="5.5" fill="#3464ac"/><rect x="1362.4" y="1654.7" width="31.4" height="5.1" fill="#9cc116"/><rect x="1362.4" y="1659.9" width="31.4" height="7.2" fill="#bece1a"/><rect x="1362.4" y="1667.1" width="31.4" height="2.7" fill="#faf6af"/><rect x="1393.8" y="1512.0" width="31.4" height="1.6" fill="#1e12b0"/><rect x="1393.8" y="1528.4" width="31.4" height="1.0" fill="#1e12b0"/><rect x="1425.2" y="1475.0" width="31.4" height="3.1" fill="#9cc116"/><rect x="1425.2" y="1478.1" width="31.4" height="1.4" fill="#e2de2e"/><rect x="1425.2" y="1532.1" width="31.4" height="4.5" fill="#3464ac"/><rect x="1456.6" y="1480.1" width="31.4" height="5.1" fill="#3464ac"/><rect x="1456.6" y="1485.3" width="31.4" height="3.1" fill="#4c8c6c"/><rect x="1456.6" y="1488.4" width="31.4" height="4.7" fill="#3464ac"/><rect x="1456.6" y="1509.9" width="31.4" height="1.6" fill="#1e12b0"/><rect x="1456.6" y="1532.5" width="31.4" height="2.1" fill="#2420b4"/><rect x="1456.6" y="1538.7" width="31.4" height="1.6" fill="#1e12b0"/><rect x="1456.6" y="1593.1" width="31.4" height="1.4" fill="#1e12b0"/><rect x="1456.6" y="1635.2" width="31.4" height="1.6" fill="#2420b4"/><rect x="1456.6" y="1655.4" width="31.4" height="2.5" fill="#3464ac"/><rect x="860" y="934.6" width="628" height="56.5" fill="rgb(150,170,255)" fill-opacity="0.2" style="mix-blend-mode:screen"/><rect x="859.7" y="934.3" width="628.6" height="56.8" fill="none" stroke="#000" stroke-width="1.6"/><rect x="834" y="628" width="19.8" height="1041.8" fill="#1b14af"/><path d="M814.5 629.5H822.5M814.5 631.5H822.5M814.5 629.5V631.5M807.5 630.5H814.5M811.5 633.5H822.5M811.5 635.5H822.5M811.5 633.5V635.5M807.5 634.5H811.5M807.5 630.5V634.5M801.5 632.5H807.5M813.5 637.5H822.5M813.5 639.5H822.5M813.5 637.5V639.5M809.5 638.5H813.5M818.5 641.5H822.5M818.5 643.5H822.5M818.5 641.5V643.5M816.5 642.5H818.5M816.5 645.5H822.5M816.5 642.5V645.5M813.5 644.5H816.5M813.5 647.5H822.5M813.5 644.5V647.5M809.5 645.5H813.5M809.5 638.5V645.5M801.5 642.5H809.5M801.5 632.5V642.5M742.5 637.5H801.5M808.5 649.5H822.5M816.5 651.5H822.5M816.5 654.5H822.5M816.5 651.5V654.5M813.5 653.5H816.5M813.5 656.5H822.5M813.5 653.5V656.5M808.5 654.5H813.5M808.5 649.5V654.5M800.5 652.5H808.5M812.5 658.5H822.5M812.5 660.5H822.5M812.5 658.5V660.5M800.5 659.5H812.5M800.5 652.5V659.5M791.5 655.5H800.5M812.5 662.5H822.5M812.5 664.5H822.5M812.5 662.5V664.5M802.5 663.5H812.5M802.5 666.5H822.5M802.5 663.5V666.5M791.5 664.5H802.5M791.5 655.5V664.5M765.5 660.5H791.5M812.5 668.5H822.5M812.5 670.5H822.5M812.5 668.5V670.5M801.5 669.5H812.5M813.5 672.5H822.5M813.5 674.5H822.5M813.5 672.5V674.5M810.5 673.5H813.5M810.5 676.5H822.5M810.5 673.5V676.5M801.5 675.5H810.5M801.5 669.5V675.5M772.5 672.5H801.5M814.5 679.5H822.5M814.5 681.5H822.5M814.5 679.5V681.5M801.5 680.5H814.5M814.5 683.5H822.5M814.5 685.5H822.5M814.5 683.5V685.5M808.5 684.5H814.5M813.5 687.5H822.5M813.5 689.5H822.5M813.5 687.5V689.5M808.5 688.5H813.5M808.5 684.5V688.5M801.5 686.5H808.5M801.5 680.5V686.5M775.5 683.5H801.5M818.5 691.5H822.5M818.5 693.5H822.5M818.5 691.5V693.5M813.5 692.5H818.5M813.5 695.5H822.5M813.5 692.5V695.5M807.5 694.5H813.5M816.5 697.5H822.5M816.5 699.5H822.5M816.5 697.5V699.5M814.5 698.5H816.5M814.5 701.5H822.5M814.5 698.5V701.5M807.5 700.5H814.5M807.5 694.5V700.5M781.5 697.5H807.5M816.5 704.5H822.5M816.5 706.5H822.5M816.5 704.5V706.5M811.5 705.5H816.5M811.5 708.5H822.5M811.5 705.5V708.5M802.5 706.5H811.5M802.5 710.5H822.5M802.5 706.5V710.5M784.5 708.5H802.5M811.5 712.5H822.5M817.5 714.5H822.5M817.5 716.5H822.5M817.5 714.5V716.5M811.5 715.5H817.5M811.5 712.5V715.5M802.5 713.5H811.5M807.5 718.5H822.5M807.5 720.5H822.5M807.5 718.5V720.5M802.5 719.5H807.5M802.5 713.5V719.5M798.5 716.5H802.5M812.5 722.5H822.5M812.5 724.5H822.5M812.5 722.5V724.5M809.5 723.5H812.5M814.5 726.5H822.5M814.5 729.5H822.5M814.5 726.5V729.5M809.5 728.5H814.5M809.5 723.5V728.5M807.5 725.5H809.5M816.5 731.5H822.5M816.5 733.5H822.5M816.5 731.5V733.5M807.5 732.5H816.5M807.5 725.5V732.5M798.5 729.5H807.5M798.5 716.5V729.5M788.5 722.5H798.5M810.5 735.5H822.5M810.5 737.5H822.5M810.5 735.5V737.5M806.5 736.5H810.5M806.5 739.5H822.5M806.5 736.5V739.5M803.5 737.5H806.5M812.5 741.5H822.5M812.5 743.5H822.5M812.5 741.5V743.5M808.5 742.5H812.5M816.5 745.5H822.5M816.5 747.5H822.5M816.5 745.5V747.5M808.5 746.5H816.5M808.5 742.5V746.5M803.5 744.5H808.5M803.5 737.5V744.5M788.5 741.5H803.5M788.5 722.5V741.5M784.5 732.5H788.5M784.5 708.5V732.5M781.5 720.5H784.5M781.5 697.5V720.5M775.5 708.5H781.5M775.5 683.5V708.5M772.5 696.5H775.5M772.5 672.5V696.5M765.5 684.5H772.5M765.5 660.5V684.5M742.5 672.5H765.5M742.5 637.5V672.5M622.5 654.5H742.5M811.5 749.5H822.5M811.5 751.5H822.5M811.5 749.5V751.5M804.5 750.5H811.5M815.5 754.5H822.5M815.5 756.5H822.5M815.5 754.5V756.5M810.5 755.5H815.5M810.5 758.5H822.5M810.5 755.5V758.5M804.5 756.5H810.5M804.5 750.5V756.5M791.5 753.5H804.5M809.5 760.5H822.5M809.5 762.5H822.5M809.5 760.5V762.5M791.5 761.5H809.5M791.5 753.5V761.5M758.5 757.5H791.5M813.5 764.5H822.5M813.5 766.5H822.5M813.5 764.5V766.5M804.5 765.5H813.5M810.5 768.5H822.5M810.5 770.5H822.5M810.5 768.5V770.5M804.5 769.5H810.5M804.5 765.5V769.5M776.5 767.5H804.5M808.5 772.5H822.5M808.5 774.5H822.5M808.5 772.5V774.5M804.5 773.5H808.5M804.5 776.5H822.5M804.5 773.5V776.5M798.5 775.5H804.5M813.5 779.5H822.5M813.5 781.5H822.5M813.5 779.5V781.5M806.5 780.5H813.5M817.5 783.5H822.5M817.5 785.5H822.5M817.5 783.5V785.5M812.5 784.5H817.5M814.5 787.5H822.5M814.5 789.5H822.5M814.5 787.5V789.5M812.5 788.5H814.5M812.5 784.5V788.5M806.5 786.5H812.5M806.5 780.5V786.5M798.5 783.5H806.5M798.5 775.5V783.5M788.5 779.5H798.5M812.5 791.5H822.5M812.5 793.5H822.5M812.5 791.5V793.5M804.5 792.5H812.5M809.5 795.5H822.5M813.5 797.5H822.5M813.5 799.5H822.5M813.5 797.5V799.5M809.5 798.5H813.5M809.5 795.5V798.5M804.5 797.5H809.5M804.5 792.5V797.5M800.5 794.5H804.5M805.5 801.5H822.5M814.5 804.5H822.5M814.5 806.5H822.5M814.5 804.5V806.5M805.5 805.5H814.5M805.5 801.5V805.5M800.5 803.5H805.5M800.5 794.5V803.5M788.5 799.5H800.5M788.5 779.5V799.5M785.5 789.5H788.5M807.5 808.5H822.5M807.5 810.5H822.5M807.5 808.5V810.5M801.5 809.5H807.5M805.5 812.5H822.5M812.5 814.5H822.5M812.5 816.5H822.5M812.5 814.5V816.5M805.5 815.5H812.5M805.5 812.5V815.5M801.5 813.5H805.5M801.5 809.5V813.5M789.5 811.5H801.5M804.5 818.5H822.5M804.5 820.5H822.5M804.5 818.5V820.5M794.5 819.5H804.5M807.5 822.5H822.5M807.5 824.5H822.5M807.5 822.5V824.5M802.5 823.5H807.5M802.5 826.5H822.5M802.5 823.5V826.5M794.5 825.5H802.5M794.5 819.5V825.5M789.5 822.5H794.5M789.5 811.5V822.5M785.5 817.5H789.5M785.5 789.5V817.5M776.5 803.5H785.5M776.5 767.5V803.5M758.5 785.5H776.5M758.5 757.5V785.5M669.5 771.5H758.5M810.5 829.5H822.5M814.5 831.5H822.5M814.5 833.5H822.5M814.5 831.5V833.5M810.5 832.5H814.5M810.5 829.5V832.5M802.5 830.5H810.5M810.5 835.5H822.5M810.5 837.5H822.5M810.5 835.5V837.5M802.5 836.5H810.5M802.5 830.5V836.5M764.5 833.5H802.5M815.5 839.5H822.5M815.5 841.5H822.5M815.5 839.5V841.5M810.5 840.5H815.5M814.5 843.5H822.5M814.5 845.5H822.5M814.5 843.5V845.5M810.5 844.5H814.5M810.5 840.5V844.5M805.5 842.5H810.5M810.5 847.5H822.5M810.5 849.5H822.5M810.5 847.5V849.5M805.5 848.5H810.5M805.5 842.5V848.5M800.5 845.5H805.5M812.5 851.5H822.5M818.5 854.5H822.5M818.5 856.5H822.5M818.5 854.5V856.5M812.5 855.5H818.5M812.5 851.5V855.5M810.5 853.5H812.5M817.5 858.5H822.5M817.5 860.5H822.5M817.5 858.5V860.5M810.5 859.5H817.5M810.5 853.5V859.5M806.5 856.5H810.5M818.5 862.5H822.5M818.5 864.5H822.5M818.5 862.5V864.5M815.5 863.5H818.5M815.5 866.5H822.5M815.5 863.5V866.5M813.5 865.5H815.5M817.5 868.5H822.5M817.5 870.5H822.5M817.5 868.5V870.5M813.5 869.5H817.5M813.5 865.5V869.5M806.5 867.5H813.5M806.5 856.5V867.5M800.5 861.5H806.5M800.5 845.5V861.5M785.5 853.5H800.5M805.5 872.5H822.5M805.5 874.5H822.5M805.5 872.5V874.5M798.5 873.5H805.5M803.5 876.5H822.5M803.5 879.5H822.5M803.5 876.5V879.5M798.5 878.5H803.5M798.5 873.5V878.5M794.5 875.5H798.5M816.5 881.5H822.5M816.5 883.5H822.5M816.5 881.5V883.5M811.5 882.5H816.5M811.5 885.5H822.5M811.5 882.5V885.5M804.5 883.5H811.5M813.5 887.5H822.5M813.5 889.5H822.5M813.5 887.5V889.5M804.5 888.5H813.5M804.5 883.5V888.5M794.5 886.5H804.5M794.5 875.5V886.5M785.5 881.5H794.5M785.5 853.5V881.5M777.5 867.5H785.5M813.5 891.5H822.5M813.5 893.5H822.5M813.5 891.5V893.5M805.5 892.5H813.5M811.5 895.5H822.5M811.5 897.5H822.5M811.5 895.5V897.5M805.5 896.5H811.5M805.5 892.5V896.5M777.5 894.5H805.5M777.5 867.5V894.5M764.5 881.5H777.5M764.5 833.5V881.5M704.5 857.5H764.5M810.5 899.5H822.5M810.5 901.5H822.5M810.5 899.5V901.5M795.5 900.5H810.5M810.5 904.5H822.5M810.5 906.5H822.5M810.5 904.5V906.5M805.5 905.5H810.5M814.5 908.5H822.5M814.5 910.5H822.5M814.5 908.5V910.5M805.5 909.5H814.5M805.5 905.5V909.5M795.5 907.5H805.5M795.5 900.5V907.5M787.5 904.5H795.5M812.5 912.5H822.5M812.5 914.5H822.5M812.5 912.5V914.5M809.5 913.5H812.5M809.5 916.5H822.5M809.5 913.5V916.5M800.5 915.5H809.5M812.5 918.5H822.5M812.5 920.5H822.5M812.5 918.5V920.5M800.5 919.5H812.5M800.5 915.5V919.5M787.5 917.5H800.5M787.5 904.5V917.5M764.5 910.5H787.5M803.5 922.5H822.5M803.5 924.5H822.5M803.5 922.5V924.5M795.5 923.5H803.5M812.5 926.5H822.5M812.5 929.5H822.5M812.5 926.5V929.5M802.5 928.5H812.5M806.5 931.5H822.5M806.5 933.5H822.5M806.5 931.5V933.5M802.5 932.5H806.5M802.5 928.5V932.5M795.5 930.5H802.5M795.5 923.5V930.5M764.5 926.5H795.5M764.5 910.5V926.5M704.5 918.5H764.5M704.5 857.5V918.5M669.5 888.5H704.5M669.5 771.5V888.5M653.5 829.5H669.5M804.5 935.5H822.5M815.5 937.5H822.5M815.5 939.5H822.5M815.5 937.5V939.5M806.5 938.5H815.5M806.5 941.5H822.5M806.5 938.5V941.5M804.5 940.5H806.5M804.5 935.5V940.5M780.5 937.5H804.5M812.5 943.5H822.5M812.5 945.5H822.5M812.5 943.5V945.5M805.5 944.5H812.5M805.5 947.5H822.5M805.5 944.5V947.5M799.5 946.5H805.5M808.5 949.5H822.5M808.5 951.5H822.5M808.5 949.5V951.5M804.5 950.5H808.5M813.5 954.5H822.5M813.5 956.5H822.5M813.5 954.5V956.5M804.5 955.5H813.5M804.5 950.5V955.5M799.5 953.5H804.5M799.5 946.5V953.5M793.5 949.5H799.5M806.5 958.5H822.5M806.5 960.5H822.5M806.5 958.5V960.5M797.5 959.5H806.5M815.5 962.5H822.5M815.5 964.5H822.5M815.5 962.5V964.5M807.5 963.5H815.5M813.5 966.5H822.5M813.5 968.5H822.5M813.5 966.5V968.5M807.5 967.5H813.5M807.5 963.5V967.5M797.5 965.5H807.5M797.5 959.5V965.5M793.5 962.5H797.5M793.5 949.5V962.5M780.5 956.5H793.5M780.5 937.5V956.5M763.5 946.5H780.5M796.5 970.5H822.5M809.5 972.5H822.5M809.5 974.5H822.5M809.5 972.5V974.5M796.5 973.5H809.5M796.5 970.5V973.5M782.5 972.5H796.5M806.5 977.5H822.5M806.5 979.5H822.5M806.5 977.5V979.5M790.5 978.5H806.5M802.5 981.5H822.5M802.5 983.5H822.5M802.5 981.5V983.5M790.5 982.5H802.5M790.5 978.5V982.5M782.5 980.5H790.5M782.5 972.5V980.5M778.5 976.5H782.5M814.5 985.5H822.5M814.5 987.5H822.5M814.5 985.5V987.5M803.5 986.5H814.5M803.5 989.5H822.5M803.5 986.5V989.5M778.5 987.5H803.5M778.5 976.5V987.5M763.5 982.5H778.5M763.5 946.5V982.5M660.5 964.5H763.5M810.5 991.5H822.5M815.5 993.5H822.5M815.5 995.5H822.5M815.5 993.5V995.5M810.5 994.5H815.5M810.5 991.5V994.5M803.5 993.5H810.5M803.5 997.5H822.5M803.5 993.5V997.5M776.5 995.5H803.5M817.5 999.5H822.5M817.5 1002.5H822.5M817.5 999.5V1002.5M815.5 1000.5H817.5M815.5 1004.5H822.5M815.5 1000.5V1004.5M810.5 1002.5H815.5M812.5 1006.5H822.5M817.5 1008.5H822.5M817.5 1010.5H822.5M817.5 1008.5V1010.5M812.5 1009.5H817.5M812.5 1006.5V1009.5M810.5 1007.5H812.5M810.5 1002.5V1007.5M803.5 1005.5H810.5M806.5 1012.5H822.5M815.5 1014.5H822.5M815.5 1016.5H822.5M815.5 1014.5V1016.5M806.5 1015.5H815.5M806.5 1012.5V1015.5M803.5 1013.5H806.5M803.5 1005.5V1013.5M793.5 1009.5H803.5M816.5 1018.5H822.5M816.5 1020.5H822.5M816.5 1018.5V1020.5M808.5 1019.5H816.5M808.5 1022.5H822.5M808.5 1019.5V1022.5M801.5 1021.5H808.5M801.5 1024.5H822.5M801.5 1021.5V1024.5M796.5 1023.5H801.5M810.5 1027.5H822.5M810.5 1029.5H822.5M810.5 1027.5V1029.5M796.5 1028.5H810.5M796.5 1023.5V1028.5M793.5 1025.5H796.5M793.5 1009.5V1025.5M783.5 1017.5H793.5M813.5 1031.5H822.5M813.5 1033.5H822.5M813.5 1031.5V1033.5M810.5 1032.5H813.5M817.5 1035.5H822.5M817.5 1037.5H822.5M817.5 1035.5V1037.5M810.5 1036.5H817.5M810.5 1032.5V1036.5M805.5 1034.5H810.5M811.5 1039.5H822.5M811.5 1041.5H822.5M811.5 1039.5V1041.5M805.5 1040.5H811.5M805.5 1034.5V1040.5M783.5 1037.5H805.5M783.5 1017.5V1037.5M776.5 1027.5H783.5M776.5 995.5V1027.5M707.5 1011.5H776.5M807.5 1043.5H822.5M812.5 1045.5H822.5M812.5 1047.5H822.5M812.5 1045.5V1047.5M807.5 1046.5H812.5M807.5 1043.5V1046.5M804.5 1045.5H807.5M804.5 1049.5H822.5M804.5 1045.5V1049.5M785.5 1047.5H804.5M810.5 1052.5H822.5M810.5 1054.5H822.5M810.5 1052.5V1054.5M803.5 1053.5H810.5M811.5 1056.5H822.5M811.5 1058.5H822.5M811.5 1056.5V1058.5M803.5 1057.5H811.5M803.5 1053.5V1057.5M796.5 1055.5H803.5M808.5 1060.5H822.5M808.5 1062.5H822.5M808.5 1060.5V1062.5M803.5 1061.5H808.5M813.5 1064.5H822.5M813.5 1066.5H822.5M813.5 1064.5V1066.5M803.5 1065.5H813.5M803.5 1061.5V1065.5M796.5 1063.5H803.5M796.5 1055.5V1063.5M788.5 1059.5H796.5M809.5 1068.5H822.5M809.5 1070.5H822.5M809.5 1068.5V1070.5M798.5 1069.5H809.5M802.5 1072.5H822.5M812.5 1074.5H822.5M812.5 1077.5H822.5M812.5 1074.5V1077.5M802.5 1075.5H812.5M802.5 1072.5V1075.5M798.5 1074.5H802.5M798.5 1069.5V1074.5M788.5 1072.5H798.5M788.5 1059.5V1072.5M785.5 1065.5H788.5M785.5 1047.5V1065.5M723.5 1056.5H785.5M807.5 1079.5H822.5M807.5 1081.5H822.5M807.5 1079.5V1081.5M801.5 1080.5H807.5M807.5 1083.5H822.5M807.5 1085.5H822.5M807.5 1083.5V1085.5M801.5 1084.5H807.5M801.5 1080.5V1084.5M793.5 1082.5H801.5M800.5 1087.5H822.5M811.5 1089.5H822.5M811.5 1091.5H822.5M811.5 1089.5V1091.5M800.5 1090.5H811.5M800.5 1087.5V1090.5M793.5 1088.5H800.5M793.5 1082.5V1088.5M749.5 1085.5H793.5M812.5 1093.5H822.5M812.5 1095.5H822.5M812.5 1093.5V1095.5M799.5 1094.5H812.5M804.5 1097.5H822.5M808.5 1099.5H822.5M808.5 1102.5H822.5M808.5 1099.5V1102.5M804.5 1100.5H808.5M804.5 1097.5V1100.5M799.5 1099.5H804.5M799.5 1094.5V1099.5M787.5 1097.5H799.5M802.5 1104.5H822.5M812.5 1106.5H822.5M812.5 1108.5H822.5M812.5 1106.5V1108.5M802.5 1107.5H812.5M802.5 1104.5V1107.5M795.5 1105.5H802.5M814.5 1110.5H822.5M814.5 1112.5H822.5M814.5 1110.5V1112.5M808.5 1111.5H814.5M815.5 1114.5H822.5M815.5 1116.5H822.5M815.5 1114.5V1116.5M808.5 1115.5H815.5M808.5 1111.5V1115.5M795.5 1113.5H808.5M795.5 1105.5V1113.5M787.5 1109.5H795.5M787.5 1097.5V1109.5M772.5 1103.5H787.5M815.5 1118.5H822.5M815.5 1120.5H822.5M815.5 1118.5V1120.5M807.5 1119.5H815.5M812.5 1122.5H822.5M815.5 1124.5H822.5M815.5 1127.5H822.5M815.5 1124.5V1127.5M812.5 1125.5H815.5M812.5 1122.5V1125.5M807.5 1124.5H812.5M807.5 1119.5V1124.5M797.5 1122.5H807.5M815.5 1129.5H822.5M815.5 1131.5H822.5M815.5 1129.5V1131.5M806.5 1130.5H815.5M806.5 1133.5H822.5M806.5 1130.5V1133.5M797.5 1131.5H806.5M797.5 1122.5V1131.5M788.5 1126.5H797.5M812.5 1135.5H822.5M812.5 1137.5H822.5M812.5 1135.5V1137.5M799.5 1136.5H812.5M799.5 1139.5H822.5M799.5 1136.5V1139.5M794.5 1137.5H799.5M805.5 1141.5H822.5M813.5 1143.5H822.5M813.5 1145.5H822.5M813.5 1143.5V1145.5M805.5 1144.5H813.5M805.5 1141.5V1144.5M800.5 1143.5H805.5M800.5 1147.5H822.5M800.5 1143.5V1147.5M794.5 1145.5H800.5M794.5 1137.5V1145.5M788.5 1141.5H794.5M788.5 1126.5V1141.5M772.5 1134.5H788.5M772.5 1103.5V1134.5M749.5 1118.5H772.5M749.5 1085.5V1118.5M730.5 1102.5H749.5M806.5 1149.5H822.5M812.5 1152.5H822.5M812.5 1154.5H822.5M812.5 1152.5V1154.5M806.5 1153.5H812.5M806.5 1149.5V1153.5M795.5 1151.5H806.5M810.5 1156.5H822.5M810.5 1158.5H822.5M810.5 1156.5V1158.5M804.5 1157.5H810.5M809.5 1160.5H822.5M815.5 1162.5H822.5M815.5 1164.5H822.5M815.5 1162.5V1164.5M809.5 1163.5H815.5M809.5 1160.5V1163.5M804.5 1161.5H809.5M804.5 1157.5V1161.5M795.5 1159.5H804.5M795.5 1151.5V1159.5M760.5 1155.5H795.5M800.5 1166.5H822.5M809.5 1168.5H822.5M809.5 1170.5H822.5M809.5 1168.5V1170.5M805.5 1169.5H809.5M805.5 1172.5H822.5M805.5 1169.5V1172.5M800.5 1171.5H805.5M800.5 1166.5V1171.5M791.5 1168.5H800.5M804.5 1174.5H822.5M812.5 1177.5H822.5M817.5 1179.5H822.5M817.5 1181.5H822.5M817.5 1179.5V1181.5M812.5 1180.5H817.5M812.5 1177.5V1180.5M804.5 1178.5H812.5M804.5 1174.5V1178.5M791.5 1176.5H804.5M791.5 1168.5V1176.5M760.5 1172.5H791.5M760.5 1155.5V1172.5M748.5 1164.5H760.5M808.5 1183.5H822.5M815.5 1185.5H822.5M815.5 1187.5H822.5M815.5 1185.5V1187.5M808.5 1186.5H815.5M808.5 1183.5V1186.5M799.5 1184.5H808.5M810.5 1189.5H822.5M810.5 1191.5H822.5M810.5 1189.5V1191.5M799.5 1190.5H810.5M799.5 1184.5V1190.5M787.5 1187.5H799.5M810.5 1193.5H822.5M810.5 1195.5H822.5M810.5 1193.5V1195.5M800.5 1194.5H810.5M800.5 1197.5H822.5M800.5 1194.5V1197.5M792.5 1196.5H800.5M809.5 1199.5H822.5M809.5 1202.5H822.5M809.5 1199.5V1202.5M798.5 1200.5H809.5M798.5 1204.5H822.5M798.5 1200.5V1204.5M792.5 1202.5H798.5M792.5 1196.5V1202.5M787.5 1199.5H792.5M787.5 1187.5V1199.5M757.5 1193.5H787.5M813.5 1206.5H822.5M813.5 1208.5H822.5M813.5 1206.5V1208.5M801.5 1207.5H813.5M816.5 1210.5H822.5M816.5 1212.5H822.5M816.5 1210.5V1212.5M811.5 1211.5H816.5M811.5 1214.5H822.5M811.5 1211.5V1214.5M806.5 1212.5H811.5M811.5 1216.5H822.5M811.5 1218.5H822.5M811.5 1216.5V1218.5M806.5 1217.5H811.5M806.5 1212.5V1217.5M801.5 1215.5H806.5M801.5 1207.5V1215.5M790.5 1211.5H801.5M809.5 1220.5H822.5M809.5 1222.5H822.5M809.5 1220.5V1222.5M795.5 1221.5H809.5M808.5 1224.5H822.5M808.5 1227.5H822.5M808.5 1224.5V1227.5M795.5 1225.5H808.5M795.5 1221.5V1225.5M790.5 1223.5H795.5M790.5 1211.5V1223.5M757.5 1217.5H790.5M757.5 1193.5V1217.5M748.5 1205.5H757.5M748.5 1164.5V1205.5M730.5 1184.5H748.5M730.5 1102.5V1184.5M723.5 1143.5H730.5M723.5 1056.5V1143.5M718.5 1100.5H723.5M812.5 1229.5H822.5M812.5 1231.5H822.5M812.5 1229.5V1231.5M806.5 1230.5H812.5M806.5 1233.5H822.5M806.5 1230.5V1233.5M802.5 1231.5H806.5M809.5 1235.5H822.5M809.5 1237.5H822.5M809.5 1235.5V1237.5M802.5 1236.5H809.5M802.5 1231.5V1236.5M799.5 1234.5H802.5M811.5 1239.5H822.5M811.5 1241.5H822.5M811.5 1239.5V1241.5M799.5 1240.5H811.5M799.5 1234.5V1240.5M791.5 1237.5H799.5M807.5 1243.5H822.5M811.5 1245.5H822.5M811.5 1247.5H822.5M811.5 1245.5V1247.5M807.5 1246.5H811.5M807.5 1243.5V1246.5M803.5 1245.5H807.5M814.5 1249.5H822.5M814.5 1252.5H822.5M814.5 1249.5V1252.5M810.5 1250.5H814.5M818.5 1254.5H822.5M818.5 1256.5H822.5M818.5 1254.5V1256.5M817.5 1255.5H818.5M817.5 1258.5H822.5M817.5 1255.5V1258.5M815.5 1256.5H817.5M815.5 1260.5H822.5M815.5 1256.5V1260.5M810.5 1258.5H815.5M810.5 1250.5V1258.5M803.5 1254.5H810.5M803.5 1245.5V1254.5M791.5 1250.5H803.5M791.5 1237.5V1250.5M781.5 1243.5H791.5M805.5 1262.5H822.5M812.5 1264.5H822.5M812.5 1266.5H822.5M812.5 1264.5V1266.5M805.5 1265.5H812.5M805.5 1262.5V1265.5M781.5 1264.5H805.5M781.5 1243.5V1264.5M718.5 1253.5H781.5M718.5 1100.5V1253.5M707.5 1176.5H718.5M707.5 1011.5V1176.5M701.5 1094.5H707.5M810.5 1268.5H822.5M810.5 1270.5H822.5M810.5 1268.5V1270.5M805.5 1269.5H810.5M808.5 1272.5H822.5M808.5 1274.5H822.5M808.5 1272.5V1274.5M805.5 1273.5H808.5M805.5 1269.5V1273.5M781.5 1271.5H805.5M817.5 1277.5H822.5M817.5 1279.5H822.5M817.5 1277.5V1279.5M812.5 1278.5H817.5M812.5 1281.5H822.5M812.5 1278.5V1281.5M807.5 1279.5H812.5M815.5 1283.5H822.5M815.5 1285.5H822.5M815.5 1283.5V1285.5M807.5 1284.5H815.5M807.5 1279.5V1284.5M801.5 1281.5H807.5M815.5 1287.5H822.5M815.5 1289.5H822.5M815.5 1287.5V1289.5M809.5 1288.5H815.5M815.5 1291.5H822.5M815.5 1293.5H822.5M815.5 1291.5V1293.5M809.5 1292.5H815.5M809.5 1288.5V1292.5M808.5 1290.5H809.5M812.5 1295.5H822.5M812.5 1297.5H822.5M812.5 1295.5V1297.5M808.5 1296.5H812.5M808.5 1290.5V1296.5M801.5 1293.5H808.5M801.5 1281.5V1293.5M784.5 1287.5H801.5M800.5 1299.5H822.5M810.5 1302.5H822.5M810.5 1304.5H822.5M810.5 1302.5V1304.5M800.5 1303.5H810.5M800.5 1299.5V1303.5M789.5 1301.5H800.5M803.5 1306.5H822.5M813.5 1308.5H822.5M813.5 1310.5H822.5M813.5 1308.5V1310.5M803.5 1309.5H813.5M803.5 1306.5V1309.5M789.5 1307.5H803.5M789.5 1301.5V1307.5M784.5 1304.5H789.5M784.5 1287.5V1304.5M781.5 1296.5H784.5M781.5 1271.5V1296.5M701.5 1284.5H781.5M701.5 1094.5V1284.5M689.5 1189.5H701.5M812.5 1312.5H822.5M812.5 1314.5H822.5M812.5 1312.5V1314.5M799.5 1313.5H812.5M799.5 1316.5H822.5M799.5 1313.5V1316.5M795.5 1315.5H799.5M810.5 1318.5H822.5M810.5 1320.5H822.5M810.5 1318.5V1320.5M806.5 1319.5H810.5M813.5 1322.5H822.5M813.5 1324.5H822.5M813.5 1322.5V1324.5M806.5 1323.5H813.5M806.5 1319.5V1323.5M795.5 1321.5H806.5M795.5 1315.5V1321.5M786.5 1318.5H795.5M818.5 1327.5H822.5M818.5 1329.5H822.5M818.5 1327.5V1329.5M815.5 1328.5H818.5M815.5 1331.5H822.5M815.5 1328.5V1331.5M812.5 1329.5H815.5M814.5 1333.5H822.5M814.5 1335.5H822.5M814.5 1333.5V1335.5M812.5 1334.5H814.5M812.5 1329.5V1334.5M804.5 1331.5H812.5M808.5 1337.5H822.5M814.5 1339.5H822.5M814.5 1341.5H822.5M814.5 1339.5V1341.5M808.5 1340.5H814.5M808.5 1337.5V1340.5M804.5 1339.5H808.5M804.5 1331.5V1339.5M799.5 1335.5H804.5M811.5 1343.5H822.5M816.5 1345.5H822.5M816.5 1347.5H822.5M816.5 1345.5V1347.5M811.5 1346.5H816.5M811.5 1343.5V1346.5M806.5 1345.5H811.5M810.5 1349.5H822.5M817.5 1352.5H822.5M817.5 1354.5H822.5M817.5 1352.5V1354.5M810.5 1353.5H817.5M810.5 1349.5V1353.5M806.5 1351.5H810.5M806.5 1345.5V1351.5M799.5 1348.5H806.5M799.5 1335.5V1348.5M786.5 1341.5H799.5M786.5 1318.5V1341.5M781.5 1330.5H786.5M815.5 1356.5H822.5M815.5 1358.5H822.5M815.5 1356.5V1358.5M810.5 1357.5H815.5M812.5 1360.5H822.5M812.5 1362.5H822.5M812.5 1360.5V1362.5M810.5 1361.5H812.5M810.5 1357.5V1361.5M806.5 1359.5H810.5M812.5 1364.5H822.5M815.5 1366.5H822.5M817.5 1368.5H822.5M817.5 1370.5H822.5M817.5 1368.5V1370.5M815.5 1369.5H817.5M815.5 1366.5V1369.5M812.5 1368.5H815.5M812.5 1364.5V1368.5M806.5 1366.5H812.5M806.5 1359.5V1366.5M781.5 1362.5H806.5M781.5 1330.5V1362.5M703.5 1346.5H781.5M798.5 1372.5H822.5M798.5 1374.5H822.5M798.5 1372.5V1374.5M790.5 1373.5H798.5M804.5 1377.5H822.5M804.5 1379.5H822.5M804.5 1377.5V1379.5M799.5 1378.5H804.5M809.5 1381.5H822.5M809.5 1383.5H822.5M809.5 1381.5V1383.5M805.5 1382.5H809.5M805.5 1385.5H822.5M805.5 1382.5V1385.5M799.5 1383.5H805.5M799.5 1378.5V1383.5M790.5 1380.5H799.5M790.5 1373.5V1380.5M783.5 1377.5H790.5M806.5 1387.5H822.5M810.5 1389.5H822.5M810.5 1391.5H822.5M810.5 1389.5V1391.5M806.5 1390.5H810.5M806.5 1387.5V1390.5M793.5 1389.5H806.5M804.5 1393.5H822.5M808.5 1395.5H822.5M808.5 1397.5H822.5M808.5 1395.5V1397.5M804.5 1396.5H808.5M804.5 1393.5V1396.5M798.5 1395.5H804.5M811.5 1399.5H822.5M811.5 1402.5H822.5M811.5 1399.5V1402.5M803.5 1401.5H811.5M803.5 1404.5H822.5M803.5 1401.5V1404.5M798.5 1402.5H803.5M798.5 1395.5V1402.5M793.5 1398.5H798.5M793.5 1389.5V1398.5M783.5 1393.5H793.5M783.5 1377.5V1393.5M773.5 1385.5H783.5M804.5 1406.5H822.5M814.5 1408.5H822.5M814.5 1410.5H822.5M814.5 1408.5V1410.5M804.5 1409.5H814.5M804.5 1406.5V1409.5M799.5 1407.5H804.5M813.5 1412.5H822.5M813.5 1414.5H822.5M813.5 1412.5V1414.5M805.5 1413.5H813.5M810.5 1416.5H822.5M813.5 1418.5H822.5M813.5 1420.5H822.5M813.5 1418.5V1420.5M810.5 1419.5H813.5M810.5 1416.5V1419.5M805.5 1418.5H810.5M805.5 1413.5V1418.5M799.5 1415.5H805.5M799.5 1407.5V1415.5M773.5 1411.5H799.5M773.5 1385.5V1411.5M703.5 1398.5H773.5M703.5 1346.5V1398.5M689.5 1372.5H703.5M689.5 1189.5V1372.5M682.5 1280.5H689.5M806.5 1422.5H822.5M806.5 1424.5H822.5M806.5 1422.5V1424.5M800.5 1423.5H806.5M800.5 1427.5H822.5M800.5 1423.5V1427.5M789.5 1425.5H800.5M811.5 1429.5H822.5M811.5 1431.5H822.5M811.5 1429.5V1431.5M808.5 1430.5H811.5M808.5 1433.5H822.5M808.5 1430.5V1433.5M798.5 1431.5H808.5M809.5 1435.5H822.5M809.5 1437.5H822.5M809.5 1435.5V1437.5M798.5 1436.5H809.5M798.5 1431.5V1436.5M789.5 1434.5H798.5M789.5 1425.5V1434.5M784.5 1429.5H789.5M810.5 1439.5H822.5M810.5 1441.5H822.5M810.5 1439.5V1441.5M803.5 1440.5H810.5M813.5 1443.5H822.5M813.5 1445.5H822.5M813.5 1443.5V1445.5M809.5 1444.5H813.5M809.5 1447.5H822.5M809.5 1444.5V1447.5M803.5 1446.5H809.5M803.5 1440.5V1446.5M790.5 1443.5H803.5M811.5 1449.5H822.5M815.5 1452.5H822.5M815.5 1454.5H822.5M815.5 1452.5V1454.5M811.5 1453.5H815.5M811.5 1449.5V1453.5M808.5 1451.5H811.5M814.5 1456.5H822.5M814.5 1458.5H822.5M814.5 1456.5V1458.5M808.5 1457.5H814.5M808.5 1451.5V1457.5M801.5 1454.5H808.5M813.5 1460.5H822.5M813.5 1462.5H822.5M813.5 1460.5V1462.5M805.5 1461.5H813.5M805.5 1464.5H822.5M805.5 1461.5V1464.5M801.5 1463.5H805.5M801.5 1454.5V1463.5M790.5 1458.5H801.5M790.5 1443.5V1458.5M784.5 1451.5H790.5M784.5 1429.5V1451.5M778.5 1440.5H784.5M806.5 1466.5H822.5M812.5 1468.5H822.5M816.5 1470.5H822.5M816.5 1472.5H822.5M816.5 1470.5V1472.5M812.5 1471.5H816.5M812.5 1468.5V1471.5M806.5 1470.5H812.5M806.5 1466.5V1470.5M800.5 1468.5H806.5M812.5 1474.5H822.5M812.5 1477.5H822.5M812.5 1474.5V1477.5M807.5 1476.5H812.5M818.5 1479.5H822.5M818.5 1481.5H822.5M818.5 1479.5V1481.5M812.5 1480.5H818.5M812.5 1483.5H822.5M812.5 1480.5V1483.5M807.5 1481.5H812.5M807.5 1476.5V1481.5M800.5 1478.5H807.5M800.5 1468.5V1478.5M778.5 1473.5H800.5M778.5 1440.5V1473.5M682.5 1457.5H778.5M682.5 1280.5V1457.5M660.5 1368.5H682.5M660.5 964.5V1368.5M653.5 1166.5H660.5M653.5 829.5V1166.5M649.5 998.5H653.5M811.5 1485.5H822.5M811.5 1487.5H822.5M811.5 1485.5V1487.5M801.5 1486.5H811.5M801.5 1489.5H822.5M801.5 1486.5V1489.5M776.5 1488.5H801.5M801.5 1491.5H822.5M808.5 1493.5H822.5M811.5 1495.5H822.5M811.5 1497.5H822.5M811.5 1495.5V1497.5M808.5 1496.5H811.5M808.5 1493.5V1496.5M801.5 1495.5H808.5M801.5 1491.5V1495.5M785.5 1493.5H801.5M800.5 1499.5H822.5M800.5 1502.5H822.5M800.5 1499.5V1502.5M792.5 1501.5H800.5M802.5 1504.5H822.5M808.5 1506.5H822.5M808.5 1508.5H822.5M808.5 1506.5V1508.5M802.5 1507.5H808.5M802.5 1504.5V1507.5M792.5 1505.5H802.5M792.5 1501.5V1505.5M785.5 1503.5H792.5M785.5 1493.5V1503.5M779.5 1498.5H785.5M812.5 1510.5H822.5M812.5 1512.5H822.5M812.5 1510.5V1512.5M805.5 1511.5H812.5M805.5 1514.5H822.5M805.5 1511.5V1514.5M796.5 1513.5H805.5M803.5 1516.5H822.5M803.5 1518.5H822.5M803.5 1516.5V1518.5M796.5 1517.5H803.5M796.5 1513.5V1517.5M787.5 1515.5H796.5M805.5 1520.5H822.5M805.5 1522.5H822.5M805.5 1520.5V1522.5M801.5 1521.5H805.5M809.5 1524.5H822.5M809.5 1527.5H822.5M809.5 1524.5V1527.5M805.5 1526.5H809.5M805.5 1529.5H822.5M805.5 1526.5V1529.5M801.5 1527.5H805.5M801.5 1521.5V1527.5M787.5 1524.5H801.5M787.5 1515.5V1524.5M779.5 1520.5H787.5M779.5 1498.5V1520.5M776.5 1509.5H779.5M776.5 1488.5V1509.5M759.5 1498.5H776.5M816.5 1531.5H822.5M816.5 1533.5H822.5M816.5 1531.5V1533.5M809.5 1532.5H816.5M815.5 1535.5H822.5M815.5 1537.5H822.5M815.5 1535.5V1537.5M809.5 1536.5H815.5M809.5 1532.5V1536.5M803.5 1534.5H809.5M813.5 1539.5H822.5M813.5 1541.5H822.5M813.5 1539.5V1541.5M806.5 1540.5H813.5M806.5 1543.5H822.5M806.5 1540.5V1543.5M803.5 1542.5H806.5M803.5 1534.5V1542.5M790.5 1538.5H803.5M812.5 1545.5H822.5M812.5 1547.5H822.5M812.5 1545.5V1547.5M806.5 1546.5H812.5M813.5 1549.5H822.5M813.5 1552.5H822.5M813.5 1549.5V1552.5M806.5 1551.5H813.5M806.5 1546.5V1551.5M803.5 1548.5H806.5M810.5 1554.5H822.5M810.5 1556.5H822.5M810.5 1554.5V1556.5M803.5 1555.5H810.5M803.5 1548.5V1555.5M796.5 1552.5H803.5M811.5 1558.5H822.5M811.5 1560.5H822.5M811.5 1558.5V1560.5M804.5 1559.5H811.5M809.5 1562.5H822.5M812.5 1564.5H822.5M812.5 1566.5H822.5M812.5 1564.5V1566.5M809.5 1565.5H812.5M809.5 1562.5V1565.5M804.5 1564.5H809.5M804.5 1559.5V1564.5M796.5 1561.5H804.5M796.5 1552.5V1561.5M790.5 1556.5H796.5M790.5 1538.5V1556.5M759.5 1547.5H790.5M759.5 1498.5V1547.5M649.5 1523.5H759.5M649.5 998.5V1523.5M634.5 1260.5H649.5M815.5 1568.5H822.5M815.5 1570.5H822.5M815.5 1568.5V1570.5M806.5 1569.5H815.5M813.5 1572.5H822.5M813.5 1574.5H822.5M813.5 1572.5V1574.5M806.5 1573.5H813.5M806.5 1569.5V1573.5M793.5 1571.5H806.5M817.5 1577.5H822.5M817.5 1579.5H822.5M817.5 1577.5V1579.5M811.5 1578.5H817.5M811.5 1581.5H822.5M811.5 1578.5V1581.5M802.5 1579.5H811.5M809.5 1583.5H822.5M817.5 1585.5H822.5M817.5 1587.5H822.5M817.5 1585.5V1587.5M809.5 1586.5H817.5M809.5 1583.5V1586.5M802.5 1584.5H809.5M802.5 1579.5V1584.5M793.5 1582.5H802.5M793.5 1571.5V1582.5M765.5 1577.5H793.5M813.5 1589.5H822.5M813.5 1591.5H822.5M813.5 1589.5V1591.5M806.5 1590.5H813.5M806.5 1593.5H822.5M806.5 1590.5V1593.5M801.5 1592.5H806.5M812.5 1595.5H822.5M812.5 1597.5H822.5M812.5 1595.5V1597.5M801.5 1596.5H812.5M801.5 1592.5V1596.5M797.5 1594.5H801.5M814.5 1599.5H822.5M814.5 1602.5H822.5M814.5 1599.5V1602.5M811.5 1601.5H814.5M814.5 1604.5H822.5M814.5 1606.5H822.5M814.5 1604.5V1606.5M811.5 1605.5H814.5M811.5 1601.5V1605.5M804.5 1603.5H811.5M807.5 1608.5H822.5M818.5 1610.5H822.5M818.5 1612.5H822.5M818.5 1610.5V1612.5M812.5 1611.5H818.5M812.5 1614.5H822.5M812.5 1611.5V1614.5M807.5 1613.5H812.5M807.5 1608.5V1613.5M804.5 1610.5H807.5M804.5 1603.5V1610.5M797.5 1606.5H804.5M797.5 1594.5V1606.5M779.5 1600.5H797.5M813.5 1616.5H822.5M813.5 1618.5H822.5M813.5 1616.5V1618.5M807.5 1617.5H813.5M815.5 1620.5H822.5M815.5 1622.5H822.5M815.5 1620.5V1622.5M807.5 1621.5H815.5M807.5 1617.5V1621.5M801.5 1619.5H807.5M813.5 1625.5H822.5M816.5 1627.5H822.5M816.5 1629.5H822.5M816.5 1627.5V1629.5M813.5 1628.5H816.5M813.5 1625.5V1628.5M807.5 1626.5H813.5M810.5 1631.5H822.5M810.5 1633.5H822.5M810.5 1631.5V1633.5M807.5 1632.5H810.5M807.5 1626.5V1632.5M801.5 1629.5H807.5M801.5 1619.5V1629.5M796.5 1624.5H801.5M812.5 1635.5H822.5M812.5 1637.5H822.5M812.5 1635.5V1637.5M807.5 1636.5H812.5M817.5 1639.5H822.5M817.5 1641.5H822.5M817.5 1639.5V1641.5M811.5 1640.5H817.5M811.5 1643.5H822.5M811.5 1640.5V1643.5M807.5 1642.5H811.5M807.5 1636.5V1642.5M804.5 1639.5H807.5M810.5 1645.5H822.5M810.5 1647.5H822.5M810.5 1645.5V1647.5M807.5 1646.5H810.5M810.5 1650.5H822.5M815.5 1652.5H822.5M815.5 1654.5H822.5M815.5 1652.5V1654.5M810.5 1653.5H815.5M810.5 1650.5V1653.5M807.5 1651.5H810.5M807.5 1646.5V1651.5M804.5 1649.5H807.5M804.5 1639.5V1649.5M796.5 1644.5H804.5M796.5 1624.5V1644.5M779.5 1634.5H796.5M779.5 1600.5V1634.5M765.5 1617.5H779.5M765.5 1577.5V1617.5M759.5 1597.5H765.5M812.5 1656.5H822.5M812.5 1658.5H822.5M812.5 1656.5V1658.5M806.5 1657.5H812.5M806.5 1660.5H822.5M806.5 1657.5V1660.5M802.5 1658.5H806.5M813.5 1662.5H822.5M813.5 1664.5H822.5M813.5 1662.5V1664.5M805.5 1663.5H813.5M815.5 1666.5H822.5M815.5 1668.5H822.5M815.5 1666.5V1668.5M805.5 1667.5H815.5M805.5 1663.5V1667.5M802.5 1665.5H805.5M802.5 1658.5V1665.5M759.5 1662.5H802.5M759.5 1597.5V1662.5M634.5 1629.5H759.5M634.5 1260.5V1629.5M622.5 1445.5H634.5M622.5 654.5V1445.5" fill="none" stroke="#000" stroke-width="1" stroke-linecap="square" shape-rendering="crispEdges"/></svg>
</div></body></html>
